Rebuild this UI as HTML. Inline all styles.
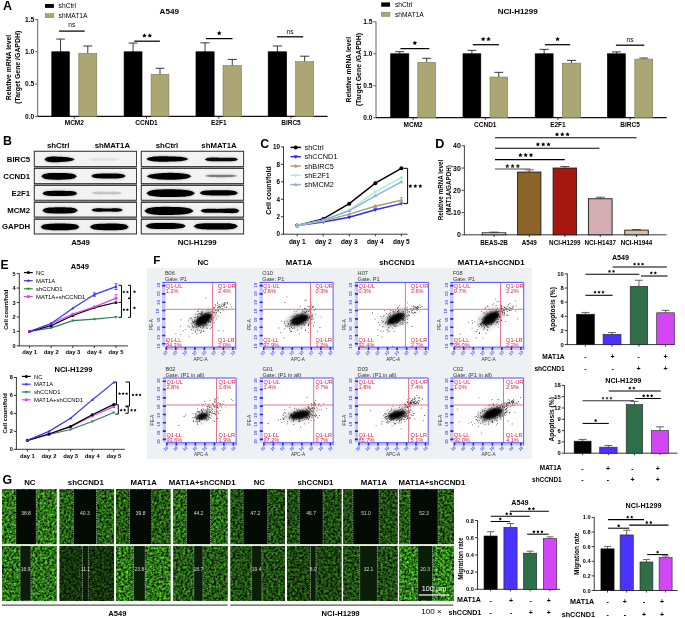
<!DOCTYPE html><html><head><meta charset="utf-8"><style>html,body{margin:0;padding:0;background:#fff;}svg{display:block;will-change:transform;font-family:"Liberation Sans", sans-serif;}</style></head><body><svg width="685" height="618" viewBox="0 0 685 618" font-family="'Liberation Sans', sans-serif"><defs><filter id="bl" x="-20%" y="-80%" width="140%" height="260%"><feGaussianBlur stdDeviation="0.6"/></filter><filter id="bl2" x="-30%" y="-150%" width="160%" height="400%"><feGaussianBlur stdDeviation="1.5"/></filter><filter id="sb1" x="-50%" y="-50%" width="200%" height="200%"><feGaussianBlur stdDeviation="1.0"/></filter><filter id="sb2" x="-50%" y="-50%" width="200%" height="200%"><feGaussianBlur stdDeviation="2.0"/></filter><filter id="g00" x="0" y="0" width="100%" height="100%" color-interpolation-filters="sRGB"><feTurbulence type="fractalNoise" baseFrequency="0.42" numOctaves="3" seed="1"/><feColorMatrix values="0.56 0 0 0 -0.1  1.47 0 0 0 -0.28  0.32 0 0 0 -0.06  0 0 0 0 1"/></filter><filter id="g01" x="0" y="0" width="100%" height="100%" color-interpolation-filters="sRGB"><feTurbulence type="fractalNoise" baseFrequency="0.42" numOctaves="3" seed="2"/><feColorMatrix values="0.46 0 0 0 -0.09  1.2 0 0 0 -0.22  0.26 0 0 0 -0.05  0 0 0 0 1"/></filter><filter id="g02" x="0" y="0" width="100%" height="100%" color-interpolation-filters="sRGB"><feTurbulence type="fractalNoise" baseFrequency="0.42" numOctaves="3" seed="3"/><feColorMatrix values="0.44 0 0 0 -0.08  1.15 0 0 0 -0.22  0.25 0 0 0 -0.05  0 0 0 0 1"/></filter><filter id="g03" x="0" y="0" width="100%" height="100%" color-interpolation-filters="sRGB"><feTurbulence type="fractalNoise" baseFrequency="0.42" numOctaves="3" seed="4"/><feColorMatrix values="0.49 0 0 0 -0.09  1.28 0 0 0 -0.24  0.28 0 0 0 -0.05  0 0 0 0 1"/></filter><filter id="g04" x="0" y="0" width="100%" height="100%" color-interpolation-filters="sRGB"><feTurbulence type="fractalNoise" baseFrequency="0.42" numOctaves="3" seed="5"/><feColorMatrix values="0.38 0 0 0 -0.07  0.99 0 0 0 -0.19  0.22 0 0 0 -0.04  0 0 0 0 1"/></filter><filter id="g05" x="0" y="0" width="100%" height="100%" color-interpolation-filters="sRGB"><feTurbulence type="fractalNoise" baseFrequency="0.42" numOctaves="3" seed="6"/><feColorMatrix values="0.37 0 0 0 -0.07  0.96 0 0 0 -0.18  0.21 0 0 0 -0.04  0 0 0 0 1"/></filter><filter id="g06" x="0" y="0" width="100%" height="100%" color-interpolation-filters="sRGB"><feTurbulence type="fractalNoise" baseFrequency="0.42" numOctaves="3" seed="7"/><feColorMatrix values="0.37 0 0 0 -0.07  0.96 0 0 0 -0.18  0.21 0 0 0 -0.04  0 0 0 0 1"/></filter><filter id="g07" x="0" y="0" width="100%" height="100%" color-interpolation-filters="sRGB"><feTurbulence type="fractalNoise" baseFrequency="0.42" numOctaves="3" seed="8"/><feColorMatrix values="0.44 0 0 0 -0.08  1.15 0 0 0 -0.22  0.25 0 0 0 -0.05  0 0 0 0 1"/></filter><filter id="g10" x="0" y="0" width="100%" height="100%" color-interpolation-filters="sRGB"><feTurbulence type="fractalNoise" baseFrequency="0.42" numOctaves="3" seed="9"/><feColorMatrix values="0.54 0 0 0 -0.1  1.41 0 0 0 -0.26  0.31 0 0 0 -0.06  0 0 0 0 1"/></filter><filter id="g11" x="0" y="0" width="100%" height="100%" color-interpolation-filters="sRGB"><feTurbulence type="fractalNoise" baseFrequency="0.42" numOctaves="3" seed="10"/><feColorMatrix values="0.26 0 0 0 -0.05  0.67 0 0 0 -0.13  0.15 0 0 0 -0.03  0 0 0 0 1"/></filter><filter id="g12" x="0" y="0" width="100%" height="100%" color-interpolation-filters="sRGB"><feTurbulence type="fractalNoise" baseFrequency="0.42" numOctaves="3" seed="11"/><feColorMatrix values="0.56 0 0 0 -0.1  1.47 0 0 0 -0.28  0.32 0 0 0 -0.06  0 0 0 0 1"/></filter><filter id="g13" x="0" y="0" width="100%" height="100%" color-interpolation-filters="sRGB"><feTurbulence type="fractalNoise" baseFrequency="0.42" numOctaves="3" seed="12"/><feColorMatrix values="0.44 0 0 0 -0.08  1.15 0 0 0 -0.22  0.25 0 0 0 -0.05  0 0 0 0 1"/></filter><filter id="g14" x="0" y="0" width="100%" height="100%" color-interpolation-filters="sRGB"><feTurbulence type="fractalNoise" baseFrequency="0.42" numOctaves="3" seed="13"/><feColorMatrix values="0.38 0 0 0 -0.07  0.99 0 0 0 -0.19  0.22 0 0 0 -0.04  0 0 0 0 1"/></filter><filter id="g15" x="0" y="0" width="100%" height="100%" color-interpolation-filters="sRGB"><feTurbulence type="fractalNoise" baseFrequency="0.42" numOctaves="3" seed="14"/><feColorMatrix values="0.34 0 0 0 -0.06  0.88 0 0 0 -0.17  0.19 0 0 0 -0.04  0 0 0 0 1"/></filter><filter id="g16" x="0" y="0" width="100%" height="100%" color-interpolation-filters="sRGB"><feTurbulence type="fractalNoise" baseFrequency="0.42" numOctaves="3" seed="15"/><feColorMatrix values="0.38 0 0 0 -0.07  0.99 0 0 0 -0.19  0.22 0 0 0 -0.04  0 0 0 0 1"/></filter><filter id="g17" x="0" y="0" width="100%" height="100%" color-interpolation-filters="sRGB"><feTurbulence type="fractalNoise" baseFrequency="0.42" numOctaves="3" seed="16"/><feColorMatrix values="0.58 0 0 0 -0.11  1.52 0 0 0 -0.28  0.33 0 0 0 -0.06  0 0 0 0 1"/></filter></defs><rect width="685" height="618" fill="#fff"/><text x="2.9" y="9.5" font-size="12.5" font-weight="bold">A</text><rect x="45" y="4" width="8.9" height="3.9" fill="#000"/><rect x="45.2" y="13.7" width="8.6" height="4" fill="#aba674" stroke="#7d7a55" stroke-width="0.5"/><text x="58.6" y="7.91" font-size="6.7" font-weight="normal">shCtrl</text><text x="58.6" y="17.91" font-size="6.7" font-weight="normal">shMAT1A</text><text x="169.25" y="13.62" font-size="8.1" font-weight="bold" text-anchor="middle">A549</text><line x1="37.7" y1="19.1" x2="37.7" y2="116.8" stroke="#666" stroke-width="1"/><line x1="35" y1="19.5" x2="37.7" y2="19.5" stroke="#666" stroke-width="1"/><text x="34.2" y="21.88" font-size="6.6" font-weight="bold" text-anchor="end">1.5</text><line x1="35" y1="51.8" x2="37.7" y2="51.8" stroke="#666" stroke-width="1"/><text x="34.2" y="54.18" font-size="6.6" font-weight="bold" text-anchor="end">1.0</text><line x1="35" y1="84.1" x2="37.7" y2="84.1" stroke="#666" stroke-width="1"/><text x="34.2" y="86.48" font-size="6.6" font-weight="bold" text-anchor="end">0.5</text><line x1="35" y1="116.4" x2="37.7" y2="116.4" stroke="#666" stroke-width="1"/><text x="34.2" y="118.78" font-size="6.6" font-weight="bold" text-anchor="end">0.0</text><line x1="37.7" y1="116.4" x2="327.6" y2="116.4" stroke="#111" stroke-width="1.2"/><line x1="60.55" y1="39.07" x2="60.55" y2="51.8" stroke="#222" stroke-width="0.9"/><line x1="56.17" y1="39.07" x2="64.92" y2="39.07" stroke="#222" stroke-width="0.9"/><rect x="51.8" y="51.8" width="17.5" height="64.6" fill="#000" stroke="#000" stroke-width="0.7"/><line x1="87.8" y1="45.99" x2="87.8" y2="53.29" stroke="#222" stroke-width="0.9"/><line x1="83.3" y1="45.99" x2="92.3" y2="45.99" stroke="#222" stroke-width="0.9"/><rect x="78.8" y="53.29" width="18" height="63.11" fill="#aba674" stroke="#7d7a55" stroke-width="0.6"/><line x1="74.3" y1="116.4" x2="74.3" y2="118.6" stroke="#222" stroke-width="0.9"/><text x="74.3" y="125.14" font-size="6.5" font-weight="bold" text-anchor="middle">MCM2</text><line x1="133.05" y1="43.08" x2="133.05" y2="51.8" stroke="#222" stroke-width="0.9"/><line x1="128.58" y1="43.08" x2="137.53" y2="43.08" stroke="#222" stroke-width="0.9"/><rect x="124.1" y="51.8" width="17.9" height="64.6" fill="#000" stroke="#000" stroke-width="0.7"/><line x1="160" y1="68.21" x2="160" y2="74.28" stroke="#222" stroke-width="0.9"/><line x1="155.55" y1="68.21" x2="164.45" y2="68.21" stroke="#222" stroke-width="0.9"/><rect x="151.1" y="74.28" width="17.8" height="42.12" fill="#aba674" stroke="#7d7a55" stroke-width="0.6"/><line x1="146.5" y1="116.4" x2="146.5" y2="118.6" stroke="#222" stroke-width="0.9"/><text x="146.5" y="125.14" font-size="6.5" font-weight="bold" text-anchor="middle">CCND1</text><line x1="205.05" y1="42.82" x2="205.05" y2="51.8" stroke="#222" stroke-width="0.9"/><line x1="200.53" y1="42.82" x2="209.58" y2="42.82" stroke="#222" stroke-width="0.9"/><rect x="196" y="51.8" width="18.1" height="64.6" fill="#000" stroke="#000" stroke-width="0.7"/><line x1="232.25" y1="59.42" x2="232.25" y2="65.69" stroke="#222" stroke-width="0.9"/><line x1="227.62" y1="59.42" x2="236.88" y2="59.42" stroke="#222" stroke-width="0.9"/><rect x="223" y="65.69" width="18.5" height="50.71" fill="#aba674" stroke="#7d7a55" stroke-width="0.6"/><line x1="218.75" y1="116.4" x2="218.75" y2="118.6" stroke="#222" stroke-width="0.9"/><text x="218.75" y="125.14" font-size="6.5" font-weight="bold" text-anchor="middle">E2F1</text><line x1="277.4" y1="45.99" x2="277.4" y2="51.8" stroke="#222" stroke-width="0.9"/><line x1="272.8" y1="45.99" x2="282" y2="45.99" stroke="#222" stroke-width="0.9"/><rect x="268.2" y="51.8" width="18.4" height="64.6" fill="#000" stroke="#000" stroke-width="0.7"/><line x1="304.65" y1="56.19" x2="304.65" y2="61.68" stroke="#222" stroke-width="0.9"/><line x1="300.12" y1="56.19" x2="309.17" y2="56.19" stroke="#222" stroke-width="0.9"/><rect x="295.6" y="61.68" width="18.1" height="54.72" fill="#aba674" stroke="#7d7a55" stroke-width="0.6"/><line x1="290.95" y1="116.4" x2="290.95" y2="118.6" stroke="#222" stroke-width="0.9"/><text x="290.95" y="125.14" font-size="6.5" font-weight="bold" text-anchor="middle">BIRC5</text><line x1="59" y1="31.1" x2="84.7" y2="31.1" stroke="#000" stroke-width="1.25"/><text x="71.85" y="27.18" font-size="6.6" font-weight="normal" text-anchor="middle">ns</text><line x1="134.3" y1="41.2" x2="159.9" y2="41.2" stroke="#000" stroke-width="1.25"/><path d="M144.4 33.24L145.11 34.67L146.68 34.9L145.54 36.01L145.81 37.58L144.4 36.84L142.99 37.58L143.26 36.01L142.12 34.9L143.69 34.67ZM149.8 33.24L150.51 34.67L152.08 34.9L150.94 36.01L151.21 37.58L149.8 36.84L148.39 37.58L148.66 36.01L147.52 34.9L149.09 34.67Z" fill="#000"/><line x1="206" y1="38.6" x2="232.5" y2="38.6" stroke="#000" stroke-width="1.25"/><path d="M219.25 30.84L219.96 32.27L221.53 32.5L220.39 33.61L220.66 35.18L219.25 34.44L217.84 35.18L218.11 33.61L216.97 32.5L218.54 32.27Z" fill="#000"/><line x1="277" y1="36.8" x2="303.2" y2="36.8" stroke="#000" stroke-width="1.25"/><text x="290.1" y="33.58" font-size="6.6" font-weight="normal" text-anchor="middle">ns</text><text x="8.4" y="69.95" font-size="6.8" font-weight="bold" text-anchor="middle" transform="rotate(-90 8.4 67.5)">Relative mRNA level</text><text x="17.3" y="69.78" font-size="6.9" font-weight="bold" text-anchor="middle" transform="rotate(-90 17.3 67.3)">(Target Gene /GAPDH)</text><rect x="381.2" y="2.4" width="8.8" height="4.3" fill="#000"/><rect x="381.4" y="12.2" width="8.5" height="4.2" fill="#aba674" stroke="#7d7a55" stroke-width="0.5"/><text x="394.9" y="6.91" font-size="6.7" font-weight="normal">shCtrl</text><text x="394.9" y="16.61" font-size="6.7" font-weight="normal">shMAT1A</text><text x="517.7" y="13.88" font-size="8" font-weight="bold" text-anchor="middle">NCI-H1299</text><line x1="376" y1="21.45" x2="376" y2="118.1" stroke="#666" stroke-width="1"/><line x1="373.3" y1="21.85" x2="376" y2="21.85" stroke="#666" stroke-width="1"/><text x="372.5" y="24.23" font-size="6.6" font-weight="bold" text-anchor="end">1.5</text><line x1="373.3" y1="53.8" x2="376" y2="53.8" stroke="#666" stroke-width="1"/><text x="372.5" y="56.18" font-size="6.6" font-weight="bold" text-anchor="end">1.0</text><line x1="373.3" y1="85.75" x2="376" y2="85.75" stroke="#666" stroke-width="1"/><text x="372.5" y="88.13" font-size="6.6" font-weight="bold" text-anchor="end">0.5</text><line x1="373.3" y1="117.7" x2="376" y2="117.7" stroke="#666" stroke-width="1"/><text x="372.5" y="120.08" font-size="6.6" font-weight="bold" text-anchor="end">0.0</text><line x1="376" y1="117.7" x2="666.8" y2="117.7" stroke="#111" stroke-width="1.2"/><line x1="399.75" y1="51.69" x2="399.75" y2="53.8" stroke="#222" stroke-width="0.9"/><line x1="395.23" y1="51.69" x2="404.27" y2="51.69" stroke="#222" stroke-width="0.9"/><rect x="390.7" y="53.8" width="18.1" height="63.9" fill="#000" stroke="#000" stroke-width="0.7"/><line x1="426.7" y1="58.27" x2="426.7" y2="62.3" stroke="#222" stroke-width="0.9"/><line x1="422.25" y1="58.27" x2="431.15" y2="58.27" stroke="#222" stroke-width="0.9"/><rect x="417.8" y="62.3" width="17.8" height="55.4" fill="#aba674" stroke="#7d7a55" stroke-width="0.6"/><line x1="413.15" y1="117.7" x2="413.15" y2="119.9" stroke="#222" stroke-width="0.9"/><text x="413.15" y="126.74" font-size="6.5" font-weight="bold" text-anchor="middle">MCM2</text><line x1="471.9" y1="50.35" x2="471.9" y2="53.8" stroke="#222" stroke-width="0.9"/><line x1="467.45" y1="50.35" x2="476.35" y2="50.35" stroke="#222" stroke-width="0.9"/><rect x="463" y="53.8" width="17.8" height="63.9" fill="#000" stroke="#000" stroke-width="0.7"/><line x1="498.8" y1="72.33" x2="498.8" y2="77" stroke="#222" stroke-width="0.9"/><line x1="494.4" y1="72.33" x2="503.2" y2="72.33" stroke="#222" stroke-width="0.9"/><rect x="490" y="77" width="17.6" height="40.7" fill="#aba674" stroke="#7d7a55" stroke-width="0.6"/><line x1="485.3" y1="117.7" x2="485.3" y2="119.9" stroke="#222" stroke-width="0.9"/><text x="485.3" y="126.74" font-size="6.5" font-weight="bold" text-anchor="middle">CCND1</text><line x1="544.15" y1="49.39" x2="544.15" y2="53.8" stroke="#222" stroke-width="0.9"/><line x1="539.68" y1="49.39" x2="548.63" y2="49.39" stroke="#222" stroke-width="0.9"/><rect x="535.2" y="53.8" width="17.9" height="63.9" fill="#000" stroke="#000" stroke-width="0.7"/><line x1="571.5" y1="60.38" x2="571.5" y2="63.13" stroke="#222" stroke-width="0.9"/><line x1="566.9" y1="60.38" x2="576.1" y2="60.38" stroke="#222" stroke-width="0.9"/><rect x="562.3" y="63.13" width="18.4" height="54.57" fill="#aba674" stroke="#7d7a55" stroke-width="0.6"/><line x1="557.95" y1="117.7" x2="557.95" y2="119.9" stroke="#222" stroke-width="0.9"/><text x="557.95" y="126.74" font-size="6.5" font-weight="bold" text-anchor="middle">E2F1</text><line x1="616.4" y1="51.88" x2="616.4" y2="53.8" stroke="#222" stroke-width="0.9"/><line x1="611.95" y1="51.88" x2="620.85" y2="51.88" stroke="#222" stroke-width="0.9"/><rect x="607.5" y="53.8" width="17.8" height="63.9" fill="#000" stroke="#000" stroke-width="0.7"/><line x1="643.75" y1="58.02" x2="643.75" y2="59.1" stroke="#222" stroke-width="0.9"/><line x1="639.27" y1="58.02" x2="648.23" y2="58.02" stroke="#222" stroke-width="0.9"/><rect x="634.8" y="59.1" width="17.9" height="58.6" fill="#aba674" stroke="#7d7a55" stroke-width="0.6"/><line x1="630.1" y1="117.7" x2="630.1" y2="119.9" stroke="#222" stroke-width="0.9"/><text x="630.1" y="126.74" font-size="6.5" font-weight="bold" text-anchor="middle">BIRC5</text><line x1="400.4" y1="48.6" x2="429.3" y2="48.6" stroke="#000" stroke-width="1.25"/><path d="M414.85 40.64L415.56 42.07L417.13 42.3L415.99 43.41L416.26 44.98L414.85 44.24L413.44 44.98L413.71 43.41L412.57 42.3L414.14 42.07Z" fill="#000"/><line x1="472.7" y1="44.7" x2="499" y2="44.7" stroke="#000" stroke-width="1.25"/><path d="M483.15 36.74L483.86 38.17L485.43 38.4L484.29 39.51L484.56 41.08L483.15 40.34L481.74 41.08L482.01 39.51L480.87 38.4L482.44 38.17ZM488.55 36.74L489.26 38.17L490.83 38.4L489.69 39.51L489.96 41.08L488.55 40.34L487.14 41.08L487.41 39.51L486.27 38.4L487.84 38.17Z" fill="#000"/><line x1="545" y1="44.7" x2="570.2" y2="44.7" stroke="#000" stroke-width="1.25"/><path d="M557.6 36.74L558.31 38.17L559.88 38.4L558.74 39.51L559.01 41.08L557.6 40.34L556.19 41.08L556.46 39.51L555.32 38.4L556.89 38.17Z" fill="#000"/><line x1="615.9" y1="45.2" x2="644.3" y2="45.2" stroke="#000" stroke-width="1.25"/><text x="630.1" y="41.78" font-size="6.6" font-weight="normal" text-anchor="middle">ns</text><text x="348.2" y="72.15" font-size="6.8" font-weight="bold" text-anchor="middle" transform="rotate(-90 348.2 69.7)">Relative mRNA level</text><text x="358.5" y="71.98" font-size="6.9" font-weight="bold" text-anchor="middle" transform="rotate(-90 358.5 69.5)">(Target Gene /GAPDH)</text><text x="3.1" y="144.8" font-size="12.4" font-weight="bold">B</text><rect x="33.8" y="150.8" width="103.2" height="83.6" fill="#8a8a8a"/><rect x="34.3" y="151.3" width="102.2" height="15.2" fill="#f3f3f3" stroke="#333" stroke-width="0.9"/><rect x="34.3" y="168.5" width="102.2" height="15.1" fill="#f3f3f3" stroke="#333" stroke-width="0.9"/><rect x="34.3" y="185.5" width="102.2" height="14.7" fill="#f3f3f3" stroke="#333" stroke-width="0.9"/><rect x="34.3" y="202.5" width="102.2" height="14.5" fill="#f3f3f3" stroke="#333" stroke-width="0.9"/><rect x="34.3" y="219.4" width="102.2" height="14.5" fill="#f3f3f3" stroke="#333" stroke-width="0.9"/><rect x="140.8" y="150.8" width="103.3" height="83.6" fill="#8a8a8a"/><rect x="141.3" y="151.3" width="102.3" height="15.2" fill="#f3f3f3" stroke="#333" stroke-width="0.9"/><rect x="141.3" y="168.5" width="102.3" height="15.1" fill="#f3f3f3" stroke="#333" stroke-width="0.9"/><rect x="141.3" y="185.5" width="102.3" height="14.7" fill="#f3f3f3" stroke="#333" stroke-width="0.9"/><rect x="141.3" y="202.5" width="102.3" height="14.5" fill="#f3f3f3" stroke="#333" stroke-width="0.9"/><rect x="141.3" y="219.4" width="102.3" height="14.5" fill="#f3f3f3" stroke="#333" stroke-width="0.9"/><text x="30.2" y="161.71" font-size="7.8" font-weight="bold" text-anchor="end">BIRC5</text><text x="30.2" y="178.86" font-size="7.8" font-weight="bold" text-anchor="end">CCND1</text><text x="30.2" y="195.66" font-size="7.8" font-weight="bold" text-anchor="end">E2F1</text><text x="30.2" y="212.56" font-size="7.8" font-weight="bold" text-anchor="end">MCM2</text><text x="30.2" y="229.46" font-size="7.8" font-weight="bold" text-anchor="end">GAPDH</text><text x="58.2" y="147.81" font-size="7.8" font-weight="bold" text-anchor="middle">shCtrl</text><text x="112.4" y="147.81" font-size="7.8" font-weight="bold" text-anchor="middle">shMAT1A</text><text x="167" y="147.81" font-size="7.8" font-weight="bold" text-anchor="middle">shCtrl</text><text x="219" y="147.81" font-size="7.8" font-weight="bold" text-anchor="middle">shMAT1A</text><text x="80.5" y="245.01" font-size="7.8" font-weight="bold" text-anchor="middle">A549</text><text x="197.2" y="245.01" font-size="7.8" font-weight="bold" text-anchor="middle">NCI-H1299</text><path d="M44.5 159.4L46.38 157.53L48.26 156.98L50.14 156.7L52.02 156.58L53.91 156.55L55.79 156.58L57.67 156.66L59.55 156.75L61.43 156.85L63.31 156.97L65.19 157.12L67.07 157.31L68.96 157.56L70.84 157.88L72.72 158.32L74.6 159.4L74.6 159.4L72.72 160.48L70.84 160.92L68.96 161.24L67.07 161.49L65.19 161.68L63.31 161.83L61.43 161.95L59.55 162.05L57.67 162.14L55.79 162.22L53.91 162.25L52.02 162.22L50.14 162.1L48.26 161.82L46.38 161.27L44.5 159.4Z" fill="#000" fill-opacity="0.3" filter="url(#bl2)" transform="translate(0 0)"/><path d="M44.5 159.4L46.38 157.53L48.26 156.98L50.14 156.7L52.02 156.58L53.91 156.55L55.79 156.58L57.67 156.66L59.55 156.75L61.43 156.85L63.31 156.97L65.19 157.12L67.07 157.31L68.96 157.56L70.84 157.88L72.72 158.32L74.6 159.4L74.6 159.4L72.72 160.48L70.84 160.92L68.96 161.24L67.07 161.49L65.19 161.68L63.31 161.83L61.43 161.95L59.55 162.05L57.67 162.14L55.79 162.22L53.91 162.25L52.02 162.22L50.14 162.1L48.26 161.82L46.38 161.27L44.5 159.4Z" fill="#000" fill-opacity="1" filter="url(#bl)"/><path d="M89.6 159.5L91.39 158.72L93.17 158.47L94.96 158.33L96.75 158.24L98.54 158.19L100.33 158.16L102.11 158.15L103.9 158.15L105.69 158.15L107.47 158.16L109.26 158.19L111.05 158.24L112.84 158.33L114.62 158.47L116.41 158.72L118.2 159.5L118.2 159.5L116.41 160.28L114.62 160.53L112.84 160.67L111.05 160.76L109.26 160.81L107.47 160.84L105.69 160.85L103.9 160.85L102.11 160.85L100.33 160.84L98.54 160.81L96.75 160.76L94.96 160.67L93.17 160.53L91.39 160.28L89.6 159.5Z" fill="#000" fill-opacity="0.02" filter="url(#bl2)" transform="translate(0 0)"/><path d="M89.6 159.5L91.39 158.72L93.17 158.47L94.96 158.33L96.75 158.24L98.54 158.19L100.33 158.16L102.11 158.15L103.9 158.15L105.69 158.15L107.47 158.16L109.26 158.19L111.05 158.24L112.84 158.33L114.62 158.47L116.41 158.72L118.2 159.5L118.2 159.5L116.41 160.28L114.62 160.53L112.84 160.67L111.05 160.76L109.26 160.81L107.47 160.84L105.69 160.85L103.9 160.85L102.11 160.85L100.33 160.84L98.54 160.81L96.75 160.76L94.96 160.67L93.17 160.53L91.39 160.28L89.6 159.5Z" fill="#000" fill-opacity="0.07" filter="url(#bl)"/><path d="M41.2 176.3L43.43 174.3L45.66 173.67L47.89 173.31L50.12 173.1L52.36 172.99L54.59 172.94L56.82 172.94L59.05 172.95L61.28 172.97L63.51 173.01L65.74 173.09L67.98 173.23L70.21 173.47L72.44 173.83L74.67 174.45L76.9 176.3L76.9 176.3L74.67 178.15L72.44 178.77L70.21 179.13L67.98 179.37L65.74 179.51L63.51 179.59L61.28 179.63L59.05 179.65L56.82 179.66L54.59 179.66L52.36 179.61L50.12 179.5L47.89 179.29L45.66 178.93L43.43 178.3L41.2 176.3Z" fill="#000" fill-opacity="0.3" filter="url(#bl2)" transform="translate(0 0)"/><path d="M41.2 176.3L43.43 174.3L45.66 173.67L47.89 173.31L50.12 173.1L52.36 172.99L54.59 172.94L56.82 172.94L59.05 172.95L61.28 172.97L63.51 173.01L65.74 173.09L67.98 173.23L70.21 173.47L72.44 173.83L74.67 174.45L76.9 176.3L76.9 176.3L74.67 178.15L72.44 178.77L70.21 179.13L67.98 179.37L65.74 179.51L63.51 179.59L61.28 179.63L59.05 179.65L56.82 179.66L54.59 179.66L52.36 179.61L50.12 179.5L47.89 179.29L45.66 178.93L43.43 178.3L41.2 176.3Z" fill="#000" fill-opacity="1" filter="url(#bl)"/><path d="M91.1 176L93.26 174.49L95.42 174.05L97.59 173.8L99.75 173.67L101.91 173.6L104.08 173.57L106.24 173.56L108.4 173.55L110.56 173.54L112.72 173.53L114.89 173.55L117.05 173.6L119.21 173.73L121.38 173.97L123.54 174.42L125.7 176L125.7 176L123.54 177.58L121.38 178.03L119.21 178.27L117.05 178.4L114.89 178.45L112.72 178.47L110.56 178.46L108.4 178.45L106.24 178.44L104.08 178.43L101.91 178.4L99.75 178.33L97.59 178.2L95.42 177.95L93.26 177.51L91.1 176Z" fill="#000" fill-opacity="0.3" filter="url(#bl2)" transform="translate(0 0)"/><path d="M91.1 176L93.26 174.49L95.42 174.05L97.59 173.8L99.75 173.67L101.91 173.6L104.08 173.57L106.24 173.56L108.4 173.55L110.56 173.54L112.72 173.53L114.89 173.55L117.05 173.6L119.21 173.73L121.38 173.97L123.54 174.42L125.7 176L125.7 176L123.54 177.58L121.38 178.03L119.21 178.27L117.05 178.4L114.89 178.45L112.72 178.47L110.56 178.46L108.4 178.45L106.24 178.44L104.08 178.43L101.91 178.4L99.75 178.33L97.59 178.2L95.42 177.95L93.26 177.51L91.1 176Z" fill="#000" fill-opacity="1" filter="url(#bl)"/><path d="M42.3 193.4L44.49 191.76L46.67 191.29L48.86 191.04L51.05 190.91L53.24 190.85L55.42 190.83L57.61 190.84L59.8 190.85L61.99 190.86L64.17 190.87L66.36 190.9L68.55 190.98L70.74 191.12L72.92 191.37L75.11 191.84L77.3 193.4L77.3 193.4L75.11 194.96L72.92 195.43L70.74 195.68L68.55 195.82L66.36 195.9L64.17 195.93L61.99 195.94L59.8 195.95L57.61 195.96L55.42 195.97L53.24 195.95L51.05 195.89L48.86 195.76L46.67 195.51L44.49 195.04L42.3 193.4Z" fill="#000" fill-opacity="0.3" filter="url(#bl2)" transform="translate(0 0)"/><path d="M42.3 193.4L44.49 191.76L46.67 191.29L48.86 191.04L51.05 190.91L53.24 190.85L55.42 190.83L57.61 190.84L59.8 190.85L61.99 190.86L64.17 190.87L66.36 190.9L68.55 190.98L70.74 191.12L72.92 191.37L75.11 191.84L77.3 193.4L77.3 193.4L75.11 194.96L72.92 195.43L70.74 195.68L68.55 195.82L66.36 195.9L64.17 195.93L61.99 195.94L59.8 195.95L57.61 195.96L55.42 195.97L53.24 195.95L51.05 195.89L48.86 195.76L46.67 195.51L44.49 195.04L42.3 193.4Z" fill="#000" fill-opacity="1" filter="url(#bl)"/><path d="M91.8 193L93.69 192L95.58 191.76L97.46 191.65L99.35 191.62L101.24 191.62L103.12 191.63L105.01 191.64L106.9 191.65L108.79 191.64L110.67 191.63L112.56 191.62L114.45 191.62L116.34 191.65L118.22 191.76L120.11 192L122 193L122 193L120.11 194L118.22 194.24L116.34 194.35L114.45 194.38L112.56 194.38L110.67 194.37L108.79 194.36L106.9 194.35L105.01 194.36L103.12 194.37L101.24 194.38L99.35 194.38L97.46 194.35L95.58 194.24L93.69 194L91.8 193Z" fill="#000" fill-opacity="0.05" filter="url(#bl2)" transform="translate(0 0)"/><path d="M91.8 193L93.69 192L95.58 191.76L97.46 191.65L99.35 191.62L101.24 191.62L103.12 191.63L105.01 191.64L106.9 191.65L108.79 191.64L110.67 191.63L112.56 191.62L114.45 191.62L116.34 191.65L118.22 191.76L120.11 192L122 193L122 193L120.11 194L118.22 194.24L116.34 194.35L114.45 194.38L112.56 194.38L110.67 194.37L108.79 194.36L106.9 194.35L105.01 194.36L103.12 194.37L101.24 194.38L99.35 194.38L97.46 194.35L95.58 194.24L93.69 194L91.8 193Z" fill="#000" fill-opacity="0.16" filter="url(#bl)"/><path d="M42.3 210.4L44.52 208.47L46.74 207.91L48.96 207.61L51.17 207.45L53.39 207.38L55.61 207.35L57.83 207.35L60.05 207.35L62.27 207.35L64.49 207.35L66.71 207.38L68.92 207.45L71.14 207.61L73.36 207.91L75.58 208.47L77.8 210.4L77.8 210.4L75.58 212.33L73.36 212.89L71.14 213.19L68.92 213.35L66.71 213.42L64.49 213.45L62.27 213.45L60.05 213.45L57.83 213.45L55.61 213.45L53.39 213.42L51.17 213.35L48.96 213.19L46.74 212.89L44.52 212.33L42.3 210.4Z" fill="#000" fill-opacity="0.3" filter="url(#bl2)" transform="translate(0 0)"/><path d="M42.3 210.4L44.52 208.47L46.74 207.91L48.96 207.61L51.17 207.45L53.39 207.38L55.61 207.35L57.83 207.35L60.05 207.35L62.27 207.35L64.49 207.35L66.71 207.38L68.92 207.45L71.14 207.61L73.36 207.91L75.58 208.47L77.8 210.4L77.8 210.4L75.58 212.33L73.36 212.89L71.14 213.19L68.92 213.35L66.71 213.42L64.49 213.45L62.27 213.45L60.05 213.45L57.83 213.45L55.61 213.45L53.39 213.42L51.17 213.35L48.96 213.19L46.74 212.89L44.52 212.33L42.3 210.4Z" fill="#000" fill-opacity="1" filter="url(#bl)"/><path d="M91.4 210L93.37 208.66L95.34 208.39L97.31 208.31L99.28 208.31L101.24 208.35L103.21 208.4L105.18 208.44L107.15 208.45L109.12 208.44L111.09 208.4L113.06 208.35L115.03 208.31L116.99 208.31L118.96 208.39L120.93 208.66L122.9 210L122.9 210L120.93 211.34L118.96 211.61L116.99 211.69L115.03 211.69L113.06 211.65L111.09 211.6L109.12 211.56L107.15 211.55L105.18 211.56L103.21 211.6L101.24 211.65L99.28 211.69L97.31 211.69L95.34 211.61L93.37 211.34L91.4 210Z" fill="#000" fill-opacity="0.3" filter="url(#bl2)" transform="translate(0 0)"/><path d="M91.4 210L93.37 208.66L95.34 208.39L97.31 208.31L99.28 208.31L101.24 208.35L103.21 208.4L105.18 208.44L107.15 208.45L109.12 208.44L111.09 208.4L113.06 208.35L115.03 208.31L116.99 208.31L118.96 208.39L120.93 208.66L122.9 210L122.9 210L120.93 211.34L118.96 211.61L116.99 211.69L115.03 211.69L113.06 211.65L111.09 211.6L109.12 211.56L107.15 211.55L105.18 211.56L103.21 211.6L101.24 211.65L99.28 211.69L97.31 211.69L95.34 211.61L93.37 211.34L91.4 210Z" fill="#000" fill-opacity="1" filter="url(#bl)"/><path d="M40.6 226.9L43.03 224.87L45.46 224.26L47.89 223.93L50.33 223.74L52.76 223.65L55.19 223.61L57.62 223.6L60.05 223.6L62.48 223.6L64.91 223.61L67.34 223.65L69.78 223.74L72.21 223.93L74.64 224.26L77.07 224.87L79.5 226.9L79.5 226.9L77.07 228.93L74.64 229.54L72.21 229.87L69.78 230.06L67.34 230.15L64.91 230.19L62.48 230.2L60.05 230.2L57.62 230.2L55.19 230.19L52.76 230.15L50.33 230.06L47.89 229.87L45.46 229.54L43.03 228.93L40.6 226.9Z" fill="#000" fill-opacity="0.3" filter="url(#bl2)" transform="translate(0 0)"/><path d="M40.6 226.9L43.03 224.87L45.46 224.26L47.89 223.93L50.33 223.74L52.76 223.65L55.19 223.61L57.62 223.6L60.05 223.6L62.48 223.6L64.91 223.61L67.34 223.65L69.78 223.74L72.21 223.93L74.64 224.26L77.07 224.87L79.5 226.9L79.5 226.9L77.07 228.93L74.64 229.54L72.21 229.87L69.78 230.06L67.34 230.15L64.91 230.19L62.48 230.2L60.05 230.2L57.62 230.2L55.19 230.19L52.76 230.15L50.33 230.06L47.89 229.87L45.46 229.54L43.03 228.93L40.6 226.9Z" fill="#000" fill-opacity="1" filter="url(#bl)"/><path d="M89.7 226.9L92.14 224.95L94.59 224.34L97.03 224L99.48 223.8L101.92 223.69L104.36 223.64L106.81 223.61L109.25 223.6L111.69 223.59L114.14 223.58L116.58 223.61L119.03 223.7L121.47 223.89L123.91 224.22L126.36 224.84L128.8 226.9L128.8 226.9L126.36 228.96L123.91 229.58L121.47 229.91L119.03 230.1L116.58 230.19L114.14 230.22L111.69 230.21L109.25 230.2L106.81 230.19L104.36 230.16L101.92 230.11L99.48 230L97.03 229.8L94.59 229.46L92.14 228.85L89.7 226.9Z" fill="#000" fill-opacity="0.3" filter="url(#bl2)" transform="translate(0 0)"/><path d="M89.7 226.9L92.14 224.95L94.59 224.34L97.03 224L99.48 223.8L101.92 223.69L104.36 223.64L106.81 223.61L109.25 223.6L111.69 223.59L114.14 223.58L116.58 223.61L119.03 223.7L121.47 223.89L123.91 224.22L126.36 224.84L128.8 226.9L128.8 226.9L126.36 228.96L123.91 229.58L121.47 229.91L119.03 230.1L116.58 230.19L114.14 230.22L111.69 230.21L109.25 230.2L106.81 230.19L104.36 230.16L101.92 230.11L99.48 230L97.03 229.8L94.59 229.46L92.14 228.85L89.7 226.9Z" fill="#000" fill-opacity="1" filter="url(#bl)"/><path d="M146.3 159L148.93 157.41L151.56 156.91L154.19 156.61L156.83 156.44L159.46 156.36L162.09 156.32L164.72 156.33L167.35 156.35L169.98 156.38L172.61 156.43L175.24 156.51L177.88 156.65L180.51 156.85L183.14 157.15L185.77 157.63L188.4 159L188.4 159L185.77 160.37L183.14 160.85L180.51 161.15L177.88 161.35L175.24 161.49L172.61 161.57L169.98 161.62L167.35 161.65L164.72 161.67L162.09 161.68L159.46 161.64L156.83 161.56L154.19 161.39L151.56 161.09L148.93 160.59L146.3 159Z" fill="#000" fill-opacity="0.3" filter="url(#bl2)" transform="translate(0 0)"/><path d="M146.3 159L148.93 157.41L151.56 156.91L154.19 156.61L156.83 156.44L159.46 156.36L162.09 156.32L164.72 156.33L167.35 156.35L169.98 156.38L172.61 156.43L175.24 156.51L177.88 156.65L180.51 156.85L183.14 157.15L185.77 157.63L188.4 159L188.4 159L185.77 160.37L183.14 160.85L180.51 161.15L177.88 161.35L175.24 161.49L172.61 161.57L169.98 161.62L167.35 161.65L164.72 161.67L162.09 161.68L159.46 161.64L156.83 161.56L154.19 161.39L151.56 161.09L148.93 160.59L146.3 159Z" fill="#000" fill-opacity="1" filter="url(#bl)"/><path d="M204.9 159.4L206.97 158.04L209.04 157.72L211.11 157.6L213.18 157.56L215.24 157.57L217.31 157.6L219.38 157.63L221.45 157.65L223.52 157.65L225.59 157.64L227.66 157.63L229.72 157.63L231.79 157.67L233.86 157.8L235.93 158.12L238 159.4L238 159.4L235.93 160.68L233.86 161L231.79 161.13L229.72 161.17L227.66 161.17L225.59 161.16L223.52 161.15L221.45 161.15L219.38 161.17L217.31 161.2L215.24 161.23L213.18 161.24L211.11 161.2L209.04 161.08L206.97 160.76L204.9 159.4Z" fill="#000" fill-opacity="0.28" filter="url(#bl2)" transform="translate(0 0)"/><path d="M204.9 159.4L206.97 158.04L209.04 157.72L211.11 157.6L213.18 157.56L215.24 157.57L217.31 157.6L219.38 157.63L221.45 157.65L223.52 157.65L225.59 157.64L227.66 157.63L229.72 157.63L231.79 157.67L233.86 157.8L235.93 158.12L238 159.4L238 159.4L235.93 160.68L233.86 161L231.79 161.13L229.72 161.17L227.66 161.17L225.59 161.16L223.52 161.15L221.45 161.15L219.38 161.17L217.31 161.2L215.24 161.23L213.18 161.24L211.11 161.2L209.04 161.08L206.97 160.76L204.9 159.4Z" fill="#000" fill-opacity="0.95" filter="url(#bl)"/><path d="M146.7 176.3L149.49 174.83L152.29 174.19L155.08 173.73L157.88 173.39L160.67 173.15L163.46 172.99L166.26 172.89L169.05 172.85L171.84 172.84L174.64 172.88L177.43 172.99L180.22 173.19L183.02 173.5L185.81 173.95L188.61 174.61L191.4 176.3L191.4 176.3L188.61 177.99L185.81 178.65L183.02 179.1L180.22 179.41L177.43 179.61L174.64 179.72L171.84 179.76L169.05 179.75L166.26 179.71L163.46 179.61L160.67 179.45L157.88 179.21L155.08 178.87L152.29 178.41L149.49 177.77L146.7 176.3Z" fill="#000" fill-opacity="0.3" filter="url(#bl2)" transform="translate(0 0)"/><path d="M146.7 176.3L149.49 174.83L152.29 174.19L155.08 173.73L157.88 173.39L160.67 173.15L163.46 172.99L166.26 172.89L169.05 172.85L171.84 172.84L174.64 172.88L177.43 172.99L180.22 173.19L183.02 173.5L185.81 173.95L188.61 174.61L191.4 176.3L191.4 176.3L188.61 177.99L185.81 178.65L183.02 179.1L180.22 179.41L177.43 179.61L174.64 179.72L171.84 179.76L169.05 179.75L166.26 179.71L163.46 179.61L160.67 179.45L157.88 179.21L155.08 178.87L152.29 178.41L149.49 177.77L146.7 176.3Z" fill="#000" fill-opacity="1" filter="url(#bl)"/><path d="M204.9 175.9L206.92 175.18L208.94 174.95L210.96 174.81L212.97 174.73L214.99 174.68L217.01 174.66L219.03 174.65L221.05 174.65L223.07 174.65L225.09 174.66L227.11 174.68L229.12 174.73L231.14 174.81L233.16 174.95L235.18 175.18L237.2 175.9L237.2 175.9L235.18 176.62L233.16 176.85L231.14 176.99L229.12 177.07L227.11 177.12L225.09 177.14L223.07 177.15L221.05 177.15L219.03 177.15L217.01 177.14L214.99 177.12L212.97 177.07L210.96 176.99L208.94 176.85L206.92 176.62L204.9 175.9Z" fill="#000" fill-opacity="0.14" filter="url(#bl2)" transform="translate(0 0)"/><path d="M204.9 175.9L206.92 175.18L208.94 174.95L210.96 174.81L212.97 174.73L214.99 174.68L217.01 174.66L219.03 174.65L221.05 174.65L223.07 174.65L225.09 174.66L227.11 174.68L229.12 174.73L231.14 174.81L233.16 174.95L235.18 175.18L237.2 175.9L237.2 175.9L235.18 176.62L233.16 176.85L231.14 176.99L229.12 177.07L227.11 177.12L225.09 177.14L223.07 177.15L221.05 177.15L219.03 177.15L217.01 177.14L214.99 177.12L212.97 177.07L210.96 176.99L208.94 176.85L206.92 176.62L204.9 175.9Z" fill="#000" fill-opacity="0.45" filter="url(#bl)"/><path d="M146.3 193.2L149.35 191.01L152.4 190.28L155.45 189.84L158.5 189.58L161.55 189.43L164.6 189.36L167.65 189.34L170.7 189.35L173.75 189.37L176.8 189.43L179.85 189.53L182.9 189.71L185.95 190L189 190.44L192.05 191.15L195.1 193.2L195.1 193.2L192.05 195.25L189 195.96L185.95 196.4L182.9 196.69L179.85 196.87L176.8 196.97L173.75 197.03L170.7 197.05L167.65 197.06L164.6 197.04L161.55 196.97L158.5 196.82L155.45 196.56L152.4 196.12L149.35 195.39L146.3 193.2Z" fill="#000" fill-opacity="0.3" filter="url(#bl2)" transform="translate(0 0)"/><path d="M146.3 193.2L149.35 191.01L152.4 190.28L155.45 189.84L158.5 189.58L161.55 189.43L164.6 189.36L167.65 189.34L170.7 189.35L173.75 189.37L176.8 189.43L179.85 189.53L182.9 189.71L185.95 190L189 190.44L192.05 191.15L195.1 193.2L195.1 193.2L192.05 195.25L189 195.96L185.95 196.4L182.9 196.69L179.85 196.87L176.8 196.97L173.75 197.03L170.7 197.05L167.65 197.06L164.6 197.04L161.55 196.97L158.5 196.82L155.45 196.56L152.4 196.12L149.35 195.39L146.3 193.2Z" fill="#000" fill-opacity="1" filter="url(#bl)"/><path d="M199.6 192.9L202 191.25L204.4 190.78L206.8 190.55L209.2 190.43L211.6 190.37L214 190.36L216.4 190.35L218.8 190.35L221.2 190.34L223.6 190.32L226 190.32L228.4 190.36L230.8 190.47L233.2 190.7L235.6 191.17L238 192.9L238 192.9L235.6 194.63L233.2 195.1L230.8 195.33L228.4 195.44L226 195.48L223.6 195.48L221.2 195.46L218.8 195.45L216.4 195.45L214 195.44L211.6 195.43L209.2 195.37L206.8 195.25L204.4 195.02L202 194.55L199.6 192.9Z" fill="#000" fill-opacity="0.3" filter="url(#bl2)" transform="translate(0 0)"/><path d="M199.6 192.9L202 191.25L204.4 190.78L206.8 190.55L209.2 190.43L211.6 190.37L214 190.36L216.4 190.35L218.8 190.35L221.2 190.34L223.6 190.32L226 190.32L228.4 190.36L230.8 190.47L233.2 190.7L235.6 191.17L238 192.9L238 192.9L235.6 194.63L233.2 195.1L230.8 195.33L228.4 195.44L226 195.48L223.6 195.48L221.2 195.46L218.8 195.45L216.4 195.45L214 195.44L211.6 195.43L209.2 195.37L206.8 195.25L204.4 195.02L202 194.55L199.6 192.9Z" fill="#000" fill-opacity="1" filter="url(#bl)"/><path d="M144.3 210.9L147.38 208.52L150.46 207.74L153.54 207.29L156.62 207.03L159.71 206.88L162.79 206.82L165.87 206.82L168.95 206.85L172.03 206.89L175.11 206.97L178.19 207.09L181.28 207.29L184.36 207.6L187.44 208.07L190.52 208.81L193.6 210.9L193.6 210.9L190.52 212.99L187.44 213.73L184.36 214.2L181.28 214.51L178.19 214.71L175.11 214.83L172.03 214.91L168.95 214.95L165.87 214.98L162.79 214.98L159.71 214.92L156.62 214.77L153.54 214.51L150.46 214.06L147.38 213.28L144.3 210.9Z" fill="#000" fill-opacity="0.3" filter="url(#bl2)" transform="translate(0 0)"/><path d="M144.3 210.9L147.38 208.52L150.46 207.74L153.54 207.29L156.62 207.03L159.71 206.88L162.79 206.82L165.87 206.82L168.95 206.85L172.03 206.89L175.11 206.97L178.19 207.09L181.28 207.29L184.36 207.6L187.44 208.07L190.52 208.81L193.6 210.9L193.6 210.9L190.52 212.99L187.44 213.73L184.36 214.2L181.28 214.51L178.19 214.71L175.11 214.83L172.03 214.91L168.95 214.95L165.87 214.98L162.79 214.98L159.71 214.92L156.62 214.77L153.54 214.51L150.46 214.06L147.38 213.28L144.3 210.9Z" fill="#000" fill-opacity="1" filter="url(#bl)"/><path d="M200.4 210.8L202.84 209.28L205.29 208.95L207.73 208.85L210.18 208.83L212.62 208.85L215.06 208.87L217.51 208.88L219.95 208.85L222.39 208.79L224.84 208.69L227.28 208.59L229.72 208.5L232.17 208.46L234.61 208.55L237.06 208.92L239.5 210.8L239.5 210.8L237.06 212.68L234.61 213.05L232.17 213.14L229.72 213.1L227.28 213.01L224.84 212.91L222.39 212.81L219.95 212.75L217.51 212.72L215.06 212.73L212.62 212.75L210.18 212.77L207.73 212.75L205.29 212.65L202.84 212.32L200.4 210.8Z" fill="#000" fill-opacity="0.3" filter="url(#bl2)" transform="translate(0 0)"/><path d="M200.4 210.8L202.84 209.28L205.29 208.95L207.73 208.85L210.18 208.83L212.62 208.85L215.06 208.87L217.51 208.88L219.95 208.85L222.39 208.79L224.84 208.69L227.28 208.59L229.72 208.5L232.17 208.46L234.61 208.55L237.06 208.92L239.5 210.8L239.5 210.8L237.06 212.68L234.61 213.05L232.17 213.14L229.72 213.1L227.28 213.01L224.84 212.91L222.39 212.81L219.95 212.75L217.51 212.72L215.06 212.73L212.62 212.75L210.18 212.77L207.73 212.75L205.29 212.65L202.84 212.32L200.4 210.8Z" fill="#000" fill-opacity="1" filter="url(#bl)"/><path d="M145.5 226L148.02 224.18L150.54 223.6L153.06 223.27L155.57 223.08L158.09 222.98L160.61 222.94L163.13 222.94L165.65 222.95L168.17 222.97L170.69 223.01L173.21 223.08L175.73 223.21L178.24 223.43L180.76 223.76L183.28 224.32L185.8 226L185.8 226L183.28 227.68L180.76 228.24L178.24 228.57L175.73 228.79L173.21 228.92L170.69 228.99L168.17 229.03L165.65 229.05L163.13 229.06L160.61 229.06L158.09 229.02L155.57 228.92L153.06 228.73L150.54 228.4L148.02 227.82L145.5 226Z" fill="#000" fill-opacity="0.3" filter="url(#bl2)" transform="translate(0 0)"/><path d="M145.5 226L148.02 224.18L150.54 223.6L153.06 223.27L155.57 223.08L158.09 222.98L160.61 222.94L163.13 222.94L165.65 222.95L168.17 222.97L170.69 223.01L173.21 223.08L175.73 223.21L178.24 223.43L180.76 223.76L183.28 224.32L185.8 226L185.8 226L183.28 227.68L180.76 228.24L178.24 228.57L175.73 228.79L173.21 228.92L170.69 228.99L168.17 229.03L165.65 229.05L163.13 229.06L160.61 229.06L158.09 229.02L155.57 228.92L153.06 228.73L150.54 228.4L148.02 227.82L145.5 226Z" fill="#000" fill-opacity="1" filter="url(#bl)"/><path d="M193.6 226.3L196.38 224.3L199.15 223.73L201.92 223.43L204.7 223.27L207.47 223.19L210.25 223.16L213.03 223.15L215.8 223.15L218.57 223.14L221.35 223.13L224.12 223.14L226.9 223.2L229.68 223.35L232.45 223.65L235.22 224.23L238 226.3L238 226.3L235.22 228.37L232.45 228.95L229.68 229.25L226.9 229.4L224.12 229.46L221.35 229.47L218.57 229.46L215.8 229.45L213.03 229.45L210.25 229.44L207.47 229.41L204.7 229.33L201.92 229.17L199.15 228.87L196.38 228.3L193.6 226.3Z" fill="#000" fill-opacity="0.3" filter="url(#bl2)" transform="translate(0 0)"/><path d="M193.6 226.3L196.38 224.3L199.15 223.73L201.92 223.43L204.7 223.27L207.47 223.19L210.25 223.16L213.03 223.15L215.8 223.15L218.57 223.14L221.35 223.13L224.12 223.14L226.9 223.2L229.68 223.35L232.45 223.65L235.22 224.23L238 226.3L238 226.3L235.22 228.37L232.45 228.95L229.68 229.25L226.9 229.4L224.12 229.46L221.35 229.47L218.57 229.46L215.8 229.45L213.03 229.45L210.25 229.44L207.47 229.41L204.7 229.33L201.92 229.17L199.15 228.87L196.38 228.3L193.6 226.3Z" fill="#000" fill-opacity="1" filter="url(#bl)"/><text x="260.3" y="147.6" font-size="12.4" font-weight="bold">C</text><line x1="283.5" y1="146.5" x2="283.5" y2="234.6" stroke="#222" stroke-width="0.9"/><line x1="280.9" y1="234.2" x2="283.5" y2="234.2" stroke="#222" stroke-width="0.9"/><text x="279.9" y="236.47" font-size="6.3" font-weight="bold" text-anchor="end">0</text><line x1="280.9" y1="216.74" x2="283.5" y2="216.74" stroke="#222" stroke-width="0.9"/><text x="279.9" y="219.01" font-size="6.3" font-weight="bold" text-anchor="end">2</text><line x1="280.9" y1="199.28" x2="283.5" y2="199.28" stroke="#222" stroke-width="0.9"/><text x="279.9" y="201.55" font-size="6.3" font-weight="bold" text-anchor="end">4</text><line x1="280.9" y1="181.82" x2="283.5" y2="181.82" stroke="#222" stroke-width="0.9"/><text x="279.9" y="184.09" font-size="6.3" font-weight="bold" text-anchor="end">6</text><line x1="280.9" y1="164.36" x2="283.5" y2="164.36" stroke="#222" stroke-width="0.9"/><text x="279.9" y="166.63" font-size="6.3" font-weight="bold" text-anchor="end">8</text><line x1="280.9" y1="146.9" x2="283.5" y2="146.9" stroke="#222" stroke-width="0.9"/><text x="279.9" y="149.17" font-size="6.3" font-weight="bold" text-anchor="end">10</text><line x1="283.5" y1="234.2" x2="407.6" y2="234.2" stroke="#222" stroke-width="0.9"/><line x1="297.2" y1="234.2" x2="297.2" y2="236.4" stroke="#222" stroke-width="0.9"/><text x="297.2" y="244.04" font-size="6.5" font-weight="bold" text-anchor="middle">day 1</text><line x1="323.2" y1="234.2" x2="323.2" y2="236.4" stroke="#222" stroke-width="0.9"/><text x="323.2" y="244.04" font-size="6.5" font-weight="bold" text-anchor="middle">day 2</text><line x1="349.3" y1="234.2" x2="349.3" y2="236.4" stroke="#222" stroke-width="0.9"/><text x="349.3" y="244.04" font-size="6.5" font-weight="bold" text-anchor="middle">day 3</text><line x1="375.3" y1="234.2" x2="375.3" y2="236.4" stroke="#222" stroke-width="0.9"/><text x="375.3" y="244.04" font-size="6.5" font-weight="bold" text-anchor="middle">day 4</text><line x1="401.4" y1="234.2" x2="401.4" y2="236.4" stroke="#222" stroke-width="0.9"/><text x="401.4" y="244.04" font-size="6.5" font-weight="bold" text-anchor="middle">day 5</text><polyline points="297.2,225.47 323.2,218.92 349.3,203.64 375.3,183.13 401.4,168.29" fill="none" stroke="#000" stroke-width="1.5"/><circle cx="297.2" cy="225.47" r="2" fill="#000"/><circle cx="323.2" cy="218.92" r="2" fill="#000"/><circle cx="349.3" cy="203.64" r="2" fill="#000"/><circle cx="375.3" cy="183.13" r="2" fill="#000"/><circle cx="401.4" cy="168.29" r="2" fill="#000"/><polyline points="297.2,225.47 323.2,221.98 349.3,217.18 375.3,209.76 401.4,203.64" fill="none" stroke="#2a2aff" stroke-width="1.5"/><path d="M295.2 224.07l4 0l-2 3.6z" fill="#2a2aff"/><path d="M321.2 220.58l4 0l-2 3.6z" fill="#2a2aff"/><path d="M347.3 215.78l4 0l-2 3.6z" fill="#2a2aff"/><path d="M373.3 208.36l4 0l-2 3.6z" fill="#2a2aff"/><path d="M399.4 202.24l4 0l-2 3.6z" fill="#2a2aff"/><line x1="375.3" y1="205.22" x2="375.3" y2="207.31" stroke="#a9a070" stroke-width="0.8"/><line x1="373.7" y1="205.22" x2="376.9" y2="205.22" stroke="#a9a070" stroke-width="0.8"/><line x1="373.7" y1="207.31" x2="376.9" y2="207.31" stroke="#a9a070" stroke-width="0.8"/><line x1="401.4" y1="197.53" x2="401.4" y2="202.77" stroke="#a9a070" stroke-width="0.8"/><line x1="399.8" y1="197.53" x2="403" y2="197.53" stroke="#a9a070" stroke-width="0.8"/><line x1="399.8" y1="202.77" x2="403" y2="202.77" stroke="#a9a070" stroke-width="0.8"/><polyline points="297.2,225.47 323.2,221.1 349.3,214.12 375.3,206.26 401.4,200.15" fill="none" stroke="#a9a070" stroke-width="1.5"/><path d="M295.2 226.87l4 0l-2 -3.6z" fill="#a9a070"/><path d="M321.2 222.5l4 0l-2 -3.6z" fill="#a9a070"/><path d="M347.3 215.52l4 0l-2 -3.6z" fill="#a9a070"/><path d="M373.3 207.66l4 0l-2 -3.6z" fill="#a9a070"/><path d="M399.4 201.55l4 0l-2 -3.6z" fill="#a9a070"/><polyline points="297.2,225.47 323.2,220.23 349.3,210.19 375.3,191.86 401.4,177.45" fill="none" stroke="#a8f0d8" stroke-width="1.5"/><path d="M297.2 223.47l2 2l-2 2l-2 -2z" fill="#a8f0d8"/><path d="M323.2 218.23l2 2l-2 2l-2 -2z" fill="#a8f0d8"/><path d="M349.3 208.19l2 2l-2 2l-2 -2z" fill="#a8f0d8"/><path d="M375.3 189.86l2 2l-2 2l-2 -2z" fill="#a8f0d8"/><path d="M401.4 175.45l2 2l-2 2l-2 -2z" fill="#a8f0d8"/><polyline points="297.2,225.47 323.2,220.23 349.3,210.63 375.3,195.79 401.4,181.82" fill="none" stroke="#90aee2" stroke-width="1.5"/><path d="M295.2 226.87l4 0l-2 -3.6z" fill="#90aee2"/><path d="M321.2 221.63l4 0l-2 -3.6z" fill="#90aee2"/><path d="M347.3 212.03l4 0l-2 -3.6z" fill="#90aee2"/><path d="M373.3 197.19l4 0l-2 -3.6z" fill="#90aee2"/><path d="M399.4 183.22l4 0l-2 -3.6z" fill="#90aee2"/><line x1="290.5" y1="147.4" x2="300.9" y2="147.4" stroke="#000" stroke-width="1.5"/><circle cx="295.7" cy="147.4" r="2" fill="#000"/><text x="304.6" y="150.03" font-size="7.3" font-weight="normal">shCtrl</text><line x1="290.5" y1="156.7" x2="300.9" y2="156.7" stroke="#2a2aff" stroke-width="1.5"/><path d="M293.7 155.3l4 0l-2 3.6z" fill="#2a2aff"/><text x="304.6" y="159.33" font-size="7.3" font-weight="normal">shCCND1</text><line x1="290.5" y1="166" x2="300.9" y2="166" stroke="#a9a070" stroke-width="1.5"/><path d="M293.7 167.4l4 0l-2 -3.6z" fill="#a9a070"/><text x="304.6" y="168.63" font-size="7.3" font-weight="normal">shBIRC5</text><line x1="290.5" y1="175.3" x2="300.9" y2="175.3" stroke="#a8f0d8" stroke-width="1.5"/><path d="M295.7 173.3l2 2l-2 2l-2 -2z" fill="#a8f0d8"/><text x="304.6" y="177.93" font-size="7.3" font-weight="normal">shE2F1</text><line x1="290.5" y1="184.6" x2="300.9" y2="184.6" stroke="#90aee2" stroke-width="1.5"/><path d="M293.7 186l4 0l-2 -3.6z" fill="#90aee2"/><text x="304.6" y="187.23" font-size="7.3" font-weight="normal">shMCM2</text><text x="268.6" y="193.07" font-size="7" font-weight="bold" text-anchor="middle" transform="rotate(-90 268.6 190.55)">Cell count/fold</text><line x1="403.4" y1="168.29" x2="407.6" y2="168.29" stroke="#000" stroke-width="1"/><line x1="407.6" y1="168.29" x2="407.6" y2="203.64" stroke="#000" stroke-width="1"/><line x1="403.4" y1="203.64" x2="407.6" y2="203.64" stroke="#000" stroke-width="1"/><path d="M410.3 184.01L410.92 185.26L412.3 185.46L411.3 186.43L411.53 187.81L410.3 187.16L409.07 187.81L409.3 186.43L408.3 185.46L409.68 185.26ZM415.3 184.01L415.92 185.26L417.3 185.46L416.3 186.43L416.53 187.81L415.3 187.16L414.07 187.81L414.3 186.43L413.3 185.46L414.68 185.26ZM420.3 184.01L420.92 185.26L422.3 185.46L421.3 186.43L421.53 187.81L420.3 187.16L419.07 187.81L419.3 186.43L418.3 185.46L419.68 185.26Z" fill="#000"/><text x="435.2" y="147.8" font-size="12.6" font-weight="bold">D</text><line x1="464.4" y1="145.4" x2="464.4" y2="235.2" stroke="#444" stroke-width="1"/><line x1="461.7" y1="234.8" x2="464.4" y2="234.8" stroke="#444" stroke-width="1"/><text x="460.8" y="237.32" font-size="7" font-weight="bold" text-anchor="end">0</text><line x1="461.7" y1="212.55" x2="464.4" y2="212.55" stroke="#444" stroke-width="1"/><text x="460.8" y="215.07" font-size="7" font-weight="bold" text-anchor="end">10</text><line x1="461.7" y1="190.3" x2="464.4" y2="190.3" stroke="#444" stroke-width="1"/><text x="460.8" y="192.82" font-size="7" font-weight="bold" text-anchor="end">20</text><line x1="461.7" y1="168.05" x2="464.4" y2="168.05" stroke="#444" stroke-width="1"/><text x="460.8" y="170.57" font-size="7" font-weight="bold" text-anchor="end">30</text><line x1="461.7" y1="145.8" x2="464.4" y2="145.8" stroke="#444" stroke-width="1"/><text x="460.8" y="148.32" font-size="7" font-weight="bold" text-anchor="end">40</text><line x1="464.4" y1="234.8" x2="666.5" y2="234.8" stroke="#222" stroke-width="0.9"/><line x1="494" y1="232.13" x2="494" y2="232.8" stroke="#444" stroke-width="0.9"/><line x1="489.5" y1="232.13" x2="498.5" y2="232.13" stroke="#444" stroke-width="0.9"/><rect x="482.2" y="232.8" width="23.6" height="2" fill="#eeeeee" stroke="#1a1a1a" stroke-width="0.9"/><line x1="494" y1="234.8" x2="494" y2="237" stroke="#222" stroke-width="0.9"/><text x="494" y="244.77" font-size="6.3" font-weight="bold" text-anchor="middle">BEAS-2B</text><line x1="529.25" y1="169.83" x2="529.25" y2="172.06" stroke="#444" stroke-width="0.9"/><line x1="524.75" y1="169.83" x2="533.75" y2="169.83" stroke="#444" stroke-width="0.9"/><rect x="517.6" y="172.06" width="23.3" height="62.75" fill="#8c6428" stroke="#1a1a1a" stroke-width="0.9"/><line x1="529.25" y1="234.8" x2="529.25" y2="237" stroke="#222" stroke-width="0.9"/><text x="529.25" y="244.77" font-size="6.3" font-weight="bold" text-anchor="middle">A549</text><line x1="564.85" y1="166.49" x2="564.85" y2="168.05" stroke="#444" stroke-width="0.9"/><line x1="560.35" y1="166.49" x2="569.35" y2="166.49" stroke="#444" stroke-width="0.9"/><rect x="553.1" y="168.05" width="23.5" height="66.75" fill="#a5170f" stroke="#1a1a1a" stroke-width="0.9"/><line x1="564.85" y1="234.8" x2="564.85" y2="237" stroke="#222" stroke-width="0.9"/><text x="564.85" y="244.77" font-size="6.3" font-weight="bold" text-anchor="middle">NCI-H1299</text><line x1="600.25" y1="197.2" x2="600.25" y2="198.75" stroke="#444" stroke-width="0.9"/><line x1="595.75" y1="197.2" x2="604.75" y2="197.2" stroke="#444" stroke-width="0.9"/><rect x="588.4" y="198.75" width="23.7" height="36.05" fill="#d4aeb2" stroke="#1a1a1a" stroke-width="0.9"/><line x1="600.25" y1="234.8" x2="600.25" y2="237" stroke="#222" stroke-width="0.9"/><text x="600.25" y="244.77" font-size="6.3" font-weight="bold" text-anchor="middle">NCI-H1437</text><line x1="636.5" y1="229.57" x2="636.5" y2="230.13" stroke="#444" stroke-width="0.9"/><line x1="632" y1="229.57" x2="641" y2="229.57" stroke="#444" stroke-width="0.9"/><rect x="624.7" y="230.13" width="23.6" height="4.67" fill="#d8bfa0" stroke="#1a1a1a" stroke-width="0.9"/><line x1="636.5" y1="234.8" x2="636.5" y2="237" stroke="#222" stroke-width="0.9"/><text x="636.5" y="244.77" font-size="6.3" font-weight="bold" text-anchor="middle">NCI-H1944</text><line x1="495" y1="137.8" x2="636.5" y2="137.8" stroke="#000" stroke-width="1.1"/><path d="M557 132.13L557.68 133.5L559.19 133.72L558.09 134.79L558.35 136.29L557 135.58L555.65 136.29L555.91 134.79L554.81 133.72L556.32 133.5ZM562.3 132.13L562.98 133.5L564.49 133.72L563.39 134.79L563.65 136.29L562.3 135.58L560.95 136.29L561.21 134.79L560.11 133.72L561.62 133.5ZM567.6 132.13L568.28 133.5L569.79 133.72L568.69 134.79L568.95 136.29L567.6 135.58L566.25 136.29L566.51 134.79L565.41 133.72L566.92 133.5Z" fill="#000"/><line x1="495" y1="148.3" x2="599.5" y2="148.3" stroke="#000" stroke-width="1.1"/><path d="M537.9 142.13L538.58 143.5L540.09 143.72L538.99 144.79L539.25 146.29L537.9 145.58L536.55 146.29L536.81 144.79L535.71 143.72L537.22 143.5ZM543.2 142.13L543.88 143.5L545.39 143.72L544.29 144.79L544.55 146.29L543.2 145.58L541.85 146.29L542.11 144.79L541.01 143.72L542.52 143.5ZM548.5 142.13L549.18 143.5L550.69 143.72L549.59 144.79L549.85 146.29L548.5 145.58L547.15 146.29L547.41 144.79L546.31 143.72L547.82 143.5Z" fill="#000"/><line x1="495" y1="159.6" x2="564.8" y2="159.6" stroke="#000" stroke-width="1.1"/><path d="M520.4 152.83L521.08 154.2L522.59 154.42L521.49 155.49L521.75 156.99L520.4 156.28L519.05 156.99L519.31 155.49L518.21 154.42L519.72 154.2ZM525.7 152.83L526.38 154.2L527.89 154.42L526.79 155.49L527.05 156.99L525.7 156.28L524.35 156.99L524.61 155.49L523.51 154.42L525.02 154.2ZM531 152.83L531.68 154.2L533.19 154.42L532.09 155.49L532.35 156.99L531 156.28L529.65 156.99L529.91 155.49L528.81 154.42L530.32 154.2Z" fill="#000"/><line x1="495" y1="169" x2="530.4" y2="169" stroke="#888" stroke-width="1.3"/><path d="M507.3 163.83L507.98 165.2L509.49 165.42L508.39 166.49L508.65 167.99L507.3 167.28L505.95 167.99L506.21 166.49L505.11 165.42L506.62 165.2ZM512.6 163.83L513.28 165.2L514.79 165.42L513.69 166.49L513.95 167.99L512.6 167.28L511.25 167.99L511.51 166.49L510.41 165.42L511.92 165.2ZM517.9 163.83L518.58 165.2L520.09 165.42L518.99 166.49L519.25 167.99L517.9 167.28L516.55 167.99L516.81 166.49L515.71 165.42L517.22 165.2Z" fill="#222"/><text x="440.8" y="192.27" font-size="6.3" font-weight="bold" text-anchor="middle" transform="rotate(-90 440.8 190)">Relative mRNA level</text><text x="448.7" y="192.27" font-size="6.3" font-weight="bold" text-anchor="middle" transform="rotate(-90 448.7 190)">(MAT1A/GAPDH)</text><text x="0.4" y="269" font-size="12.2" font-weight="bold">E</text><line x1="19.3" y1="273.2" x2="19.3" y2="346.3" stroke="#222" stroke-width="0.9"/><line x1="16.7" y1="345.9" x2="19.3" y2="345.9" stroke="#222" stroke-width="0.9"/><text x="15.7" y="347.92" font-size="5.6" font-weight="bold" text-anchor="end">0</text><line x1="16.7" y1="331.44" x2="19.3" y2="331.44" stroke="#222" stroke-width="0.9"/><text x="15.7" y="333.46" font-size="5.6" font-weight="bold" text-anchor="end">1</text><line x1="16.7" y1="316.98" x2="19.3" y2="316.98" stroke="#222" stroke-width="0.9"/><text x="15.7" y="319" font-size="5.6" font-weight="bold" text-anchor="end">2</text><line x1="16.7" y1="302.52" x2="19.3" y2="302.52" stroke="#222" stroke-width="0.9"/><text x="15.7" y="304.54" font-size="5.6" font-weight="bold" text-anchor="end">3</text><line x1="16.7" y1="288.06" x2="19.3" y2="288.06" stroke="#222" stroke-width="0.9"/><text x="15.7" y="290.08" font-size="5.6" font-weight="bold" text-anchor="end">4</text><line x1="16.7" y1="273.6" x2="19.3" y2="273.6" stroke="#222" stroke-width="0.9"/><text x="15.7" y="275.62" font-size="5.6" font-weight="bold" text-anchor="end">5</text><line x1="19.3" y1="345.9" x2="128" y2="345.9" stroke="#222" stroke-width="0.9"/><line x1="29.6" y1="345.9" x2="29.6" y2="348.1" stroke="#222" stroke-width="0.9"/><text x="29.6" y="353.89" font-size="5.8" font-weight="bold" text-anchor="middle">day 1</text><line x1="51.2" y1="345.9" x2="51.2" y2="348.1" stroke="#222" stroke-width="0.9"/><text x="51.2" y="353.89" font-size="5.8" font-weight="bold" text-anchor="middle">day 2</text><line x1="72.8" y1="345.9" x2="72.8" y2="348.1" stroke="#222" stroke-width="0.9"/><text x="72.8" y="353.89" font-size="5.8" font-weight="bold" text-anchor="middle">day 3</text><line x1="94.4" y1="345.9" x2="94.4" y2="348.1" stroke="#222" stroke-width="0.9"/><text x="94.4" y="353.89" font-size="5.8" font-weight="bold" text-anchor="middle">day 4</text><line x1="116" y1="345.9" x2="116" y2="348.1" stroke="#222" stroke-width="0.9"/><text x="116" y="353.89" font-size="5.8" font-weight="bold" text-anchor="middle">day 5</text><polyline points="29.6,331.44 51.2,327.82 72.8,320.59 94.4,319.15 116,316.98" fill="none" stroke="#2e7d4f" stroke-width="1.2"/><path d="M28.1 330.39l3 0l-1.5 2.7z" fill="#2e7d4f"/><path d="M49.7 326.77l3 0l-1.5 2.7z" fill="#2e7d4f"/><path d="M71.3 319.54l3 0l-1.5 2.7z" fill="#2e7d4f"/><path d="M92.9 318.1l3 0l-1.5 2.7z" fill="#2e7d4f"/><path d="M114.5 315.93l3 0l-1.5 2.7z" fill="#2e7d4f"/><polyline points="29.6,331.44 51.2,325.66 72.8,315.53 94.4,307.58 116,302.52" fill="none" stroke="#000" stroke-width="1.2"/><circle cx="29.6" cy="331.44" r="1.5" fill="#000"/><circle cx="51.2" cy="325.66" r="1.5" fill="#000"/><circle cx="72.8" cy="315.53" r="1.5" fill="#000"/><circle cx="94.4" cy="307.58" r="1.5" fill="#000"/><circle cx="116" cy="302.52" r="1.5" fill="#000"/><line x1="116" y1="294.57" x2="116" y2="301.8" stroke="#dd44f5" stroke-width="0.8"/><line x1="114.4" y1="294.57" x2="117.6" y2="294.57" stroke="#dd44f5" stroke-width="0.8"/><line x1="114.4" y1="301.8" x2="117.6" y2="301.8" stroke="#dd44f5" stroke-width="0.8"/><polyline points="29.6,331.44 51.2,323.49 72.8,314.09 94.4,306.86 116,298.18" fill="none" stroke="#dd44f5" stroke-width="1.2"/><rect x="28.25" y="330.09" width="2.7" height="2.7" fill="#dd44f5"/><rect x="49.85" y="322.14" width="2.7" height="2.7" fill="#dd44f5"/><rect x="71.45" y="312.74" width="2.7" height="2.7" fill="#dd44f5"/><rect x="93.05" y="305.51" width="2.7" height="2.7" fill="#dd44f5"/><rect x="114.65" y="296.83" width="2.7" height="2.7" fill="#dd44f5"/><line x1="94.4" y1="292.83" x2="94.4" y2="296.3" stroke="#3333ff" stroke-width="0.8"/><line x1="92.8" y1="292.83" x2="96" y2="292.83" stroke="#3333ff" stroke-width="0.8"/><line x1="92.8" y1="296.3" x2="96" y2="296.3" stroke="#3333ff" stroke-width="0.8"/><line x1="116" y1="283.72" x2="116" y2="289.51" stroke="#3333ff" stroke-width="0.8"/><line x1="114.4" y1="283.72" x2="117.6" y2="283.72" stroke="#3333ff" stroke-width="0.8"/><line x1="114.4" y1="289.51" x2="117.6" y2="289.51" stroke="#3333ff" stroke-width="0.8"/><polyline points="29.6,331.44 51.2,323.49 72.8,308.3 94.4,294.57 116,286.61" fill="none" stroke="#3333ff" stroke-width="1.2"/><path d="M28.1 332.49l3 0l-1.5 -2.7z" fill="#3333ff"/><path d="M49.7 324.54l3 0l-1.5 -2.7z" fill="#3333ff"/><path d="M71.3 309.35l3 0l-1.5 -2.7z" fill="#3333ff"/><path d="M92.9 295.62l3 0l-1.5 -2.7z" fill="#3333ff"/><path d="M114.5 287.66l3 0l-1.5 -2.7z" fill="#3333ff"/><line x1="24" y1="272.6" x2="32.8" y2="272.6" stroke="#000" stroke-width="1.2"/><circle cx="28.4" cy="272.6" r="1.5" fill="#000"/><text x="36.1" y="274.72" font-size="5.9" font-weight="normal">NC</text><line x1="24" y1="280.7" x2="32.8" y2="280.7" stroke="#3333ff" stroke-width="1.2"/><path d="M26.9 281.75l3 0l-1.5 -2.7z" fill="#3333ff"/><text x="36.1" y="282.82" font-size="5.9" font-weight="normal">MAT1A</text><line x1="24" y1="288.8" x2="32.8" y2="288.8" stroke="#2e7d4f" stroke-width="1.2"/><path d="M26.9 287.75l3 0l-1.5 2.7z" fill="#2e7d4f"/><text x="36.1" y="290.92" font-size="5.9" font-weight="normal">shCCND1</text><line x1="24" y1="296.6" x2="32.8" y2="296.6" stroke="#dd44f5" stroke-width="1.2"/><rect x="27.05" y="295.25" width="2.7" height="2.7" fill="#dd44f5"/><text x="36.1" y="298.72" font-size="5.9" font-weight="normal">MAT1A+shCCND1</text><text x="6.4" y="311.84" font-size="5.8" font-weight="bold" text-anchor="middle" transform="rotate(-90 6.4 309.75)">Cell count/fold</text><text x="79.9" y="268.54" font-size="7.6" font-weight="bold" text-anchor="middle">A549</text><line x1="118.5" y1="285.3" x2="121.5" y2="285.3" stroke="#000" stroke-width="1"/><line x1="121.5" y1="285.3" x2="121.5" y2="302.4" stroke="#000" stroke-width="1"/><line x1="118.5" y1="302.4" x2="121.5" y2="302.4" stroke="#000" stroke-width="1"/><line x1="118.5" y1="317.3" x2="121.5" y2="317.3" stroke="#000" stroke-width="1"/><line x1="121.5" y1="302.4" x2="121.5" y2="317.3" stroke="#000" stroke-width="1"/><path d="M123.8 290.46L124.27 291.41L125.32 291.57L124.56 292.31L124.74 293.35L123.8 292.86L122.86 293.35L123.04 292.31L122.28 291.57L123.33 291.41ZM127.4 290.46L127.87 291.41L128.92 291.57L128.16 292.31L128.34 293.35L127.4 292.86L126.46 293.35L126.64 292.31L125.88 291.57L126.93 291.41Z" fill="#000"/><path d="M123.8 308.16L124.27 309.11L125.32 309.27L124.56 310.01L124.74 311.05L123.8 310.56L122.86 311.05L123.04 310.01L122.28 309.27L123.33 309.11ZM127.4 308.16L127.87 309.11L128.92 309.27L128.16 310.01L128.34 311.05L127.4 310.56L126.46 311.05L126.64 310.01L125.88 309.27L126.93 309.11Z" fill="#000"/><line x1="128.1" y1="285.3" x2="130.5" y2="285.3" stroke="#000" stroke-width="1"/><line x1="130.5" y1="285.3" x2="130.5" y2="298" stroke="#000" stroke-width="1"/><line x1="128.1" y1="298" x2="130.5" y2="298" stroke="#000" stroke-width="1"/><line x1="128.1" y1="298.6" x2="130.5" y2="298.6" stroke="#000" stroke-width="1"/><line x1="130.5" y1="298.6" x2="130.5" y2="317.3" stroke="#000" stroke-width="1"/><line x1="128.1" y1="317.3" x2="130.5" y2="317.3" stroke="#000" stroke-width="1"/><path d="M134.5 290.06L134.97 291.01L136.02 291.17L135.26 291.91L135.44 292.95L134.5 292.46L133.56 292.95L133.74 291.91L132.98 291.17L134.03 291.01Z" fill="#000"/><path d="M134.5 306.36L134.97 307.31L136.02 307.47L135.26 308.21L135.44 309.25L134.5 308.76L133.56 309.25L133.74 308.21L132.98 307.47L134.03 307.31Z" fill="#000"/><line x1="16.4" y1="377.06" x2="16.4" y2="449.7" stroke="#222" stroke-width="0.9"/><line x1="13.8" y1="449.3" x2="16.4" y2="449.3" stroke="#222" stroke-width="0.9"/><text x="12.8" y="451.32" font-size="5.6" font-weight="bold" text-anchor="end">0</text><line x1="13.8" y1="431.34" x2="16.4" y2="431.34" stroke="#222" stroke-width="0.9"/><text x="12.8" y="433.36" font-size="5.6" font-weight="bold" text-anchor="end">2</text><line x1="13.8" y1="413.38" x2="16.4" y2="413.38" stroke="#222" stroke-width="0.9"/><text x="12.8" y="415.4" font-size="5.6" font-weight="bold" text-anchor="end">4</text><line x1="13.8" y1="395.42" x2="16.4" y2="395.42" stroke="#222" stroke-width="0.9"/><text x="12.8" y="397.44" font-size="5.6" font-weight="bold" text-anchor="end">6</text><line x1="13.8" y1="377.46" x2="16.4" y2="377.46" stroke="#222" stroke-width="0.9"/><text x="12.8" y="379.48" font-size="5.6" font-weight="bold" text-anchor="end">8</text><line x1="16.4" y1="449.3" x2="124.8" y2="449.3" stroke="#222" stroke-width="0.9"/><line x1="27.4" y1="449.3" x2="27.4" y2="451.5" stroke="#222" stroke-width="0.9"/><text x="27.4" y="457.79" font-size="5.8" font-weight="bold" text-anchor="middle">day 1</text><line x1="49" y1="449.3" x2="49" y2="451.5" stroke="#222" stroke-width="0.9"/><text x="49" y="457.79" font-size="5.8" font-weight="bold" text-anchor="middle">day 2</text><line x1="70.6" y1="449.3" x2="70.6" y2="451.5" stroke="#222" stroke-width="0.9"/><text x="70.6" y="457.79" font-size="5.8" font-weight="bold" text-anchor="middle">day 3</text><line x1="92.2" y1="449.3" x2="92.2" y2="451.5" stroke="#222" stroke-width="0.9"/><text x="92.2" y="457.79" font-size="5.8" font-weight="bold" text-anchor="middle">day 4</text><line x1="113.8" y1="449.3" x2="113.8" y2="451.5" stroke="#222" stroke-width="0.9"/><text x="113.8" y="457.79" font-size="5.8" font-weight="bold" text-anchor="middle">day 5</text><polyline points="27.4,440.32 49,434.48 70.6,429.54 92.2,421.46 113.8,412.48" fill="none" stroke="#2e7d4f" stroke-width="1.2"/><path d="M25.9 439.27l3 0l-1.5 2.7z" fill="#2e7d4f"/><path d="M47.5 433.43l3 0l-1.5 2.7z" fill="#2e7d4f"/><path d="M69.1 428.49l3 0l-1.5 2.7z" fill="#2e7d4f"/><path d="M90.7 420.41l3 0l-1.5 2.7z" fill="#2e7d4f"/><path d="M112.3 411.43l3 0l-1.5 2.7z" fill="#2e7d4f"/><polyline points="27.4,440.32 49,434.03 70.6,426.85 92.2,416.07 113.8,406.64" fill="none" stroke="#dd44f5" stroke-width="1.2"/><rect x="26.05" y="438.97" width="2.7" height="2.7" fill="#dd44f5"/><rect x="47.65" y="432.68" width="2.7" height="2.7" fill="#dd44f5"/><rect x="69.25" y="425.5" width="2.7" height="2.7" fill="#dd44f5"/><rect x="90.85" y="414.72" width="2.7" height="2.7" fill="#dd44f5"/><rect x="112.45" y="405.29" width="2.7" height="2.7" fill="#dd44f5"/><polyline points="27.4,440.32 49,434.03 70.6,426.4 92.2,414.73 113.8,404.4" fill="none" stroke="#000" stroke-width="1.2"/><circle cx="27.4" cy="440.32" r="1.5" fill="#000"/><circle cx="49" cy="434.03" r="1.5" fill="#000"/><circle cx="70.6" cy="426.4" r="1.5" fill="#000"/><circle cx="92.2" cy="414.73" r="1.5" fill="#000"/><circle cx="113.8" cy="404.4" r="1.5" fill="#000"/><polyline points="27.4,440.32 49,431.34 70.6,418.32 92.2,399.91 113.8,382.4" fill="none" stroke="#3333ff" stroke-width="1.2"/><path d="M25.9 441.37l3 0l-1.5 -2.7z" fill="#3333ff"/><path d="M47.5 432.39l3 0l-1.5 -2.7z" fill="#3333ff"/><path d="M69.1 419.37l3 0l-1.5 -2.7z" fill="#3333ff"/><path d="M90.7 400.96l3 0l-1.5 -2.7z" fill="#3333ff"/><path d="M112.3 383.45l3 0l-1.5 -2.7z" fill="#3333ff"/><line x1="21.9" y1="376.4" x2="30.7" y2="376.4" stroke="#000" stroke-width="1.2"/><circle cx="26.3" cy="376.4" r="1.5" fill="#000"/><text x="33.9" y="378.52" font-size="5.9" font-weight="normal">NC</text><line x1="21.9" y1="384.2" x2="30.7" y2="384.2" stroke="#3333ff" stroke-width="1.2"/><path d="M24.8 385.25l3 0l-1.5 -2.7z" fill="#3333ff"/><text x="33.9" y="386.32" font-size="5.9" font-weight="normal">MAT1A</text><line x1="21.9" y1="392" x2="30.7" y2="392" stroke="#2e7d4f" stroke-width="1.2"/><path d="M24.8 390.95l3 0l-1.5 2.7z" fill="#2e7d4f"/><text x="33.9" y="394.12" font-size="5.9" font-weight="normal">shCCND1</text><line x1="21.9" y1="399.8" x2="30.7" y2="399.8" stroke="#dd44f5" stroke-width="1.2"/><rect x="24.95" y="398.45" width="2.7" height="2.7" fill="#dd44f5"/><text x="33.9" y="401.92" font-size="5.9" font-weight="normal">MAT1A+shCCND1</text><text x="4.6" y="415.47" font-size="5.8" font-weight="bold" text-anchor="middle" transform="rotate(-90 4.6 413.38)">Cell count/fold</text><text x="73.4" y="371.54" font-size="7.6" font-weight="bold" text-anchor="middle">NCI-H1299</text><line x1="114.4" y1="382" x2="116.5" y2="382" stroke="#000" stroke-width="1"/><line x1="116.5" y1="382" x2="116.5" y2="404" stroke="#000" stroke-width="1"/><line x1="114.4" y1="404" x2="116.5" y2="404" stroke="#000" stroke-width="1"/><path d="M119.6 392.06L120.07 393.01L121.12 393.17L120.36 393.91L120.54 394.95L119.6 394.46L118.66 394.95L118.84 393.91L118.08 393.17L119.13 393.01ZM123.1 392.06L123.57 393.01L124.62 393.17L123.86 393.91L124.04 394.95L123.1 394.46L122.16 394.95L122.34 393.91L121.58 393.17L122.63 393.01ZM126.6 392.06L127.07 393.01L128.12 393.17L127.36 393.91L127.54 394.95L126.6 394.46L125.66 394.95L125.84 393.91L125.08 393.17L126.13 393.01Z" fill="#000"/><line x1="125.6" y1="382" x2="129.5" y2="382" stroke="#000" stroke-width="1"/><line x1="129.5" y1="382" x2="129.5" y2="406" stroke="#000" stroke-width="1"/><line x1="125.6" y1="406" x2="129.5" y2="406" stroke="#000" stroke-width="1"/><path d="M133 393.26L133.47 394.21L134.52 394.37L133.76 395.11L133.94 396.15L133 395.66L132.06 396.15L132.24 395.11L131.48 394.37L132.53 394.21ZM136.5 393.26L136.97 394.21L138.02 394.37L137.26 395.11L137.44 396.15L136.5 395.66L135.56 396.15L135.74 395.11L134.98 394.37L136.03 394.21ZM140 393.26L140.47 394.21L141.52 394.37L140.76 395.11L140.94 396.15L140 395.66L139.06 396.15L139.24 395.11L138.48 394.37L139.53 394.21Z" fill="#000"/><line x1="115.2" y1="404.8" x2="118.3" y2="404.8" stroke="#000" stroke-width="1"/><line x1="118.3" y1="404.8" x2="118.3" y2="414.1" stroke="#000" stroke-width="1"/><line x1="115.2" y1="414.1" x2="118.3" y2="414.1" stroke="#000" stroke-width="1"/><path d="M121.15 408.56L121.62 409.51L122.67 409.67L121.91 410.41L122.09 411.45L121.15 410.96L120.21 411.45L120.39 410.41L119.63 409.67L120.68 409.51ZM124.65 408.56L125.12 409.51L126.17 409.67L125.41 410.41L125.59 411.45L124.65 410.96L123.71 411.45L123.89 410.41L123.13 409.67L124.18 409.51Z" fill="#000"/><line x1="125.3" y1="406.8" x2="128.2" y2="406.8" stroke="#000" stroke-width="1"/><line x1="128.2" y1="406.8" x2="128.2" y2="413.3" stroke="#000" stroke-width="1"/><line x1="125.3" y1="413.3" x2="128.2" y2="413.3" stroke="#000" stroke-width="1"/><path d="M131.55 408.56L132.02 409.51L133.07 409.67L132.31 410.41L132.49 411.45L131.55 410.96L130.61 411.45L130.79 410.41L130.03 409.67L131.08 409.51ZM135.05 408.56L135.52 409.51L136.57 409.67L135.81 410.41L135.99 411.45L135.05 410.96L134.11 411.45L134.29 410.41L133.53 409.67L134.58 409.51Z" fill="#000"/><rect x="146.8" y="267.9" width="385" height="191.1" fill="#edf1f4"/><text x="153.3" y="264" font-size="11.8" font-weight="bold">F</text><text x="203.1" y="264.61" font-size="7.8" font-weight="bold" text-anchor="middle">NC</text><text x="299" y="264.61" font-size="7.8" font-weight="bold" text-anchor="middle">MAT1A</text><text x="397.2" y="264.61" font-size="7.8" font-weight="bold" text-anchor="middle">shCCND1</text><text x="491.15" y="264.61" font-size="7.8" font-weight="bold" text-anchor="middle">MAT1A+shCCND1</text><rect x="165.3" y="282.4" width="70.4" height="64.7" fill="#fff"/><ellipse cx="203.5" cy="319.5" rx="14.5" ry="8" transform="rotate(-33 203.5 319.5)" fill="#000" fill-opacity="0.22" filter="url(#sb2)"/><ellipse cx="203.5" cy="319.5" rx="9.5" ry="4.75" transform="rotate(-33 203.5 319.5)" fill="#000" filter="url(#sb1)"/><path d="M194.4 321.7h.8v.8h-.8zM198.9 323.9h.8v.8h-.8zM202.1 321.0h.8v.8h-.8zM211.1 318.9h.8v.8h-.8zM205.6 315.8h.8v.8h-.8zM196.5 319.9h.8v.8h-.8zM201.1 320.8h.8v.8h-.8zM194.4 319.7h.8v.8h-.8zM201.3 311.6h.8v.8h-.8zM203.3 321.8h.8v.8h-.8zM194.3 319.8h.8v.8h-.8zM199.9 325.1h.8v.8h-.8zM198.3 313.4h.8v.8h-.8zM203.0 325.0h.8v.8h-.8zM211.6 317.5h.8v.8h-.8zM197.6 314.0h.8v.8h-.8zM204.2 318.1h.8v.8h-.8zM207.6 324.7h.8v.8h-.8zM205.4 319.7h.8v.8h-.8zM207.0 315.9h.8v.8h-.8zM197.3 319.8h.8v.8h-.8zM209.8 318.0h.8v.8h-.8zM202.9 325.7h.8v.8h-.8zM201.6 313.9h.8v.8h-.8zM207.2 316.4h.8v.8h-.8zM195.8 327.1h.8v.8h-.8zM200.3 319.6h.8v.8h-.8zM202.4 309.1h.8v.8h-.8zM193.9 323.6h.8v.8h-.8zM203.6 316.0h.8v.8h-.8zM194.4 320.1h.8v.8h-.8zM204.3 322.4h.8v.8h-.8zM189.0 318.4h.8v.8h-.8zM200.6 319.4h.8v.8h-.8zM198.8 325.6h.8v.8h-.8zM207.6 314.0h.8v.8h-.8zM202.5 323.0h.8v.8h-.8zM197.4 316.4h.8v.8h-.8zM201.0 316.6h.8v.8h-.8zM204.5 316.3h.8v.8h-.8zM203.4 322.2h.8v.8h-.8zM201.2 317.8h.8v.8h-.8zM200.7 330.0h.8v.8h-.8zM207.4 309.3h.8v.8h-.8zM197.8 326.2h.8v.8h-.8zM199.6 322.1h.8v.8h-.8zM209.3 316.4h.8v.8h-.8zM201.5 318.4h.8v.8h-.8zM203.8 321.3h.8v.8h-.8zM217.6 315.7h.8v.8h-.8zM204.3 323.6h.8v.8h-.8zM200.9 313.7h.8v.8h-.8zM205.1 323.5h.8v.8h-.8zM201.7 325.4h.8v.8h-.8zM201.5 320.9h.8v.8h-.8zM200.3 332.1h.8v.8h-.8zM208.9 321.1h.8v.8h-.8zM197.1 316.3h.8v.8h-.8zM210.0 311.7h.8v.8h-.8zM214.2 311.7h.8v.8h-.8zM212.7 309.8h.8v.8h-.8zM193.3 329.7h.8v.8h-.8zM203.0 319.8h.8v.8h-.8zM208.5 311.8h.8v.8h-.8zM192.1 321.0h.8v.8h-.8zM188.0 320.4h.8v.8h-.8zM192.6 321.6h.8v.8h-.8zM197.6 317.2h.8v.8h-.8zM204.2 322.8h.8v.8h-.8zM202.7 322.0h.8v.8h-.8zM197.6 324.5h.8v.8h-.8zM204.5 315.2h.8v.8h-.8zM192.0 325.5h.8v.8h-.8zM205.7 324.7h.8v.8h-.8zM203.3 327.2h.8v.8h-.8zM185.4 328.9h.8v.8h-.8zM197.8 320.4h.8v.8h-.8zM198.2 321.8h.8v.8h-.8zM212.4 312.0h.8v.8h-.8zM209.5 314.2h.8v.8h-.8zM197.0 310.8h.8v.8h-.8zM203.7 321.4h.8v.8h-.8zM192.8 322.4h.8v.8h-.8zM200.9 330.8h.8v.8h-.8zM193.5 321.3h.8v.8h-.8zM180.1 325.8h.8v.8h-.8zM200.1 314.3h.8v.8h-.8zM182.7 330.5h.8v.8h-.8zM202.9 320.2h.8v.8h-.8zM202.6 315.9h.8v.8h-.8zM218.8 305.7h.8v.8h-.8zM201.6 313.3h.8v.8h-.8zM194.0 317.0h.8v.8h-.8zM202.1 317.3h.8v.8h-.8zM190.3 316.9h.8v.8h-.8zM207.1 320.2h.8v.8h-.8zM206.9 315.8h.8v.8h-.8zM208.3 319.9h.8v.8h-.8zM208.4 322.5h.8v.8h-.8zM201.2 321.1h.8v.8h-.8zM196.6 333.6h.8v.8h-.8zM197.7 324.0h.8v.8h-.8zM204.4 314.1h.8v.8h-.8zM203.4 322.2h.8v.8h-.8zM200.9 319.0h.8v.8h-.8zM198.5 318.5h.8v.8h-.8zM202.0 321.6h.8v.8h-.8zM207.9 321.5h.8v.8h-.8zM201.6 317.6h.8v.8h-.8zM208.8 317.2h.8v.8h-.8zM209.6 315.9h.8v.8h-.8zM207.0 318.7h.8v.8h-.8zM205.2 313.0h.8v.8h-.8zM202.3 320.7h.8v.8h-.8zM213.9 311.9h.8v.8h-.8zM205.3 317.0h.8v.8h-.8zM191.8 332.9h.8v.8h-.8zM210.0 321.1h.8v.8h-.8zM194.3 326.4h.8v.8h-.8zM200.2 313.3h.8v.8h-.8zM204.4 315.4h.8v.8h-.8zM202.1 311.6h.8v.8h-.8zM195.2 320.9h.8v.8h-.8zM192.7 326.3h.8v.8h-.8zM211.3 313.9h.8v.8h-.8zM210.2 322.0h.8v.8h-.8zM205.5 315.9h.8v.8h-.8zM190.8 329.1h.8v.8h-.8zM199.5 319.4h.8v.8h-.8zM208.8 318.4h.8v.8h-.8zM192.9 327.2h.8v.8h-.8zM202.5 324.0h.8v.8h-.8zM204.7 322.9h.8v.8h-.8zM197.4 321.0h.8v.8h-.8zM198.7 321.3h.8v.8h-.8zM203.9 324.8h.8v.8h-.8zM196.4 324.1h.8v.8h-.8zM191.7 319.5h.8v.8h-.8zM195.3 316.8h.8v.8h-.8zM202.2 316.2h.8v.8h-.8zM200.2 323.5h.8v.8h-.8zM211.9 311.0h.8v.8h-.8zM188.8 326.6h.8v.8h-.8zM205.3 323.6h.8v.8h-.8zM200.5 316.6h.8v.8h-.8zM211.5 319.4h.8v.8h-.8zM202.3 321.4h.8v.8h-.8zM211.3 327.1h.8v.8h-.8zM198.1 320.7h.8v.8h-.8zM204.0 322.5h.8v.8h-.8zM202.3 322.6h.8v.8h-.8zM213.6 322.6h.8v.8h-.8zM201.4 319.1h.8v.8h-.8zM196.7 314.4h.8v.8h-.8zM195.7 325.2h.8v.8h-.8zM210.1 328.0h.8v.8h-.8zM213.2 316.9h.8v.8h-.8zM211.5 310.9h.8v.8h-.8zM197.7 319.3h.8v.8h-.8zM207.1 327.8h.8v.8h-.8zM200.0 318.4h.8v.8h-.8zM205.4 322.3h.8v.8h-.8zM208.4 320.5h.8v.8h-.8zM193.3 321.7h.8v.8h-.8zM202.0 320.9h.8v.8h-.8zM209.5 309.1h.8v.8h-.8zM207.1 315.9h.8v.8h-.8zM205.9 314.5h.8v.8h-.8zM196.8 329.7h.8v.8h-.8zM200.8 311.4h.8v.8h-.8zM205.7 312.9h.8v.8h-.8zM202.6 319.9h.8v.8h-.8zM196.9 329.3h.8v.8h-.8zM203.6 327.5h.8v.8h-.8zM207.7 319.2h.8v.8h-.8zM209.7 325.3h.8v.8h-.8zM194.7 321.2h.8v.8h-.8zM201.6 326.5h.8v.8h-.8zM210.6 315.3h.8v.8h-.8zM201.4 312.5h.8v.8h-.8zM212.8 312.3h.8v.8h-.8zM203.5 317.9h.8v.8h-.8zM207.3 315.9h.8v.8h-.8zM204.4 319.3h.8v.8h-.8zM198.6 319.5h.8v.8h-.8zM207.0 319.2h.8v.8h-.8zM211.7 321.5h.8v.8h-.8zM190.9 318.3h.8v.8h-.8zM203.7 325.8h.8v.8h-.8zM199.0 313.2h.8v.8h-.8zM215.3 314.4h.8v.8h-.8zM191.5 323.0h.8v.8h-.8zM202.9 317.1h.8v.8h-.8zM203.8 321.9h.8v.8h-.8zM206.7 324.4h.8v.8h-.8zM205.6 325.6h.8v.8h-.8zM196.9 317.9h.8v.8h-.8zM187.4 325.5h.8v.8h-.8zM206.3 322.5h.8v.8h-.8zM180.4 334.3h.8v.8h-.8zM198.6 326.2h.8v.8h-.8zM200.7 322.8h.8v.8h-.8zM215.8 312.1h.8v.8h-.8zM204.6 323.7h.8v.8h-.8zM204.9 317.5h.8v.8h-.8zM191.9 325.2h.8v.8h-.8zM192.7 327.5h.8v.8h-.8zM207.4 317.2h.8v.8h-.8zM213.1 307.5h.8v.8h-.8zM206.2 317.9h.8v.8h-.8zM196.6 326.4h.8v.8h-.8zM211.5 319.9h.8v.8h-.8zM203.7 322.5h.8v.8h-.8zM202.4 327.7h.8v.8h-.8zM215.7 312.3h.8v.8h-.8zM202.5 314.8h.8v.8h-.8zM202.8 318.1h.8v.8h-.8zM201.8 313.5h.8v.8h-.8zM215.8 312.5h.8v.8h-.8zM211.9 316.6h.8v.8h-.8zM206.0 327.6h.8v.8h-.8zM207.6 309.4h.8v.8h-.8zM202.9 318.8h.8v.8h-.8zM203.2 330.6h.8v.8h-.8zM198.9 330.2h.8v.8h-.8zM195.2 331.8h.8v.8h-.8zM194.9 313.8h.8v.8h-.8zM206.5 320.0h.8v.8h-.8zM200.0 327.3h.8v.8h-.8zM195.0 330.8h.8v.8h-.8zM222.8 330.5h.8v.8h-.8zM203.5 331.3h.8v.8h-.8zM200.5 332.4h.8v.8h-.8zM212.2 324.6h.8v.8h-.8zM188.7 335.8h.8v.8h-.8zM218.2 329.9h.8v.8h-.8zM198.1 321.0h.8v.8h-.8zM216.3 318.4h.8v.8h-.8zM166.5 340.1h.8v.8h-.8zM214.0 308.3h.8v.8h-.8zM175.5 333.4h.8v.8h-.8zM197.7 310.9h.8v.8h-.8zM198.3 308.6h.8v.8h-.8zM201.4 322.0h.8v.8h-.8zM230.9 306.4h.8v.8h-.8zM222.9 309.8h.8v.8h-.8zM180.5 319.4h.8v.8h-.8zM205.2 297.5h.8v.8h-.8zM215.0 310.3h.8v.8h-.8zM216.7 305.2h.8v.8h-.8zM227.2 301.7h.8v.8h-.8zM223.5 304.9h.8v.8h-.8zM221.6 305.9h.8v.8h-.8zM226.3 307.1h.8v.8h-.8zM218.2 310.4h.8v.8h-.8zM219.9 306.0h.8v.8h-.8zM223.4 303.9h.8v.8h-.8zM218.2 310.3h.8v.8h-.8zM217.0 303.0h.8v.8h-.8zM207.5 312.0h.8v.8h-.8zM221.6 309.4h.8v.8h-.8zM215.2 305.7h.8v.8h-.8zM222.1 308.4h.8v.8h-.8zM226.8 303.7h.8v.8h-.8zM218.4 307.3h.8v.8h-.8zM227.2 303.3h.8v.8h-.8zM219.5 307.6h.8v.8h-.8zM221.9 305.9h.8v.8h-.8zM230.1 303.8h.8v.8h-.8zM221.3 305.2h.8v.8h-.8zM220.3 307.4h.8v.8h-.8zM223.6 303.6h.8v.8h-.8zM218.7 306.4h.8v.8h-.8zM218.0 309.6h.8v.8h-.8zM217.4 307.8h.8v.8h-.8zM224.4 302.6h.8v.8h-.8zM217.4 307.2h.8v.8h-.8zM223.3 305.5h.8v.8h-.8zM222.2 308.2h.8v.8h-.8zM218.2 305.7h.8v.8h-.8zM223.9 305.1h.8v.8h-.8zM225.8 306.4h.8v.8h-.8zM215.0 304.0h.8v.8h-.8zM223.4 305.0h.8v.8h-.8zM221.6 303.9h.8v.8h-.8zM224.2 304.3h.8v.8h-.8zM224.0 306.8h.8v.8h-.8zM221.5 305.7h.8v.8h-.8zM220.2 312.1h.8v.8h-.8zM215.9 309.6h.8v.8h-.8zM214.2 307.0h.8v.8h-.8zM226.4 302.3h.8v.8h-.8zM225.2 303.5h.8v.8h-.8zM223.7 301.9h.8v.8h-.8zM217.4 310.6h.8v.8h-.8zM221.7 303.5h.8v.8h-.8zM217.0 301.7h.8v.8h-.8zM218.7 304.1h.8v.8h-.8z" fill="#000" fill-opacity="0.8"/><line x1="212.6" y1="282.4" x2="212.6" y2="347.1" stroke="#e85a70" stroke-width="0.85"/><line x1="165.3" y1="309.3" x2="235.7" y2="309.3" stroke="#e85a70" stroke-width="0.85"/><rect x="162.2" y="282.4" width="3.1" height="67.5" fill="#f4f6ff"/><rect x="162.2" y="347.1" width="73.5" height="2.8" fill="#f4f6ff"/><path d="M162.2 283.4h3.1M162.2 284.45h3.1M162.2 285.5h3.1M162.2 286.55h3.1M162.2 287.6h3.1M162.2 288.65h3.1M162.2 289.7h3.1M162.2 290.75h3.1M162.2 291.8h3.1M162.2 292.85h3.1M162.2 293.9h3.1M162.2 294.95h3.1M162.2 296h3.1M162.2 297.05h3.1M162.2 298.1h3.1M162.2 299.15h3.1M162.2 300.2h3.1M162.2 301.25h3.1M162.2 302.3h3.1M162.2 303.35h3.1M162.2 304.4h3.1M162.2 305.45h3.1M162.2 306.5h3.1M162.2 307.55h3.1M162.2 308.6h3.1M162.2 309.65h3.1M162.2 310.7h3.1M162.2 311.75h3.1M162.2 312.8h3.1M162.2 313.85h3.1M162.2 314.9h3.1M162.2 315.95h3.1M162.2 317h3.1M162.2 318.05h3.1M162.2 319.1h3.1M162.2 320.15h3.1M162.2 321.2h3.1M162.2 322.25h3.1M162.2 323.3h3.1M162.2 324.35h3.1M162.2 325.4h3.1M162.2 326.45h3.1M162.2 327.5h3.1M162.2 328.55h3.1M162.2 329.6h3.1M162.2 330.65h3.1M162.2 331.7h3.1M162.2 332.75h3.1M162.2 333.8h3.1M162.2 334.85h3.1M162.2 335.9h3.1M162.2 336.95h3.1M162.2 338h3.1M162.2 339.05h3.1M162.2 340.1h3.1M162.2 341.15h3.1M162.2 342.2h3.1M162.2 343.25h3.1M162.2 344.3h3.1M162.2 345.35h3.1M162.2 346.4h3.1M166.1 347.1v2.8M167.15 347.1v2.8M168.2 347.1v2.8M169.25 347.1v2.8M170.3 347.1v2.8M171.35 347.1v2.8M172.4 347.1v2.8M173.45 347.1v2.8M174.5 347.1v2.8M175.55 347.1v2.8M176.6 347.1v2.8M177.65 347.1v2.8M178.7 347.1v2.8M179.75 347.1v2.8M180.8 347.1v2.8M181.85 347.1v2.8M182.9 347.1v2.8M183.95 347.1v2.8M185 347.1v2.8M186.05 347.1v2.8M187.1 347.1v2.8M188.15 347.1v2.8M189.2 347.1v2.8M190.25 347.1v2.8M191.3 347.1v2.8M192.35 347.1v2.8M193.4 347.1v2.8M194.45 347.1v2.8M195.5 347.1v2.8M196.55 347.1v2.8M197.6 347.1v2.8M198.65 347.1v2.8M199.7 347.1v2.8M200.75 347.1v2.8M201.8 347.1v2.8M202.85 347.1v2.8M203.9 347.1v2.8M204.95 347.1v2.8M206 347.1v2.8M207.05 347.1v2.8M208.1 347.1v2.8M209.15 347.1v2.8M210.2 347.1v2.8M211.25 347.1v2.8M212.3 347.1v2.8M213.35 347.1v2.8M214.4 347.1v2.8M215.45 347.1v2.8M216.5 347.1v2.8M217.55 347.1v2.8M218.6 347.1v2.8M219.65 347.1v2.8M220.7 347.1v2.8M221.75 347.1v2.8M222.8 347.1v2.8M223.85 347.1v2.8M224.9 347.1v2.8M225.95 347.1v2.8M227 347.1v2.8M228.05 347.1v2.8M229.1 347.1v2.8M230.15 347.1v2.8M231.2 347.1v2.8M232.25 347.1v2.8M233.3 347.1v2.8M234.35 347.1v2.8" stroke="#8a8aff" stroke-width="0.5" fill="none"/><path d="M162.2 284.8h3.1v1.6h-3.1zM165.5 347.1v2.8h1.6v-2.8zM162.2 293.12h3.1v1.6h-3.1zM175.02 347.1v2.8h1.6v-2.8zM162.2 301.43h3.1v1.6h-3.1zM184.54 347.1v2.8h1.6v-2.8zM162.2 309.75h3.1v1.6h-3.1zM194.06 347.1v2.8h1.6v-2.8zM162.2 318.06h3.1v1.6h-3.1zM203.58 347.1v2.8h1.6v-2.8zM162.2 326.38h3.1v1.6h-3.1zM213.1 347.1v2.8h1.6v-2.8zM162.2 334.69h3.1v1.6h-3.1zM222.62 347.1v2.8h1.6v-2.8zM162.2 343.01h3.1v1.6h-3.1zM232.14 347.1v2.8h1.6v-2.8z" fill="#2020ff"/><line x1="162.2" y1="282.4" x2="235.7" y2="282.4" stroke="#4a4aff" stroke-width="1"/><line x1="235.7" y1="282.4" x2="235.7" y2="349.9" stroke="#5a5aff" stroke-width="1"/><line x1="165.3" y1="347.1" x2="235.7" y2="347.1" stroke="#3a3aff" stroke-width="0.8"/><text x="158" y="347.61" font-size="4.2" font-weight="bold" text-anchor="middle" fill="#4a4aff" transform="rotate(-90 158 346.1)">10</text><text x="165.3" y="354.51" font-size="4.2" font-weight="bold" text-anchor="middle" fill="#4a4aff" transform="rotate(-45 165.3 353)">10</text><text x="158" y="338.9" font-size="4.2" font-weight="bold" text-anchor="middle" fill="#4a4aff" transform="rotate(-90 158 337.39)">10</text><text x="174.95" y="354.51" font-size="4.2" font-weight="bold" text-anchor="middle" fill="#4a4aff" transform="rotate(-45 174.95 353)">10</text><text x="158" y="330.2" font-size="4.2" font-weight="bold" text-anchor="middle" fill="#4a4aff" transform="rotate(-90 158 328.68)">10</text><text x="184.61" y="354.51" font-size="4.2" font-weight="bold" text-anchor="middle" fill="#4a4aff" transform="rotate(-45 184.61 353)">10</text><text x="158" y="321.49" font-size="4.2" font-weight="bold" text-anchor="middle" fill="#4a4aff" transform="rotate(-90 158 319.97)">10</text><text x="194.26" y="354.51" font-size="4.2" font-weight="bold" text-anchor="middle" fill="#4a4aff" transform="rotate(-45 194.26 353)">10</text><text x="158" y="312.78" font-size="4.2" font-weight="bold" text-anchor="middle" fill="#4a4aff" transform="rotate(-90 158 311.27)">10</text><text x="203.91" y="354.51" font-size="4.2" font-weight="bold" text-anchor="middle" fill="#4a4aff" transform="rotate(-45 203.91 353)">10</text><text x="158" y="304.07" font-size="4.2" font-weight="bold" text-anchor="middle" fill="#4a4aff" transform="rotate(-90 158 302.56)">10</text><text x="213.56" y="354.51" font-size="4.2" font-weight="bold" text-anchor="middle" fill="#4a4aff" transform="rotate(-45 213.56 353)">10</text><text x="158" y="295.36" font-size="4.2" font-weight="bold" text-anchor="middle" fill="#4a4aff" transform="rotate(-90 158 293.85)">10</text><text x="223.22" y="354.51" font-size="4.2" font-weight="bold" text-anchor="middle" fill="#4a4aff" transform="rotate(-45 223.22 353)">10</text><text x="158" y="286.65" font-size="4.2" font-weight="bold" text-anchor="middle" fill="#4a4aff" transform="rotate(-90 158 285.14)">10</text><text x="232.87" y="354.51" font-size="4.2" font-weight="bold" text-anchor="middle" fill="#4a4aff" transform="rotate(-45 232.87 353)">10</text><text x="151.8" y="326.11" font-size="4.6" font-weight="normal" text-anchor="middle" fill="#333" transform="rotate(-90 151.8 324.45)">PE-A</text><text x="200.45" y="360.56" font-size="4.6" font-weight="normal" text-anchor="middle" fill="#333">APC-A</text><text x="164.9" y="274.92" font-size="5.6" font-weight="normal" fill="#333">B06</text><text x="164.9" y="281.02" font-size="5.6" font-weight="normal" fill="#333">Gate: P1</text><text x="165.8" y="288.12" font-size="5.6" font-weight="normal" fill="#e0203f">Q1-UL</text><text x="165.8" y="293.02" font-size="5.6" font-weight="normal" fill="#e0203f">1.2%</text><text x="218.1" y="288.12" font-size="5.6" font-weight="normal" fill="#e0203f">Q1-UR</text><text x="218.1" y="293.02" font-size="5.6" font-weight="normal" fill="#e0203f">2.4%</text><text x="165.8" y="341.82" font-size="5.6" font-weight="normal" fill="#e0203f">Q1-LL</text><text x="165.8" y="346.72" font-size="5.6" font-weight="normal" fill="#e0203f">94.3%</text><text x="218.1" y="341.82" font-size="5.6" font-weight="normal" fill="#e0203f">Q1-LR</text><text x="218.1" y="346.72" font-size="5.6" font-weight="normal" fill="#e0203f">2.0%</text><rect x="262.7" y="282.4" width="70.4" height="64.7" fill="#fff"/><ellipse cx="299.4" cy="319.8" rx="14.5" ry="7.68" transform="rotate(-22 299.4 319.8)" fill="#000" fill-opacity="0.22" filter="url(#sb2)"/><ellipse cx="299.4" cy="319.8" rx="9.5" ry="4.56" transform="rotate(-22 299.4 319.8)" fill="#000" filter="url(#sb1)"/><path d="M301.7 324.8h.8v.8h-.8zM307.7 314.2h.8v.8h-.8zM296.4 318.7h.8v.8h-.8zM303.5 317.9h.8v.8h-.8zM302.1 310.6h.8v.8h-.8zM310.9 314.7h.8v.8h-.8zM304.2 317.2h.8v.8h-.8zM297.3 322.7h.8v.8h-.8zM305.2 316.6h.8v.8h-.8zM299.3 322.9h.8v.8h-.8zM290.6 316.7h.8v.8h-.8zM301.3 316.1h.8v.8h-.8zM283.9 322.5h.8v.8h-.8zM294.1 316.7h.8v.8h-.8zM288.4 324.4h.8v.8h-.8zM305.7 316.2h.8v.8h-.8zM294.5 323.5h.8v.8h-.8zM304.3 316.5h.8v.8h-.8zM305.0 322.1h.8v.8h-.8zM296.6 317.3h.8v.8h-.8zM302.4 319.7h.8v.8h-.8zM305.6 311.6h.8v.8h-.8zM293.2 318.6h.8v.8h-.8zM286.7 325.5h.8v.8h-.8zM302.2 315.4h.8v.8h-.8zM310.9 318.8h.8v.8h-.8zM304.7 319.4h.8v.8h-.8zM304.5 311.9h.8v.8h-.8zM304.9 320.2h.8v.8h-.8zM286.8 326.4h.8v.8h-.8zM298.7 323.5h.8v.8h-.8zM296.1 321.0h.8v.8h-.8zM300.6 315.5h.8v.8h-.8zM303.7 317.6h.8v.8h-.8zM302.3 316.4h.8v.8h-.8zM308.4 318.8h.8v.8h-.8zM299.0 322.7h.8v.8h-.8zM311.5 322.8h.8v.8h-.8zM289.1 327.9h.8v.8h-.8zM302.7 318.1h.8v.8h-.8zM293.9 327.6h.8v.8h-.8zM290.9 325.7h.8v.8h-.8zM306.6 309.8h.8v.8h-.8zM295.2 315.8h.8v.8h-.8zM303.5 324.8h.8v.8h-.8zM311.7 307.0h.8v.8h-.8zM296.2 324.2h.8v.8h-.8zM311.8 316.7h.8v.8h-.8zM294.3 323.2h.8v.8h-.8zM299.0 319.1h.8v.8h-.8zM294.5 323.5h.8v.8h-.8zM301.5 318.5h.8v.8h-.8zM295.8 315.6h.8v.8h-.8zM297.6 325.8h.8v.8h-.8zM295.8 314.9h.8v.8h-.8zM310.1 317.8h.8v.8h-.8zM315.1 313.7h.8v.8h-.8zM293.8 315.7h.8v.8h-.8zM313.1 325.6h.8v.8h-.8zM292.3 319.8h.8v.8h-.8zM302.6 314.9h.8v.8h-.8zM296.9 319.3h.8v.8h-.8zM302.5 323.4h.8v.8h-.8zM301.0 323.2h.8v.8h-.8zM296.8 322.3h.8v.8h-.8zM281.3 320.7h.8v.8h-.8zM304.4 315.2h.8v.8h-.8zM304.5 320.1h.8v.8h-.8zM310.4 318.9h.8v.8h-.8zM306.8 316.3h.8v.8h-.8zM293.1 319.1h.8v.8h-.8zM294.1 317.0h.8v.8h-.8zM295.2 321.1h.8v.8h-.8zM300.7 317.8h.8v.8h-.8zM285.0 325.3h.8v.8h-.8zM302.7 323.2h.8v.8h-.8zM302.7 315.6h.8v.8h-.8zM297.1 329.6h.8v.8h-.8zM307.8 324.5h.8v.8h-.8zM313.9 310.3h.8v.8h-.8zM303.0 320.4h.8v.8h-.8zM304.4 320.2h.8v.8h-.8zM301.2 319.9h.8v.8h-.8zM288.0 323.7h.8v.8h-.8zM294.0 322.5h.8v.8h-.8zM296.9 323.5h.8v.8h-.8zM305.9 318.5h.8v.8h-.8zM301.9 319.2h.8v.8h-.8zM295.8 320.5h.8v.8h-.8zM296.3 322.8h.8v.8h-.8zM300.4 322.0h.8v.8h-.8zM290.9 327.1h.8v.8h-.8zM292.6 319.3h.8v.8h-.8zM297.1 318.3h.8v.8h-.8zM300.7 316.8h.8v.8h-.8zM290.2 319.8h.8v.8h-.8zM309.2 316.0h.8v.8h-.8zM290.8 323.3h.8v.8h-.8zM290.6 331.2h.8v.8h-.8zM288.8 326.2h.8v.8h-.8zM301.2 312.7h.8v.8h-.8zM303.2 322.7h.8v.8h-.8zM303.3 319.4h.8v.8h-.8zM306.7 317.6h.8v.8h-.8zM301.7 318.3h.8v.8h-.8zM302.6 314.3h.8v.8h-.8zM304.5 315.5h.8v.8h-.8zM291.9 324.5h.8v.8h-.8zM313.4 318.4h.8v.8h-.8zM296.6 324.0h.8v.8h-.8zM295.8 320.7h.8v.8h-.8zM296.5 310.8h.8v.8h-.8zM299.2 315.3h.8v.8h-.8zM292.0 316.3h.8v.8h-.8zM286.7 320.8h.8v.8h-.8zM308.1 323.6h.8v.8h-.8zM300.9 324.0h.8v.8h-.8zM294.5 313.4h.8v.8h-.8zM301.2 321.0h.8v.8h-.8zM296.7 322.2h.8v.8h-.8zM302.3 314.8h.8v.8h-.8zM288.1 323.4h.8v.8h-.8zM297.3 319.1h.8v.8h-.8zM309.4 323.4h.8v.8h-.8zM297.4 323.7h.8v.8h-.8zM307.5 319.7h.8v.8h-.8zM306.6 315.2h.8v.8h-.8zM308.0 325.2h.8v.8h-.8zM304.4 315.0h.8v.8h-.8zM305.8 322.8h.8v.8h-.8zM301.3 316.6h.8v.8h-.8zM308.9 310.4h.8v.8h-.8zM303.1 318.2h.8v.8h-.8zM292.4 328.0h.8v.8h-.8zM300.2 314.3h.8v.8h-.8zM303.2 316.4h.8v.8h-.8zM284.2 322.9h.8v.8h-.8zM302.3 321.4h.8v.8h-.8zM300.7 319.5h.8v.8h-.8zM302.6 317.6h.8v.8h-.8zM308.4 316.8h.8v.8h-.8zM302.4 321.0h.8v.8h-.8zM290.5 320.3h.8v.8h-.8zM311.3 316.5h.8v.8h-.8zM297.8 321.9h.8v.8h-.8zM296.3 322.3h.8v.8h-.8zM294.9 322.8h.8v.8h-.8zM289.7 329.6h.8v.8h-.8zM293.2 315.4h.8v.8h-.8zM297.2 319.1h.8v.8h-.8zM298.8 315.0h.8v.8h-.8zM307.9 332.3h.8v.8h-.8zM290.4 324.9h.8v.8h-.8zM297.4 321.5h.8v.8h-.8zM284.2 320.9h.8v.8h-.8zM302.8 318.3h.8v.8h-.8zM310.5 312.2h.8v.8h-.8zM305.1 330.3h.8v.8h-.8zM292.3 318.7h.8v.8h-.8zM299.1 319.7h.8v.8h-.8zM305.9 317.8h.8v.8h-.8zM294.1 322.9h.8v.8h-.8zM320.9 316.7h.8v.8h-.8zM278.5 327.6h.8v.8h-.8zM293.9 324.8h.8v.8h-.8zM301.1 327.6h.8v.8h-.8zM307.7 320.4h.8v.8h-.8zM300.7 319.1h.8v.8h-.8zM303.9 323.7h.8v.8h-.8zM302.8 316.9h.8v.8h-.8zM309.2 316.7h.8v.8h-.8zM297.6 317.0h.8v.8h-.8zM294.2 319.1h.8v.8h-.8zM280.2 332.0h.8v.8h-.8zM303.3 317.3h.8v.8h-.8zM307.8 318.3h.8v.8h-.8zM298.4 309.3h.8v.8h-.8zM298.5 322.5h.8v.8h-.8zM314.2 321.9h.8v.8h-.8zM308.2 311.1h.8v.8h-.8zM284.0 328.5h.8v.8h-.8zM301.1 323.4h.8v.8h-.8zM298.8 321.0h.8v.8h-.8zM289.0 326.0h.8v.8h-.8zM296.6 322.5h.8v.8h-.8zM302.6 318.0h.8v.8h-.8zM301.7 318.8h.8v.8h-.8zM305.8 319.4h.8v.8h-.8zM294.4 319.2h.8v.8h-.8zM312.2 314.2h.8v.8h-.8zM307.4 318.3h.8v.8h-.8zM294.1 318.7h.8v.8h-.8zM300.7 320.4h.8v.8h-.8zM302.0 313.2h.8v.8h-.8zM294.8 321.2h.8v.8h-.8zM307.7 306.1h.8v.8h-.8zM301.8 316.4h.8v.8h-.8zM301.8 316.6h.8v.8h-.8zM304.5 324.6h.8v.8h-.8zM302.7 320.4h.8v.8h-.8zM301.0 315.8h.8v.8h-.8zM303.1 317.4h.8v.8h-.8zM293.3 322.1h.8v.8h-.8zM298.9 323.3h.8v.8h-.8zM298.3 317.9h.8v.8h-.8zM311.7 319.2h.8v.8h-.8zM309.7 318.3h.8v.8h-.8zM297.9 318.5h.8v.8h-.8zM298.8 324.2h.8v.8h-.8zM298.0 313.9h.8v.8h-.8zM296.9 314.6h.8v.8h-.8zM298.8 314.7h.8v.8h-.8zM290.2 324.0h.8v.8h-.8zM296.3 313.7h.8v.8h-.8zM308.3 325.7h.8v.8h-.8zM291.2 331.1h.8v.8h-.8zM293.5 320.0h.8v.8h-.8zM295.9 314.9h.8v.8h-.8zM309.8 317.8h.8v.8h-.8zM293.4 321.0h.8v.8h-.8zM287.6 323.0h.8v.8h-.8zM303.7 310.5h.8v.8h-.8zM296.4 321.7h.8v.8h-.8zM309.2 321.8h.8v.8h-.8zM294.9 318.4h.8v.8h-.8zM302.2 317.1h.8v.8h-.8zM298.8 324.8h.8v.8h-.8zM312.3 315.7h.8v.8h-.8zM298.8 322.5h.8v.8h-.8zM285.4 325.4h.8v.8h-.8zM311.3 316.6h.8v.8h-.8zM286.4 296.4h.8v.8h-.8zM317.1 331.2h.8v.8h-.8zM290.6 331.1h.8v.8h-.8zM304.7 300.0h.8v.8h-.8zM319.5 327.1h.8v.8h-.8zM302.8 317.7h.8v.8h-.8zM305.7 299.7h.8v.8h-.8zM305.0 329.5h.8v.8h-.8zM283.7 337.4h.8v.8h-.8zM284.6 302.1h.8v.8h-.8zM293.9 311.0h.8v.8h-.8zM299.8 306.3h.8v.8h-.8zM313.0 305.9h.8v.8h-.8zM302.7 311.7h.8v.8h-.8zM299.0 333.5h.8v.8h-.8zM301.2 314.6h.8v.8h-.8zM304.6 312.2h.8v.8h-.8zM311.8 306.2h.8v.8h-.8zM309.3 305.7h.8v.8h-.8zM304.1 308.2h.8v.8h-.8zM310.7 308.0h.8v.8h-.8zM306.4 310.6h.8v.8h-.8zM312.4 307.0h.8v.8h-.8zM313.1 305.7h.8v.8h-.8zM308.9 309.1h.8v.8h-.8zM309.4 309.5h.8v.8h-.8zM304.8 312.7h.8v.8h-.8zM305.6 309.0h.8v.8h-.8zM303.7 311.4h.8v.8h-.8zM315.1 307.9h.8v.8h-.8zM311.3 303.7h.8v.8h-.8zM305.4 308.4h.8v.8h-.8zM305.9 311.6h.8v.8h-.8zM309.8 307.6h.8v.8h-.8zM310.3 305.4h.8v.8h-.8zM304.5 307.9h.8v.8h-.8z" fill="#000" fill-opacity="0.8"/><line x1="310.5" y1="282.4" x2="310.5" y2="347.1" stroke="#e85a70" stroke-width="0.85"/><line x1="262.7" y1="309.3" x2="333.1" y2="309.3" stroke="#e85a70" stroke-width="0.85"/><rect x="259.6" y="282.4" width="3.1" height="67.5" fill="#f4f6ff"/><rect x="259.6" y="347.1" width="73.5" height="2.8" fill="#f4f6ff"/><path d="M259.6 283.4h3.1M259.6 284.45h3.1M259.6 285.5h3.1M259.6 286.55h3.1M259.6 287.6h3.1M259.6 288.65h3.1M259.6 289.7h3.1M259.6 290.75h3.1M259.6 291.8h3.1M259.6 292.85h3.1M259.6 293.9h3.1M259.6 294.95h3.1M259.6 296h3.1M259.6 297.05h3.1M259.6 298.1h3.1M259.6 299.15h3.1M259.6 300.2h3.1M259.6 301.25h3.1M259.6 302.3h3.1M259.6 303.35h3.1M259.6 304.4h3.1M259.6 305.45h3.1M259.6 306.5h3.1M259.6 307.55h3.1M259.6 308.6h3.1M259.6 309.65h3.1M259.6 310.7h3.1M259.6 311.75h3.1M259.6 312.8h3.1M259.6 313.85h3.1M259.6 314.9h3.1M259.6 315.95h3.1M259.6 317h3.1M259.6 318.05h3.1M259.6 319.1h3.1M259.6 320.15h3.1M259.6 321.2h3.1M259.6 322.25h3.1M259.6 323.3h3.1M259.6 324.35h3.1M259.6 325.4h3.1M259.6 326.45h3.1M259.6 327.5h3.1M259.6 328.55h3.1M259.6 329.6h3.1M259.6 330.65h3.1M259.6 331.7h3.1M259.6 332.75h3.1M259.6 333.8h3.1M259.6 334.85h3.1M259.6 335.9h3.1M259.6 336.95h3.1M259.6 338h3.1M259.6 339.05h3.1M259.6 340.1h3.1M259.6 341.15h3.1M259.6 342.2h3.1M259.6 343.25h3.1M259.6 344.3h3.1M259.6 345.35h3.1M259.6 346.4h3.1M263.5 347.1v2.8M264.55 347.1v2.8M265.6 347.1v2.8M266.65 347.1v2.8M267.7 347.1v2.8M268.75 347.1v2.8M269.8 347.1v2.8M270.85 347.1v2.8M271.9 347.1v2.8M272.95 347.1v2.8M274 347.1v2.8M275.05 347.1v2.8M276.1 347.1v2.8M277.15 347.1v2.8M278.2 347.1v2.8M279.25 347.1v2.8M280.3 347.1v2.8M281.35 347.1v2.8M282.4 347.1v2.8M283.45 347.1v2.8M284.5 347.1v2.8M285.55 347.1v2.8M286.6 347.1v2.8M287.65 347.1v2.8M288.7 347.1v2.8M289.75 347.1v2.8M290.8 347.1v2.8M291.85 347.1v2.8M292.9 347.1v2.8M293.95 347.1v2.8M295 347.1v2.8M296.05 347.1v2.8M297.1 347.1v2.8M298.15 347.1v2.8M299.2 347.1v2.8M300.25 347.1v2.8M301.3 347.1v2.8M302.35 347.1v2.8M303.4 347.1v2.8M304.45 347.1v2.8M305.5 347.1v2.8M306.55 347.1v2.8M307.6 347.1v2.8M308.65 347.1v2.8M309.7 347.1v2.8M310.75 347.1v2.8M311.8 347.1v2.8M312.85 347.1v2.8M313.9 347.1v2.8M314.95 347.1v2.8M316 347.1v2.8M317.05 347.1v2.8M318.1 347.1v2.8M319.15 347.1v2.8M320.2 347.1v2.8M321.25 347.1v2.8M322.3 347.1v2.8M323.35 347.1v2.8M324.4 347.1v2.8M325.45 347.1v2.8M326.5 347.1v2.8M327.55 347.1v2.8M328.6 347.1v2.8M329.65 347.1v2.8M330.7 347.1v2.8M331.75 347.1v2.8" stroke="#8a8aff" stroke-width="0.5" fill="none"/><path d="M259.6 284.8h3.1v1.6h-3.1zM262.9 347.1v2.8h1.6v-2.8zM259.6 293.12h3.1v1.6h-3.1zM272.42 347.1v2.8h1.6v-2.8zM259.6 301.43h3.1v1.6h-3.1zM281.94 347.1v2.8h1.6v-2.8zM259.6 309.75h3.1v1.6h-3.1zM291.46 347.1v2.8h1.6v-2.8zM259.6 318.06h3.1v1.6h-3.1zM300.98 347.1v2.8h1.6v-2.8zM259.6 326.38h3.1v1.6h-3.1zM310.5 347.1v2.8h1.6v-2.8zM259.6 334.69h3.1v1.6h-3.1zM320.02 347.1v2.8h1.6v-2.8zM259.6 343.01h3.1v1.6h-3.1zM329.54 347.1v2.8h1.6v-2.8z" fill="#2020ff"/><line x1="259.6" y1="282.4" x2="333.1" y2="282.4" stroke="#4a4aff" stroke-width="1"/><line x1="333.1" y1="282.4" x2="333.1" y2="349.9" stroke="#5a5aff" stroke-width="1"/><line x1="262.7" y1="347.1" x2="333.1" y2="347.1" stroke="#3a3aff" stroke-width="0.8"/><text x="255.4" y="347.61" font-size="4.2" font-weight="bold" text-anchor="middle" fill="#4a4aff" transform="rotate(-90 255.4 346.1)">10</text><text x="262.7" y="354.51" font-size="4.2" font-weight="bold" text-anchor="middle" fill="#4a4aff" transform="rotate(-45 262.7 353)">10</text><text x="255.4" y="338.9" font-size="4.2" font-weight="bold" text-anchor="middle" fill="#4a4aff" transform="rotate(-90 255.4 337.39)">10</text><text x="272.35" y="354.51" font-size="4.2" font-weight="bold" text-anchor="middle" fill="#4a4aff" transform="rotate(-45 272.35 353)">10</text><text x="255.4" y="330.2" font-size="4.2" font-weight="bold" text-anchor="middle" fill="#4a4aff" transform="rotate(-90 255.4 328.68)">10</text><text x="282.01" y="354.51" font-size="4.2" font-weight="bold" text-anchor="middle" fill="#4a4aff" transform="rotate(-45 282.01 353)">10</text><text x="255.4" y="321.49" font-size="4.2" font-weight="bold" text-anchor="middle" fill="#4a4aff" transform="rotate(-90 255.4 319.97)">10</text><text x="291.66" y="354.51" font-size="4.2" font-weight="bold" text-anchor="middle" fill="#4a4aff" transform="rotate(-45 291.66 353)">10</text><text x="255.4" y="312.78" font-size="4.2" font-weight="bold" text-anchor="middle" fill="#4a4aff" transform="rotate(-90 255.4 311.27)">10</text><text x="301.31" y="354.51" font-size="4.2" font-weight="bold" text-anchor="middle" fill="#4a4aff" transform="rotate(-45 301.31 353)">10</text><text x="255.4" y="304.07" font-size="4.2" font-weight="bold" text-anchor="middle" fill="#4a4aff" transform="rotate(-90 255.4 302.56)">10</text><text x="310.96" y="354.51" font-size="4.2" font-weight="bold" text-anchor="middle" fill="#4a4aff" transform="rotate(-45 310.96 353)">10</text><text x="255.4" y="295.36" font-size="4.2" font-weight="bold" text-anchor="middle" fill="#4a4aff" transform="rotate(-90 255.4 293.85)">10</text><text x="320.62" y="354.51" font-size="4.2" font-weight="bold" text-anchor="middle" fill="#4a4aff" transform="rotate(-45 320.62 353)">10</text><text x="255.4" y="286.65" font-size="4.2" font-weight="bold" text-anchor="middle" fill="#4a4aff" transform="rotate(-90 255.4 285.14)">10</text><text x="330.27" y="354.51" font-size="4.2" font-weight="bold" text-anchor="middle" fill="#4a4aff" transform="rotate(-45 330.27 353)">10</text><text x="249.2" y="326.11" font-size="4.6" font-weight="normal" text-anchor="middle" fill="#333" transform="rotate(-90 249.2 324.45)">PE-A</text><text x="297.85" y="360.56" font-size="4.6" font-weight="normal" text-anchor="middle" fill="#333">APC-A</text><text x="262.3" y="274.92" font-size="5.6" font-weight="normal" fill="#333">O10</text><text x="262.3" y="281.02" font-size="5.6" font-weight="normal" fill="#333">Gate: P1</text><text x="263.2" y="288.12" font-size="5.6" font-weight="normal" fill="#e0203f">Q1-UL</text><text x="263.2" y="293.02" font-size="5.6" font-weight="normal" fill="#e0203f">0.6%</text><text x="315.5" y="288.12" font-size="5.6" font-weight="normal" fill="#e0203f">Q1-UR</text><text x="315.5" y="293.02" font-size="5.6" font-weight="normal" fill="#e0203f">0.3%</text><text x="263.2" y="341.82" font-size="5.6" font-weight="normal" fill="#e0203f">Q1-LL</text><text x="263.2" y="346.72" font-size="5.6" font-weight="normal" fill="#e0203f">97.9%</text><text x="315.5" y="341.82" font-size="5.6" font-weight="normal" fill="#e0203f">Q1-LR</text><text x="315.5" y="346.72" font-size="5.6" font-weight="normal" fill="#e0203f">1.2%</text><rect x="358" y="282.4" width="70.4" height="64.7" fill="#fff"/><ellipse cx="395.6" cy="318.4" rx="14.5" ry="7.2" transform="rotate(-28 395.6 318.4)" fill="#000" fill-opacity="0.22" filter="url(#sb2)"/><ellipse cx="395.6" cy="318.4" rx="9.5" ry="4.27" transform="rotate(-28 395.6 318.4)" fill="#000" filter="url(#sb1)"/><path d="M397.4 322.0h.8v.8h-.8zM402.1 318.1h.8v.8h-.8zM404.9 308.2h.8v.8h-.8zM388.8 316.3h.8v.8h-.8zM396.6 322.2h.8v.8h-.8zM396.3 320.2h.8v.8h-.8zM382.4 326.1h.8v.8h-.8zM392.4 327.8h.8v.8h-.8zM403.6 318.3h.8v.8h-.8zM396.3 320.7h.8v.8h-.8zM399.6 314.8h.8v.8h-.8zM391.9 319.9h.8v.8h-.8zM390.3 318.7h.8v.8h-.8zM392.3 317.0h.8v.8h-.8zM398.1 310.1h.8v.8h-.8zM400.3 313.2h.8v.8h-.8zM389.3 315.9h.8v.8h-.8zM394.1 318.1h.8v.8h-.8zM396.0 315.9h.8v.8h-.8zM399.5 324.2h.8v.8h-.8zM397.5 314.9h.8v.8h-.8zM402.1 314.4h.8v.8h-.8zM400.9 318.2h.8v.8h-.8zM389.4 313.3h.8v.8h-.8zM394.1 321.6h.8v.8h-.8zM393.7 321.3h.8v.8h-.8zM401.5 312.9h.8v.8h-.8zM407.2 319.3h.8v.8h-.8zM405.3 318.3h.8v.8h-.8zM407.4 321.9h.8v.8h-.8zM396.9 317.7h.8v.8h-.8zM398.2 313.1h.8v.8h-.8zM383.0 321.3h.8v.8h-.8zM399.1 318.6h.8v.8h-.8zM381.4 317.8h.8v.8h-.8zM393.0 319.0h.8v.8h-.8zM396.5 320.9h.8v.8h-.8zM404.7 314.6h.8v.8h-.8zM398.0 312.4h.8v.8h-.8zM387.7 323.6h.8v.8h-.8zM401.6 318.4h.8v.8h-.8zM401.2 318.8h.8v.8h-.8zM398.2 309.4h.8v.8h-.8zM391.2 322.7h.8v.8h-.8zM397.1 311.1h.8v.8h-.8zM403.1 312.5h.8v.8h-.8zM394.4 320.2h.8v.8h-.8zM398.3 310.7h.8v.8h-.8zM402.7 314.9h.8v.8h-.8zM389.7 320.4h.8v.8h-.8zM379.0 324.4h.8v.8h-.8zM395.6 315.3h.8v.8h-.8zM393.0 319.1h.8v.8h-.8zM397.8 321.7h.8v.8h-.8zM395.0 317.6h.8v.8h-.8zM403.1 323.4h.8v.8h-.8zM394.1 321.4h.8v.8h-.8zM386.9 328.9h.8v.8h-.8zM402.7 320.4h.8v.8h-.8zM393.3 315.1h.8v.8h-.8zM403.2 317.6h.8v.8h-.8zM386.8 316.7h.8v.8h-.8zM398.5 316.1h.8v.8h-.8zM412.9 306.5h.8v.8h-.8zM391.7 320.0h.8v.8h-.8zM382.2 321.7h.8v.8h-.8zM407.0 311.8h.8v.8h-.8zM389.0 316.4h.8v.8h-.8zM400.9 318.4h.8v.8h-.8zM396.7 316.1h.8v.8h-.8zM398.4 318.5h.8v.8h-.8zM391.9 323.1h.8v.8h-.8zM378.3 322.0h.8v.8h-.8zM393.3 319.2h.8v.8h-.8zM388.0 323.9h.8v.8h-.8zM403.9 316.0h.8v.8h-.8zM398.7 320.4h.8v.8h-.8zM396.4 313.0h.8v.8h-.8zM396.5 323.5h.8v.8h-.8zM387.7 322.9h.8v.8h-.8zM391.2 316.8h.8v.8h-.8zM388.6 322.5h.8v.8h-.8zM398.4 318.3h.8v.8h-.8zM384.9 322.9h.8v.8h-.8zM399.7 320.3h.8v.8h-.8zM401.8 318.7h.8v.8h-.8zM404.8 317.1h.8v.8h-.8zM389.9 321.7h.8v.8h-.8zM386.3 313.0h.8v.8h-.8zM387.5 331.8h.8v.8h-.8zM383.7 315.0h.8v.8h-.8zM394.2 325.7h.8v.8h-.8zM396.0 319.9h.8v.8h-.8zM393.5 319.1h.8v.8h-.8zM406.0 316.3h.8v.8h-.8zM396.6 321.7h.8v.8h-.8zM402.8 313.6h.8v.8h-.8zM398.0 318.2h.8v.8h-.8zM392.9 324.8h.8v.8h-.8zM393.3 316.9h.8v.8h-.8zM381.5 320.4h.8v.8h-.8zM404.3 308.8h.8v.8h-.8zM398.0 315.5h.8v.8h-.8zM400.3 318.5h.8v.8h-.8zM389.6 320.3h.8v.8h-.8zM396.5 318.4h.8v.8h-.8zM394.8 317.4h.8v.8h-.8zM402.4 320.5h.8v.8h-.8zM398.1 313.9h.8v.8h-.8zM398.5 317.1h.8v.8h-.8zM402.2 322.9h.8v.8h-.8zM394.1 319.2h.8v.8h-.8zM388.8 320.8h.8v.8h-.8zM394.5 325.9h.8v.8h-.8zM396.7 315.3h.8v.8h-.8zM406.8 306.7h.8v.8h-.8zM403.5 318.6h.8v.8h-.8zM399.2 315.4h.8v.8h-.8zM394.1 317.7h.8v.8h-.8zM397.0 307.6h.8v.8h-.8zM392.3 320.8h.8v.8h-.8zM388.2 314.4h.8v.8h-.8zM392.5 316.8h.8v.8h-.8zM403.8 320.1h.8v.8h-.8zM392.6 311.6h.8v.8h-.8zM392.6 316.0h.8v.8h-.8zM403.5 321.6h.8v.8h-.8zM401.5 324.1h.8v.8h-.8zM407.5 315.1h.8v.8h-.8zM389.9 322.3h.8v.8h-.8zM388.2 327.3h.8v.8h-.8zM400.0 322.6h.8v.8h-.8zM395.3 310.7h.8v.8h-.8zM403.1 319.1h.8v.8h-.8zM406.9 308.8h.8v.8h-.8zM390.5 322.0h.8v.8h-.8zM387.0 317.7h.8v.8h-.8zM393.8 331.2h.8v.8h-.8zM390.5 317.3h.8v.8h-.8zM393.5 320.0h.8v.8h-.8zM407.4 316.7h.8v.8h-.8zM402.2 315.5h.8v.8h-.8zM396.5 315.6h.8v.8h-.8zM389.5 330.9h.8v.8h-.8zM395.1 323.5h.8v.8h-.8zM394.1 319.2h.8v.8h-.8zM392.9 314.3h.8v.8h-.8zM396.6 319.9h.8v.8h-.8zM403.2 316.9h.8v.8h-.8zM404.1 315.5h.8v.8h-.8zM392.8 311.7h.8v.8h-.8zM395.4 325.6h.8v.8h-.8zM398.7 320.6h.8v.8h-.8zM393.6 316.9h.8v.8h-.8zM411.5 311.9h.8v.8h-.8zM407.9 314.5h.8v.8h-.8zM390.2 311.9h.8v.8h-.8zM394.2 312.7h.8v.8h-.8zM382.9 330.9h.8v.8h-.8zM402.6 317.8h.8v.8h-.8zM396.6 318.1h.8v.8h-.8zM399.6 317.3h.8v.8h-.8zM398.1 320.6h.8v.8h-.8zM380.5 330.6h.8v.8h-.8zM393.3 323.6h.8v.8h-.8zM403.0 311.1h.8v.8h-.8zM403.2 318.0h.8v.8h-.8zM390.1 319.2h.8v.8h-.8zM392.7 310.4h.8v.8h-.8zM393.0 320.7h.8v.8h-.8zM389.7 314.7h.8v.8h-.8zM395.7 325.0h.8v.8h-.8zM404.8 313.0h.8v.8h-.8zM389.9 321.4h.8v.8h-.8zM394.5 316.0h.8v.8h-.8zM394.4 321.8h.8v.8h-.8zM397.9 306.6h.8v.8h-.8zM402.8 315.2h.8v.8h-.8zM403.7 314.0h.8v.8h-.8zM401.7 322.3h.8v.8h-.8zM377.5 334.9h.8v.8h-.8zM393.7 311.5h.8v.8h-.8zM377.3 329.5h.8v.8h-.8zM390.2 325.7h.8v.8h-.8zM396.9 317.1h.8v.8h-.8zM403.0 315.3h.8v.8h-.8zM402.4 318.4h.8v.8h-.8zM399.3 319.9h.8v.8h-.8zM398.7 310.8h.8v.8h-.8zM393.5 319.0h.8v.8h-.8zM390.1 314.5h.8v.8h-.8zM392.2 321.7h.8v.8h-.8zM399.7 322.8h.8v.8h-.8zM390.5 319.2h.8v.8h-.8zM391.0 319.5h.8v.8h-.8zM388.0 314.3h.8v.8h-.8zM399.8 320.4h.8v.8h-.8zM401.6 310.5h.8v.8h-.8zM397.6 325.4h.8v.8h-.8zM395.5 320.0h.8v.8h-.8zM396.3 322.4h.8v.8h-.8zM406.6 322.6h.8v.8h-.8zM399.9 318.0h.8v.8h-.8zM386.3 321.6h.8v.8h-.8zM390.1 319.9h.8v.8h-.8zM388.5 327.4h.8v.8h-.8zM388.6 323.3h.8v.8h-.8zM387.3 324.3h.8v.8h-.8zM405.8 309.4h.8v.8h-.8zM398.1 316.8h.8v.8h-.8zM401.8 319.8h.8v.8h-.8zM385.2 321.9h.8v.8h-.8zM382.9 315.9h.8v.8h-.8zM381.7 336.6h.8v.8h-.8zM387.6 330.1h.8v.8h-.8zM399.3 305.2h.8v.8h-.8zM407.3 302.5h.8v.8h-.8zM411.8 326.1h.8v.8h-.8zM380.5 316.0h.8v.8h-.8zM392.1 346.0h.8v.8h-.8zM384.1 310.3h.8v.8h-.8zM407.0 310.3h.8v.8h-.8zM390.4 309.9h.8v.8h-.8zM372.2 312.6h.8v.8h-.8zM374.7 318.8h.8v.8h-.8zM417.8 309.0h.8v.8h-.8zM415.7 307.1h.8v.8h-.8zM408.9 311.6h.8v.8h-.8zM416.6 310.1h.8v.8h-.8zM413.7 308.8h.8v.8h-.8zM414.6 306.8h.8v.8h-.8zM411.1 311.5h.8v.8h-.8zM408.6 310.9h.8v.8h-.8zM417.4 308.1h.8v.8h-.8zM414.9 306.2h.8v.8h-.8zM413.3 308.7h.8v.8h-.8zM416.8 308.8h.8v.8h-.8zM415.5 312.5h.8v.8h-.8zM416.1 307.6h.8v.8h-.8zM411.5 310.0h.8v.8h-.8zM412.9 313.0h.8v.8h-.8zM416.2 307.5h.8v.8h-.8zM410.6 308.1h.8v.8h-.8zM413.9 311.9h.8v.8h-.8zM417.6 307.5h.8v.8h-.8zM413.3 305.3h.8v.8h-.8zM417.2 307.3h.8v.8h-.8zM419.8 306.4h.8v.8h-.8zM412.3 310.2h.8v.8h-.8zM412.5 312.6h.8v.8h-.8zM415.6 309.2h.8v.8h-.8zM415.3 307.8h.8v.8h-.8zM416.4 308.5h.8v.8h-.8zM421.6 306.2h.8v.8h-.8zM415.5 307.5h.8v.8h-.8zM412.5 309.1h.8v.8h-.8zM419.8 307.0h.8v.8h-.8zM418.3 306.9h.8v.8h-.8zM411.5 306.0h.8v.8h-.8zM419.4 311.5h.8v.8h-.8zM414.6 312.1h.8v.8h-.8zM417.5 306.3h.8v.8h-.8zM417.0 306.1h.8v.8h-.8zM414.1 311.8h.8v.8h-.8zM414.3 306.6h.8v.8h-.8zM419.6 304.6h.8v.8h-.8zM413.6 308.6h.8v.8h-.8zM413.2 307.7h.8v.8h-.8zM409.0 315.2h.8v.8h-.8zM409.9 308.9h.8v.8h-.8z" fill="#000" fill-opacity="0.8"/><line x1="405.4" y1="282.4" x2="405.4" y2="347.1" stroke="#e85a70" stroke-width="0.85"/><line x1="358" y1="309.3" x2="428.4" y2="309.3" stroke="#e85a70" stroke-width="0.85"/><rect x="354.9" y="282.4" width="3.1" height="67.5" fill="#f4f6ff"/><rect x="354.9" y="347.1" width="73.5" height="2.8" fill="#f4f6ff"/><path d="M354.9 283.4h3.1M354.9 284.45h3.1M354.9 285.5h3.1M354.9 286.55h3.1M354.9 287.6h3.1M354.9 288.65h3.1M354.9 289.7h3.1M354.9 290.75h3.1M354.9 291.8h3.1M354.9 292.85h3.1M354.9 293.9h3.1M354.9 294.95h3.1M354.9 296h3.1M354.9 297.05h3.1M354.9 298.1h3.1M354.9 299.15h3.1M354.9 300.2h3.1M354.9 301.25h3.1M354.9 302.3h3.1M354.9 303.35h3.1M354.9 304.4h3.1M354.9 305.45h3.1M354.9 306.5h3.1M354.9 307.55h3.1M354.9 308.6h3.1M354.9 309.65h3.1M354.9 310.7h3.1M354.9 311.75h3.1M354.9 312.8h3.1M354.9 313.85h3.1M354.9 314.9h3.1M354.9 315.95h3.1M354.9 317h3.1M354.9 318.05h3.1M354.9 319.1h3.1M354.9 320.15h3.1M354.9 321.2h3.1M354.9 322.25h3.1M354.9 323.3h3.1M354.9 324.35h3.1M354.9 325.4h3.1M354.9 326.45h3.1M354.9 327.5h3.1M354.9 328.55h3.1M354.9 329.6h3.1M354.9 330.65h3.1M354.9 331.7h3.1M354.9 332.75h3.1M354.9 333.8h3.1M354.9 334.85h3.1M354.9 335.9h3.1M354.9 336.95h3.1M354.9 338h3.1M354.9 339.05h3.1M354.9 340.1h3.1M354.9 341.15h3.1M354.9 342.2h3.1M354.9 343.25h3.1M354.9 344.3h3.1M354.9 345.35h3.1M354.9 346.4h3.1M358.8 347.1v2.8M359.85 347.1v2.8M360.9 347.1v2.8M361.95 347.1v2.8M363 347.1v2.8M364.05 347.1v2.8M365.1 347.1v2.8M366.15 347.1v2.8M367.2 347.1v2.8M368.25 347.1v2.8M369.3 347.1v2.8M370.35 347.1v2.8M371.4 347.1v2.8M372.45 347.1v2.8M373.5 347.1v2.8M374.55 347.1v2.8M375.6 347.1v2.8M376.65 347.1v2.8M377.7 347.1v2.8M378.75 347.1v2.8M379.8 347.1v2.8M380.85 347.1v2.8M381.9 347.1v2.8M382.95 347.1v2.8M384 347.1v2.8M385.05 347.1v2.8M386.1 347.1v2.8M387.15 347.1v2.8M388.2 347.1v2.8M389.25 347.1v2.8M390.3 347.1v2.8M391.35 347.1v2.8M392.4 347.1v2.8M393.45 347.1v2.8M394.5 347.1v2.8M395.55 347.1v2.8M396.6 347.1v2.8M397.65 347.1v2.8M398.7 347.1v2.8M399.75 347.1v2.8M400.8 347.1v2.8M401.85 347.1v2.8M402.9 347.1v2.8M403.95 347.1v2.8M405 347.1v2.8M406.05 347.1v2.8M407.1 347.1v2.8M408.15 347.1v2.8M409.2 347.1v2.8M410.25 347.1v2.8M411.3 347.1v2.8M412.35 347.1v2.8M413.4 347.1v2.8M414.45 347.1v2.8M415.5 347.1v2.8M416.55 347.1v2.8M417.6 347.1v2.8M418.65 347.1v2.8M419.7 347.1v2.8M420.75 347.1v2.8M421.8 347.1v2.8M422.85 347.1v2.8M423.9 347.1v2.8M424.95 347.1v2.8M426 347.1v2.8M427.05 347.1v2.8" stroke="#8a8aff" stroke-width="0.5" fill="none"/><path d="M354.9 284.8h3.1v1.6h-3.1zM358.2 347.1v2.8h1.6v-2.8zM354.9 293.12h3.1v1.6h-3.1zM367.72 347.1v2.8h1.6v-2.8zM354.9 301.43h3.1v1.6h-3.1zM377.24 347.1v2.8h1.6v-2.8zM354.9 309.75h3.1v1.6h-3.1zM386.76 347.1v2.8h1.6v-2.8zM354.9 318.06h3.1v1.6h-3.1zM396.28 347.1v2.8h1.6v-2.8zM354.9 326.38h3.1v1.6h-3.1zM405.8 347.1v2.8h1.6v-2.8zM354.9 334.69h3.1v1.6h-3.1zM415.32 347.1v2.8h1.6v-2.8zM354.9 343.01h3.1v1.6h-3.1zM424.84 347.1v2.8h1.6v-2.8z" fill="#2020ff"/><line x1="354.9" y1="282.4" x2="428.4" y2="282.4" stroke="#4a4aff" stroke-width="1"/><line x1="428.4" y1="282.4" x2="428.4" y2="349.9" stroke="#5a5aff" stroke-width="1"/><line x1="358" y1="347.1" x2="428.4" y2="347.1" stroke="#3a3aff" stroke-width="0.8"/><text x="350.7" y="347.61" font-size="4.2" font-weight="bold" text-anchor="middle" fill="#4a4aff" transform="rotate(-90 350.7 346.1)">10</text><text x="358" y="354.51" font-size="4.2" font-weight="bold" text-anchor="middle" fill="#4a4aff" transform="rotate(-45 358 353)">10</text><text x="350.7" y="338.9" font-size="4.2" font-weight="bold" text-anchor="middle" fill="#4a4aff" transform="rotate(-90 350.7 337.39)">10</text><text x="367.65" y="354.51" font-size="4.2" font-weight="bold" text-anchor="middle" fill="#4a4aff" transform="rotate(-45 367.65 353)">10</text><text x="350.7" y="330.2" font-size="4.2" font-weight="bold" text-anchor="middle" fill="#4a4aff" transform="rotate(-90 350.7 328.68)">10</text><text x="377.31" y="354.51" font-size="4.2" font-weight="bold" text-anchor="middle" fill="#4a4aff" transform="rotate(-45 377.31 353)">10</text><text x="350.7" y="321.49" font-size="4.2" font-weight="bold" text-anchor="middle" fill="#4a4aff" transform="rotate(-90 350.7 319.97)">10</text><text x="386.96" y="354.51" font-size="4.2" font-weight="bold" text-anchor="middle" fill="#4a4aff" transform="rotate(-45 386.96 353)">10</text><text x="350.7" y="312.78" font-size="4.2" font-weight="bold" text-anchor="middle" fill="#4a4aff" transform="rotate(-90 350.7 311.27)">10</text><text x="396.61" y="354.51" font-size="4.2" font-weight="bold" text-anchor="middle" fill="#4a4aff" transform="rotate(-45 396.61 353)">10</text><text x="350.7" y="304.07" font-size="4.2" font-weight="bold" text-anchor="middle" fill="#4a4aff" transform="rotate(-90 350.7 302.56)">10</text><text x="406.26" y="354.51" font-size="4.2" font-weight="bold" text-anchor="middle" fill="#4a4aff" transform="rotate(-45 406.26 353)">10</text><text x="350.7" y="295.36" font-size="4.2" font-weight="bold" text-anchor="middle" fill="#4a4aff" transform="rotate(-90 350.7 293.85)">10</text><text x="415.92" y="354.51" font-size="4.2" font-weight="bold" text-anchor="middle" fill="#4a4aff" transform="rotate(-45 415.92 353)">10</text><text x="350.7" y="286.65" font-size="4.2" font-weight="bold" text-anchor="middle" fill="#4a4aff" transform="rotate(-90 350.7 285.14)">10</text><text x="425.57" y="354.51" font-size="4.2" font-weight="bold" text-anchor="middle" fill="#4a4aff" transform="rotate(-45 425.57 353)">10</text><text x="344.5" y="326.11" font-size="4.6" font-weight="normal" text-anchor="middle" fill="#333" transform="rotate(-90 344.5 324.45)">PE-A</text><text x="393.15" y="360.56" font-size="4.6" font-weight="normal" text-anchor="middle" fill="#333">APC-A</text><text x="357.6" y="274.92" font-size="5.6" font-weight="normal" fill="#333">H07</text><text x="357.6" y="281.02" font-size="5.6" font-weight="normal" fill="#333">Gate: P1</text><text x="358.5" y="288.12" font-size="5.6" font-weight="normal" fill="#e0203f">Q1-UL</text><text x="358.5" y="293.02" font-size="5.6" font-weight="normal" fill="#e0203f">0.3%</text><text x="410.8" y="288.12" font-size="5.6" font-weight="normal" fill="#e0203f">Q1-UR</text><text x="410.8" y="293.02" font-size="5.6" font-weight="normal" fill="#e0203f">3.6%</text><text x="358.5" y="341.82" font-size="5.6" font-weight="normal" fill="#e0203f">Q1-LL</text><text x="358.5" y="346.72" font-size="5.6" font-weight="normal" fill="#e0203f">92.4%</text><text x="410.8" y="341.82" font-size="5.6" font-weight="normal" fill="#e0203f">Q1-LR</text><text x="410.8" y="346.72" font-size="5.6" font-weight="normal" fill="#e0203f">2.7%</text><rect x="453.3" y="282.4" width="70.4" height="64.7" fill="#fff"/><ellipse cx="490.6" cy="318.2" rx="14.5" ry="8.32" transform="rotate(-35 490.6 318.2)" fill="#000" fill-opacity="0.22" filter="url(#sb2)"/><ellipse cx="490.6" cy="318.2" rx="9.5" ry="4.94" transform="rotate(-35 490.6 318.2)" fill="#000" filter="url(#sb1)"/><path d="M494.8 298.7h.8v.8h-.8zM497.1 314.1h.8v.8h-.8zM500.2 313.5h.8v.8h-.8zM502.7 309.9h.8v.8h-.8zM488.7 322.7h.8v.8h-.8zM492.5 314.9h.8v.8h-.8zM490.8 321.9h.8v.8h-.8zM494.0 313.2h.8v.8h-.8zM483.6 313.3h.8v.8h-.8zM501.0 309.7h.8v.8h-.8zM500.4 313.6h.8v.8h-.8zM507.2 314.8h.8v.8h-.8zM496.4 322.1h.8v.8h-.8zM487.6 327.1h.8v.8h-.8zM481.8 326.2h.8v.8h-.8zM498.1 314.1h.8v.8h-.8zM486.2 317.0h.8v.8h-.8zM491.0 323.6h.8v.8h-.8zM495.8 313.2h.8v.8h-.8zM484.1 326.4h.8v.8h-.8zM479.8 322.9h.8v.8h-.8zM487.7 324.3h.8v.8h-.8zM493.3 318.8h.8v.8h-.8zM490.7 314.5h.8v.8h-.8zM497.7 320.9h.8v.8h-.8zM492.0 320.7h.8v.8h-.8zM492.4 322.5h.8v.8h-.8zM497.2 318.3h.8v.8h-.8zM497.0 322.5h.8v.8h-.8zM487.4 318.6h.8v.8h-.8zM488.3 323.1h.8v.8h-.8zM484.9 318.7h.8v.8h-.8zM498.3 319.1h.8v.8h-.8zM487.6 305.8h.8v.8h-.8zM481.6 318.7h.8v.8h-.8zM481.7 322.3h.8v.8h-.8zM501.7 308.7h.8v.8h-.8zM487.6 324.1h.8v.8h-.8zM491.4 318.3h.8v.8h-.8zM486.1 321.3h.8v.8h-.8zM488.6 309.3h.8v.8h-.8zM482.8 329.5h.8v.8h-.8zM494.8 312.5h.8v.8h-.8zM483.4 322.2h.8v.8h-.8zM481.9 322.4h.8v.8h-.8zM501.8 311.1h.8v.8h-.8zM497.7 312.0h.8v.8h-.8zM496.5 321.5h.8v.8h-.8zM481.0 323.1h.8v.8h-.8zM490.3 319.9h.8v.8h-.8zM502.5 313.6h.8v.8h-.8zM480.1 324.1h.8v.8h-.8zM482.4 319.0h.8v.8h-.8zM501.2 305.1h.8v.8h-.8zM490.3 314.5h.8v.8h-.8zM497.1 315.5h.8v.8h-.8zM491.2 317.3h.8v.8h-.8zM495.7 309.6h.8v.8h-.8zM483.0 317.5h.8v.8h-.8zM498.6 311.0h.8v.8h-.8zM482.7 321.4h.8v.8h-.8zM506.7 306.3h.8v.8h-.8zM497.3 316.0h.8v.8h-.8zM488.8 315.7h.8v.8h-.8zM487.5 318.5h.8v.8h-.8zM482.7 337.7h.8v.8h-.8zM497.0 314.4h.8v.8h-.8zM487.3 316.3h.8v.8h-.8zM496.3 313.2h.8v.8h-.8zM490.2 311.0h.8v.8h-.8zM498.2 323.7h.8v.8h-.8zM490.7 322.4h.8v.8h-.8zM493.6 322.0h.8v.8h-.8zM497.8 313.5h.8v.8h-.8zM487.7 321.8h.8v.8h-.8zM489.3 315.8h.8v.8h-.8zM494.7 317.7h.8v.8h-.8zM484.5 321.9h.8v.8h-.8zM511.8 307.8h.8v.8h-.8zM497.6 326.8h.8v.8h-.8zM481.3 311.3h.8v.8h-.8zM474.3 321.4h.8v.8h-.8zM494.8 320.5h.8v.8h-.8zM479.2 332.2h.8v.8h-.8zM483.2 324.8h.8v.8h-.8zM494.7 317.6h.8v.8h-.8zM491.1 318.8h.8v.8h-.8zM483.8 324.4h.8v.8h-.8zM499.4 317.1h.8v.8h-.8zM510.5 310.1h.8v.8h-.8zM499.6 320.9h.8v.8h-.8zM488.9 312.4h.8v.8h-.8zM479.2 333.1h.8v.8h-.8zM496.5 318.7h.8v.8h-.8zM489.3 321.0h.8v.8h-.8zM503.8 310.8h.8v.8h-.8zM482.2 321.8h.8v.8h-.8zM496.9 307.9h.8v.8h-.8zM467.9 321.7h.8v.8h-.8zM483.9 327.2h.8v.8h-.8zM489.3 315.1h.8v.8h-.8zM481.9 323.7h.8v.8h-.8zM488.1 316.9h.8v.8h-.8zM487.1 316.6h.8v.8h-.8zM496.4 301.4h.8v.8h-.8zM488.8 314.0h.8v.8h-.8zM494.6 314.1h.8v.8h-.8zM494.3 318.4h.8v.8h-.8zM494.5 320.8h.8v.8h-.8zM483.9 328.0h.8v.8h-.8zM490.1 320.6h.8v.8h-.8zM503.7 315.1h.8v.8h-.8zM497.9 300.9h.8v.8h-.8zM486.8 326.1h.8v.8h-.8zM482.7 322.7h.8v.8h-.8zM504.0 313.5h.8v.8h-.8zM485.4 324.3h.8v.8h-.8zM495.0 315.5h.8v.8h-.8zM490.3 319.2h.8v.8h-.8zM481.1 325.5h.8v.8h-.8zM485.3 324.1h.8v.8h-.8zM491.1 313.0h.8v.8h-.8zM495.5 316.7h.8v.8h-.8zM492.2 321.0h.8v.8h-.8zM487.8 318.6h.8v.8h-.8zM491.0 317.6h.8v.8h-.8zM492.1 304.4h.8v.8h-.8zM483.5 312.3h.8v.8h-.8zM487.7 321.5h.8v.8h-.8zM492.8 321.7h.8v.8h-.8zM485.4 306.8h.8v.8h-.8zM486.8 329.0h.8v.8h-.8zM500.7 311.4h.8v.8h-.8zM485.5 333.2h.8v.8h-.8zM477.1 329.0h.8v.8h-.8zM490.3 319.4h.8v.8h-.8zM481.3 322.2h.8v.8h-.8zM495.7 311.6h.8v.8h-.8zM480.8 324.6h.8v.8h-.8zM490.1 317.4h.8v.8h-.8zM486.0 323.9h.8v.8h-.8zM486.0 314.6h.8v.8h-.8zM491.2 317.2h.8v.8h-.8zM486.4 311.4h.8v.8h-.8zM485.9 323.5h.8v.8h-.8zM496.9 315.3h.8v.8h-.8zM492.8 320.2h.8v.8h-.8zM501.0 320.2h.8v.8h-.8zM491.8 314.1h.8v.8h-.8zM488.4 309.0h.8v.8h-.8zM489.5 316.4h.8v.8h-.8zM491.4 320.1h.8v.8h-.8zM487.1 312.7h.8v.8h-.8zM486.1 317.0h.8v.8h-.8zM491.3 319.6h.8v.8h-.8zM486.0 325.3h.8v.8h-.8zM498.4 311.3h.8v.8h-.8zM491.6 309.5h.8v.8h-.8zM489.4 324.2h.8v.8h-.8zM477.7 324.5h.8v.8h-.8zM487.6 326.5h.8v.8h-.8zM496.5 310.7h.8v.8h-.8zM484.7 308.2h.8v.8h-.8zM497.0 315.6h.8v.8h-.8zM493.2 303.5h.8v.8h-.8zM491.9 315.3h.8v.8h-.8zM471.7 327.7h.8v.8h-.8zM492.1 321.5h.8v.8h-.8zM490.5 315.4h.8v.8h-.8zM493.2 315.8h.8v.8h-.8zM483.7 317.5h.8v.8h-.8zM491.9 318.1h.8v.8h-.8zM501.5 308.1h.8v.8h-.8zM502.0 312.1h.8v.8h-.8zM496.0 309.5h.8v.8h-.8zM484.1 321.1h.8v.8h-.8zM496.9 314.7h.8v.8h-.8zM496.3 315.9h.8v.8h-.8zM497.8 314.2h.8v.8h-.8zM488.5 322.5h.8v.8h-.8zM495.6 324.1h.8v.8h-.8zM489.8 319.3h.8v.8h-.8zM491.5 323.8h.8v.8h-.8zM498.0 316.5h.8v.8h-.8zM478.6 318.4h.8v.8h-.8zM494.2 319.6h.8v.8h-.8zM495.7 304.9h.8v.8h-.8zM485.2 312.9h.8v.8h-.8zM483.7 321.8h.8v.8h-.8zM495.6 311.9h.8v.8h-.8zM485.1 320.3h.8v.8h-.8zM505.0 321.2h.8v.8h-.8zM479.8 324.3h.8v.8h-.8zM490.7 324.4h.8v.8h-.8zM497.4 321.8h.8v.8h-.8zM484.0 322.9h.8v.8h-.8zM484.8 316.3h.8v.8h-.8zM486.6 314.6h.8v.8h-.8zM505.9 309.7h.8v.8h-.8zM482.4 320.7h.8v.8h-.8zM500.7 308.5h.8v.8h-.8zM496.6 317.1h.8v.8h-.8zM499.4 315.5h.8v.8h-.8zM487.7 317.0h.8v.8h-.8zM478.8 326.2h.8v.8h-.8zM490.6 316.3h.8v.8h-.8zM486.6 314.5h.8v.8h-.8zM503.6 306.4h.8v.8h-.8zM482.3 320.8h.8v.8h-.8zM491.4 321.7h.8v.8h-.8zM476.0 331.2h.8v.8h-.8zM486.1 320.4h.8v.8h-.8zM499.2 316.3h.8v.8h-.8zM485.9 321.0h.8v.8h-.8zM506.3 314.5h.8v.8h-.8zM496.3 314.2h.8v.8h-.8zM497.9 315.2h.8v.8h-.8zM484.5 317.1h.8v.8h-.8zM495.0 317.2h.8v.8h-.8zM497.3 310.9h.8v.8h-.8zM498.9 310.4h.8v.8h-.8zM500.3 314.4h.8v.8h-.8zM484.5 317.4h.8v.8h-.8zM489.2 317.8h.8v.8h-.8zM495.0 311.4h.8v.8h-.8zM480.9 324.9h.8v.8h-.8zM507.4 315.3h.8v.8h-.8zM485.9 320.1h.8v.8h-.8zM491.0 314.3h.8v.8h-.8zM488.3 318.3h.8v.8h-.8zM472.0 322.6h.8v.8h-.8zM485.5 325.1h.8v.8h-.8zM474.9 330.7h.8v.8h-.8zM471.7 320.2h.8v.8h-.8zM517.0 318.5h.8v.8h-.8zM500.4 308.1h.8v.8h-.8zM493.5 320.2h.8v.8h-.8zM500.8 319.4h.8v.8h-.8zM487.4 330.0h.8v.8h-.8zM484.6 320.2h.8v.8h-.8zM512.7 305.5h.8v.8h-.8zM515.2 300.4h.8v.8h-.8zM487.0 305.9h.8v.8h-.8zM460.2 333.7h.8v.8h-.8zM489.2 314.4h.8v.8h-.8zM476.2 337.5h.8v.8h-.8zM506.3 308.3h.8v.8h-.8zM504.0 312.8h.8v.8h-.8zM512.4 306.5h.8v.8h-.8zM505.7 309.1h.8v.8h-.8zM515.2 310.8h.8v.8h-.8zM505.7 307.6h.8v.8h-.8zM500.5 316.6h.8v.8h-.8zM502.0 311.9h.8v.8h-.8zM509.1 310.0h.8v.8h-.8zM501.2 306.8h.8v.8h-.8zM506.9 308.9h.8v.8h-.8zM509.6 303.3h.8v.8h-.8zM503.9 308.7h.8v.8h-.8zM500.2 310.4h.8v.8h-.8zM509.3 307.0h.8v.8h-.8zM500.2 311.4h.8v.8h-.8zM510.0 308.0h.8v.8h-.8zM508.1 304.0h.8v.8h-.8zM508.4 308.7h.8v.8h-.8zM504.4 308.9h.8v.8h-.8zM503.7 312.0h.8v.8h-.8zM504.1 307.1h.8v.8h-.8zM506.9 308.3h.8v.8h-.8zM508.2 305.7h.8v.8h-.8zM503.5 310.2h.8v.8h-.8zM515.7 305.5h.8v.8h-.8zM500.4 311.0h.8v.8h-.8zM501.4 306.3h.8v.8h-.8zM502.7 308.5h.8v.8h-.8zM508.7 310.2h.8v.8h-.8zM511.4 308.0h.8v.8h-.8zM504.3 309.4h.8v.8h-.8zM506.9 311.1h.8v.8h-.8zM502.9 308.5h.8v.8h-.8zM512.7 307.0h.8v.8h-.8zM504.3 309.5h.8v.8h-.8zM506.8 308.5h.8v.8h-.8zM509.6 307.7h.8v.8h-.8zM504.9 307.8h.8v.8h-.8zM498.5 310.5h.8v.8h-.8z" fill="#000" fill-opacity="0.8"/><line x1="500.5" y1="282.4" x2="500.5" y2="347.1" stroke="#e85a70" stroke-width="0.85"/><line x1="453.3" y1="309.3" x2="523.7" y2="309.3" stroke="#e85a70" stroke-width="0.85"/><rect x="450.2" y="282.4" width="3.1" height="67.5" fill="#f4f6ff"/><rect x="450.2" y="347.1" width="73.5" height="2.8" fill="#f4f6ff"/><path d="M450.2 283.4h3.1M450.2 284.45h3.1M450.2 285.5h3.1M450.2 286.55h3.1M450.2 287.6h3.1M450.2 288.65h3.1M450.2 289.7h3.1M450.2 290.75h3.1M450.2 291.8h3.1M450.2 292.85h3.1M450.2 293.9h3.1M450.2 294.95h3.1M450.2 296h3.1M450.2 297.05h3.1M450.2 298.1h3.1M450.2 299.15h3.1M450.2 300.2h3.1M450.2 301.25h3.1M450.2 302.3h3.1M450.2 303.35h3.1M450.2 304.4h3.1M450.2 305.45h3.1M450.2 306.5h3.1M450.2 307.55h3.1M450.2 308.6h3.1M450.2 309.65h3.1M450.2 310.7h3.1M450.2 311.75h3.1M450.2 312.8h3.1M450.2 313.85h3.1M450.2 314.9h3.1M450.2 315.95h3.1M450.2 317h3.1M450.2 318.05h3.1M450.2 319.1h3.1M450.2 320.15h3.1M450.2 321.2h3.1M450.2 322.25h3.1M450.2 323.3h3.1M450.2 324.35h3.1M450.2 325.4h3.1M450.2 326.45h3.1M450.2 327.5h3.1M450.2 328.55h3.1M450.2 329.6h3.1M450.2 330.65h3.1M450.2 331.7h3.1M450.2 332.75h3.1M450.2 333.8h3.1M450.2 334.85h3.1M450.2 335.9h3.1M450.2 336.95h3.1M450.2 338h3.1M450.2 339.05h3.1M450.2 340.1h3.1M450.2 341.15h3.1M450.2 342.2h3.1M450.2 343.25h3.1M450.2 344.3h3.1M450.2 345.35h3.1M450.2 346.4h3.1M454.1 347.1v2.8M455.15 347.1v2.8M456.2 347.1v2.8M457.25 347.1v2.8M458.3 347.1v2.8M459.35 347.1v2.8M460.4 347.1v2.8M461.45 347.1v2.8M462.5 347.1v2.8M463.55 347.1v2.8M464.6 347.1v2.8M465.65 347.1v2.8M466.7 347.1v2.8M467.75 347.1v2.8M468.8 347.1v2.8M469.85 347.1v2.8M470.9 347.1v2.8M471.95 347.1v2.8M473 347.1v2.8M474.05 347.1v2.8M475.1 347.1v2.8M476.15 347.1v2.8M477.2 347.1v2.8M478.25 347.1v2.8M479.3 347.1v2.8M480.35 347.1v2.8M481.4 347.1v2.8M482.45 347.1v2.8M483.5 347.1v2.8M484.55 347.1v2.8M485.6 347.1v2.8M486.65 347.1v2.8M487.7 347.1v2.8M488.75 347.1v2.8M489.8 347.1v2.8M490.85 347.1v2.8M491.9 347.1v2.8M492.95 347.1v2.8M494 347.1v2.8M495.05 347.1v2.8M496.1 347.1v2.8M497.15 347.1v2.8M498.2 347.1v2.8M499.25 347.1v2.8M500.3 347.1v2.8M501.35 347.1v2.8M502.4 347.1v2.8M503.45 347.1v2.8M504.5 347.1v2.8M505.55 347.1v2.8M506.6 347.1v2.8M507.65 347.1v2.8M508.7 347.1v2.8M509.75 347.1v2.8M510.8 347.1v2.8M511.85 347.1v2.8M512.9 347.1v2.8M513.95 347.1v2.8M515 347.1v2.8M516.05 347.1v2.8M517.1 347.1v2.8M518.15 347.1v2.8M519.2 347.1v2.8M520.25 347.1v2.8M521.3 347.1v2.8M522.35 347.1v2.8" stroke="#8a8aff" stroke-width="0.5" fill="none"/><path d="M450.2 284.8h3.1v1.6h-3.1zM453.5 347.1v2.8h1.6v-2.8zM450.2 293.12h3.1v1.6h-3.1zM463.02 347.1v2.8h1.6v-2.8zM450.2 301.43h3.1v1.6h-3.1zM472.54 347.1v2.8h1.6v-2.8zM450.2 309.75h3.1v1.6h-3.1zM482.06 347.1v2.8h1.6v-2.8zM450.2 318.06h3.1v1.6h-3.1zM491.58 347.1v2.8h1.6v-2.8zM450.2 326.38h3.1v1.6h-3.1zM501.1 347.1v2.8h1.6v-2.8zM450.2 334.69h3.1v1.6h-3.1zM510.62 347.1v2.8h1.6v-2.8zM450.2 343.01h3.1v1.6h-3.1zM520.14 347.1v2.8h1.6v-2.8z" fill="#2020ff"/><line x1="450.2" y1="282.4" x2="523.7" y2="282.4" stroke="#4a4aff" stroke-width="1"/><line x1="523.7" y1="282.4" x2="523.7" y2="349.9" stroke="#5a5aff" stroke-width="1"/><line x1="453.3" y1="347.1" x2="523.7" y2="347.1" stroke="#3a3aff" stroke-width="0.8"/><text x="446" y="347.61" font-size="4.2" font-weight="bold" text-anchor="middle" fill="#4a4aff" transform="rotate(-90 446 346.1)">10</text><text x="453.3" y="354.51" font-size="4.2" font-weight="bold" text-anchor="middle" fill="#4a4aff" transform="rotate(-45 453.3 353)">10</text><text x="446" y="338.9" font-size="4.2" font-weight="bold" text-anchor="middle" fill="#4a4aff" transform="rotate(-90 446 337.39)">10</text><text x="462.95" y="354.51" font-size="4.2" font-weight="bold" text-anchor="middle" fill="#4a4aff" transform="rotate(-45 462.95 353)">10</text><text x="446" y="330.2" font-size="4.2" font-weight="bold" text-anchor="middle" fill="#4a4aff" transform="rotate(-90 446 328.68)">10</text><text x="472.61" y="354.51" font-size="4.2" font-weight="bold" text-anchor="middle" fill="#4a4aff" transform="rotate(-45 472.61 353)">10</text><text x="446" y="321.49" font-size="4.2" font-weight="bold" text-anchor="middle" fill="#4a4aff" transform="rotate(-90 446 319.97)">10</text><text x="482.26" y="354.51" font-size="4.2" font-weight="bold" text-anchor="middle" fill="#4a4aff" transform="rotate(-45 482.26 353)">10</text><text x="446" y="312.78" font-size="4.2" font-weight="bold" text-anchor="middle" fill="#4a4aff" transform="rotate(-90 446 311.27)">10</text><text x="491.91" y="354.51" font-size="4.2" font-weight="bold" text-anchor="middle" fill="#4a4aff" transform="rotate(-45 491.91 353)">10</text><text x="446" y="304.07" font-size="4.2" font-weight="bold" text-anchor="middle" fill="#4a4aff" transform="rotate(-90 446 302.56)">10</text><text x="501.56" y="354.51" font-size="4.2" font-weight="bold" text-anchor="middle" fill="#4a4aff" transform="rotate(-45 501.56 353)">10</text><text x="446" y="295.36" font-size="4.2" font-weight="bold" text-anchor="middle" fill="#4a4aff" transform="rotate(-90 446 293.85)">10</text><text x="511.22" y="354.51" font-size="4.2" font-weight="bold" text-anchor="middle" fill="#4a4aff" transform="rotate(-45 511.22 353)">10</text><text x="446" y="286.65" font-size="4.2" font-weight="bold" text-anchor="middle" fill="#4a4aff" transform="rotate(-90 446 285.14)">10</text><text x="520.87" y="354.51" font-size="4.2" font-weight="bold" text-anchor="middle" fill="#4a4aff" transform="rotate(-45 520.87 353)">10</text><text x="439.8" y="326.11" font-size="4.6" font-weight="normal" text-anchor="middle" fill="#333" transform="rotate(-90 439.8 324.45)">PE-A</text><text x="488.45" y="360.56" font-size="4.6" font-weight="normal" text-anchor="middle" fill="#333">APC-A</text><text x="452.9" y="274.92" font-size="5.6" font-weight="normal" fill="#333">F08</text><text x="452.9" y="281.02" font-size="5.6" font-weight="normal" fill="#333">Gate: P1</text><text x="453.8" y="288.12" font-size="5.6" font-weight="normal" fill="#e0203f">Q1-UL</text><text x="453.8" y="293.02" font-size="5.6" font-weight="normal" fill="#e0203f">0.7%</text><text x="506.1" y="288.12" font-size="5.6" font-weight="normal" fill="#e0203f">Q1-UR</text><text x="506.1" y="293.02" font-size="5.6" font-weight="normal" fill="#e0203f">2.2%</text><text x="453.8" y="341.82" font-size="5.6" font-weight="normal" fill="#e0203f">Q1-LL</text><text x="453.8" y="346.72" font-size="5.6" font-weight="normal" fill="#e0203f">95.0%</text><text x="506.1" y="341.82" font-size="5.6" font-weight="normal" fill="#e0203f">Q1-LR</text><text x="506.1" y="346.72" font-size="5.6" font-weight="normal" fill="#e0203f">2.2%</text><rect x="165.9" y="378" width="70.2" height="64.7" fill="#fff"/><ellipse cx="202.6" cy="416.1" rx="7.97" ry="4.48" transform="rotate(-20 202.6 416.1)" fill="#000" fill-opacity="0.22" filter="url(#sb2)"/><ellipse cx="202.6" cy="416.1" rx="5.22" ry="2.66" transform="rotate(-20 202.6 416.1)" fill="#000" filter="url(#sb1)"/><path d="M202.1 419.3h.8v.8h-.8zM208.6 414.7h.8v.8h-.8zM203.9 414.4h.8v.8h-.8zM198.1 415.5h.8v.8h-.8zM199.2 419.7h.8v.8h-.8zM202.5 416.5h.8v.8h-.8zM199.1 414.6h.8v.8h-.8zM196.9 416.0h.8v.8h-.8zM205.1 415.2h.8v.8h-.8zM200.5 416.3h.8v.8h-.8zM197.7 421.0h.8v.8h-.8zM197.6 418.0h.8v.8h-.8zM209.4 407.2h.8v.8h-.8zM196.2 416.6h.8v.8h-.8zM201.7 412.1h.8v.8h-.8zM201.6 416.4h.8v.8h-.8zM201.4 410.5h.8v.8h-.8zM206.6 418.7h.8v.8h-.8zM203.8 413.8h.8v.8h-.8zM197.9 411.1h.8v.8h-.8zM205.8 418.7h.8v.8h-.8zM202.9 408.5h.8v.8h-.8zM200.8 416.5h.8v.8h-.8zM201.4 419.1h.8v.8h-.8zM194.8 417.1h.8v.8h-.8zM205.9 417.4h.8v.8h-.8zM204.2 418.2h.8v.8h-.8zM203.9 412.9h.8v.8h-.8zM207.5 413.0h.8v.8h-.8zM196.2 419.5h.8v.8h-.8zM210.9 415.5h.8v.8h-.8zM206.9 415.0h.8v.8h-.8zM193.0 421.3h.8v.8h-.8zM201.1 410.0h.8v.8h-.8zM199.2 415.1h.8v.8h-.8zM207.1 414.8h.8v.8h-.8zM204.0 416.2h.8v.8h-.8zM195.5 413.7h.8v.8h-.8zM202.6 415.4h.8v.8h-.8zM202.4 415.7h.8v.8h-.8zM201.0 418.1h.8v.8h-.8zM202.9 414.4h.8v.8h-.8zM192.6 413.2h.8v.8h-.8zM196.5 417.9h.8v.8h-.8zM206.0 413.8h.8v.8h-.8zM206.3 417.7h.8v.8h-.8zM212.7 413.2h.8v.8h-.8zM209.0 414.4h.8v.8h-.8zM195.6 412.9h.8v.8h-.8zM204.6 417.6h.8v.8h-.8zM212.3 410.9h.8v.8h-.8zM204.5 415.1h.8v.8h-.8zM193.1 420.5h.8v.8h-.8zM200.2 413.7h.8v.8h-.8zM209.1 412.2h.8v.8h-.8zM204.3 414.8h.8v.8h-.8zM199.5 416.8h.8v.8h-.8zM205.3 413.4h.8v.8h-.8zM197.2 422.6h.8v.8h-.8zM203.6 413.3h.8v.8h-.8zM200.9 412.7h.8v.8h-.8zM203.0 418.1h.8v.8h-.8zM195.3 420.9h.8v.8h-.8zM205.7 414.3h.8v.8h-.8zM202.8 415.2h.8v.8h-.8zM199.2 412.6h.8v.8h-.8zM208.8 412.1h.8v.8h-.8zM203.0 415.4h.8v.8h-.8zM204.9 416.7h.8v.8h-.8zM198.7 418.4h.8v.8h-.8zM200.8 414.5h.8v.8h-.8zM208.9 416.8h.8v.8h-.8zM198.6 416.8h.8v.8h-.8zM197.5 415.1h.8v.8h-.8zM199.0 418.8h.8v.8h-.8zM195.6 415.0h.8v.8h-.8zM203.2 414.1h.8v.8h-.8zM206.9 412.1h.8v.8h-.8zM200.0 415.1h.8v.8h-.8zM193.3 420.4h.8v.8h-.8zM206.3 417.2h.8v.8h-.8zM202.4 417.9h.8v.8h-.8zM201.9 416.1h.8v.8h-.8zM199.2 417.0h.8v.8h-.8zM199.2 418.9h.8v.8h-.8zM199.0 414.8h.8v.8h-.8zM202.1 416.1h.8v.8h-.8zM194.7 416.2h.8v.8h-.8zM200.5 417.8h.8v.8h-.8zM205.4 417.1h.8v.8h-.8zM200.8 414.6h.8v.8h-.8zM196.7 418.5h.8v.8h-.8zM201.2 417.7h.8v.8h-.8zM208.3 419.0h.8v.8h-.8zM199.4 418.7h.8v.8h-.8zM196.6 420.9h.8v.8h-.8zM197.4 417.6h.8v.8h-.8zM199.3 421.2h.8v.8h-.8zM205.6 417.3h.8v.8h-.8zM202.3 417.2h.8v.8h-.8zM197.6 416.7h.8v.8h-.8zM206.7 409.9h.8v.8h-.8zM203.9 418.7h.8v.8h-.8zM207.6 416.0h.8v.8h-.8zM203.8 419.1h.8v.8h-.8zM201.4 416.4h.8v.8h-.8zM195.9 419.3h.8v.8h-.8zM201.3 416.6h.8v.8h-.8zM192.3 416.9h.8v.8h-.8zM201.0 413.6h.8v.8h-.8zM206.9 419.8h.8v.8h-.8zM202.8 417.1h.8v.8h-.8zM200.3 415.7h.8v.8h-.8zM196.9 419.4h.8v.8h-.8zM196.4 416.9h.8v.8h-.8zM198.8 414.2h.8v.8h-.8zM199.1 416.8h.8v.8h-.8zM206.4 414.4h.8v.8h-.8zM207.6 414.8h.8v.8h-.8zM202.9 416.9h.8v.8h-.8zM201.5 418.5h.8v.8h-.8zM202.6 416.0h.8v.8h-.8zM208.6 411.4h.8v.8h-.8zM197.9 417.3h.8v.8h-.8zM202.9 414.9h.8v.8h-.8zM205.9 415.4h.8v.8h-.8zM202.4 412.6h.8v.8h-.8zM209.0 413.7h.8v.8h-.8zM199.5 420.4h.8v.8h-.8zM201.5 414.5h.8v.8h-.8zM197.6 417.7h.8v.8h-.8zM198.8 414.8h.8v.8h-.8zM201.6 415.7h.8v.8h-.8zM200.7 418.9h.8v.8h-.8zM209.4 417.0h.8v.8h-.8zM200.3 415.5h.8v.8h-.8zM195.6 417.8h.8v.8h-.8zM198.4 417.9h.8v.8h-.8zM201.6 417.8h.8v.8h-.8zM202.4 417.1h.8v.8h-.8zM202.8 409.8h.8v.8h-.8zM198.3 418.1h.8v.8h-.8zM202.4 416.5h.8v.8h-.8zM200.8 418.4h.8v.8h-.8zM200.2 416.2h.8v.8h-.8zM200.2 418.5h.8v.8h-.8zM205.5 414.7h.8v.8h-.8zM202.1 410.9h.8v.8h-.8zM204.6 410.2h.8v.8h-.8zM197.8 411.6h.8v.8h-.8zM195.2 414.0h.8v.8h-.8zM216.8 402.9h.8v.8h-.8zM178.5 425.1h.8v.8h-.8zM201.2 423.5h.8v.8h-.8zM204.9 403.4h.8v.8h-.8zM197.8 415.1h.8v.8h-.8zM201.8 413.7h.8v.8h-.8zM201.1 417.8h.8v.8h-.8zM183.7 416.1h.8v.8h-.8zM216.4 418.7h.8v.8h-.8zM205.2 418.6h.8v.8h-.8zM214.3 421.2h.8v.8h-.8zM209.4 406.9h.8v.8h-.8zM220.7 404.0h.8v.8h-.8zM204.6 414.1h.8v.8h-.8zM209.4 409.3h.8v.8h-.8zM211.4 412.2h.8v.8h-.8zM212.4 409.0h.8v.8h-.8zM197.2 408.4h.8v.8h-.8zM200.6 410.4h.8v.8h-.8zM219.8 403.1h.8v.8h-.8zM210.4 418.0h.8v.8h-.8zM213.8 406.4h.8v.8h-.8zM217.2 407.2h.8v.8h-.8zM225.5 406.7h.8v.8h-.8zM206.8 416.4h.8v.8h-.8zM205.7 420.4h.8v.8h-.8zM214.3 399.8h.8v.8h-.8zM230.9 398.9h.8v.8h-.8zM197.1 424.0h.8v.8h-.8zM205.9 411.4h.8v.8h-.8zM211.4 410.2h.8v.8h-.8zM215.7 400.5h.8v.8h-.8zM214.4 411.5h.8v.8h-.8zM215.6 411.8h.8v.8h-.8zM219.9 410.0h.8v.8h-.8zM217.0 406.9h.8v.8h-.8zM214.2 406.8h.8v.8h-.8zM214.7 402.1h.8v.8h-.8zM201.1 417.3h.8v.8h-.8zM199.1 415.5h.8v.8h-.8zM213.9 398.0h.8v.8h-.8zM215.0 414.4h.8v.8h-.8zM208.2 416.8h.8v.8h-.8zM197.6 404.3h.8v.8h-.8zM200.9 408.9h.8v.8h-.8zM216.9 404.9h.8v.8h-.8zM202.6 408.5h.8v.8h-.8zM217.7 397.3h.8v.8h-.8zM196.7 411.5h.8v.8h-.8zM210.0 411.8h.8v.8h-.8zM218.2 402.4h.8v.8h-.8zM212.2 403.2h.8v.8h-.8zM232.5 399.9h.8v.8h-.8zM199.3 417.9h.8v.8h-.8zM213.2 413.0h.8v.8h-.8zM215.2 399.3h.8v.8h-.8zM215.8 405.1h.8v.8h-.8zM206.1 410.7h.8v.8h-.8zM209.5 410.3h.8v.8h-.8zM219.5 405.7h.8v.8h-.8zM215.7 413.6h.8v.8h-.8zM210.1 411.3h.8v.8h-.8zM214.1 413.2h.8v.8h-.8zM204.3 413.1h.8v.8h-.8zM221.0 406.6h.8v.8h-.8zM217.0 406.6h.8v.8h-.8zM216.5 406.8h.8v.8h-.8zM219.5 406.0h.8v.8h-.8zM208.6 410.8h.8v.8h-.8zM212.7 420.4h.8v.8h-.8zM217.9 407.6h.8v.8h-.8zM211.5 413.0h.8v.8h-.8zM207.7 409.2h.8v.8h-.8zM206.9 409.5h.8v.8h-.8zM207.8 406.2h.8v.8h-.8zM212.8 403.8h.8v.8h-.8zM217.7 411.6h.8v.8h-.8zM205.4 409.2h.8v.8h-.8zM219.3 403.4h.8v.8h-.8zM212.3 408.4h.8v.8h-.8zM208.8 406.7h.8v.8h-.8zM217.1 407.2h.8v.8h-.8zM207.9 409.2h.8v.8h-.8zM202.9 414.9h.8v.8h-.8zM217.9 413.2h.8v.8h-.8zM207.9 418.2h.8v.8h-.8zM214.4 413.6h.8v.8h-.8zM198.0 415.5h.8v.8h-.8zM214.1 401.2h.8v.8h-.8zM216.7 411.2h.8v.8h-.8zM205.5 415.5h.8v.8h-.8zM216.3 411.3h.8v.8h-.8zM206.7 406.0h.8v.8h-.8zM207.1 411.4h.8v.8h-.8zM193.6 417.7h.8v.8h-.8zM210.9 408.5h.8v.8h-.8zM185.3 414.6h.8v.8h-.8zM207.5 408.1h.8v.8h-.8zM212.4 404.4h.8v.8h-.8zM205.3 414.8h.8v.8h-.8zM215.6 405.8h.8v.8h-.8zM202.8 404.3h.8v.8h-.8zM213.6 405.6h.8v.8h-.8zM223.5 401.0h.8v.8h-.8zM209.9 406.5h.8v.8h-.8zM217.3 418.1h.8v.8h-.8zM206.8 406.7h.8v.8h-.8zM214.6 408.8h.8v.8h-.8zM198.1 418.3h.8v.8h-.8zM203.6 416.0h.8v.8h-.8zM211.2 406.7h.8v.8h-.8zM213.0 405.5h.8v.8h-.8zM198.7 411.3h.8v.8h-.8zM208.2 404.7h.8v.8h-.8zM209.2 404.8h.8v.8h-.8zM215.5 406.8h.8v.8h-.8zM204.1 401.2h.8v.8h-.8zM209.7 400.2h.8v.8h-.8zM202.6 405.7h.8v.8h-.8zM222.5 403.6h.8v.8h-.8z" fill="#000" fill-opacity="0.8"/><line x1="216.5" y1="378" x2="216.5" y2="442.7" stroke="#e85a70" stroke-width="0.85"/><line x1="165.9" y1="405" x2="236.1" y2="405" stroke="#e85a70" stroke-width="0.85"/><rect x="162.8" y="378" width="3.1" height="67.5" fill="#f4f6ff"/><rect x="162.8" y="442.7" width="73.3" height="2.8" fill="#f4f6ff"/><path d="M162.8 379h3.1M162.8 380.05h3.1M162.8 381.1h3.1M162.8 382.15h3.1M162.8 383.2h3.1M162.8 384.25h3.1M162.8 385.3h3.1M162.8 386.35h3.1M162.8 387.4h3.1M162.8 388.45h3.1M162.8 389.5h3.1M162.8 390.55h3.1M162.8 391.6h3.1M162.8 392.65h3.1M162.8 393.7h3.1M162.8 394.75h3.1M162.8 395.8h3.1M162.8 396.85h3.1M162.8 397.9h3.1M162.8 398.95h3.1M162.8 400h3.1M162.8 401.05h3.1M162.8 402.1h3.1M162.8 403.15h3.1M162.8 404.2h3.1M162.8 405.25h3.1M162.8 406.3h3.1M162.8 407.35h3.1M162.8 408.4h3.1M162.8 409.45h3.1M162.8 410.5h3.1M162.8 411.55h3.1M162.8 412.6h3.1M162.8 413.65h3.1M162.8 414.7h3.1M162.8 415.75h3.1M162.8 416.8h3.1M162.8 417.85h3.1M162.8 418.9h3.1M162.8 419.95h3.1M162.8 421h3.1M162.8 422.05h3.1M162.8 423.1h3.1M162.8 424.15h3.1M162.8 425.2h3.1M162.8 426.25h3.1M162.8 427.3h3.1M162.8 428.35h3.1M162.8 429.4h3.1M162.8 430.45h3.1M162.8 431.5h3.1M162.8 432.55h3.1M162.8 433.6h3.1M162.8 434.65h3.1M162.8 435.7h3.1M162.8 436.75h3.1M162.8 437.8h3.1M162.8 438.85h3.1M162.8 439.9h3.1M162.8 440.95h3.1M162.8 442h3.1M166.7 442.7v2.8M167.75 442.7v2.8M168.8 442.7v2.8M169.85 442.7v2.8M170.9 442.7v2.8M171.95 442.7v2.8M173 442.7v2.8M174.05 442.7v2.8M175.1 442.7v2.8M176.15 442.7v2.8M177.2 442.7v2.8M178.25 442.7v2.8M179.3 442.7v2.8M180.35 442.7v2.8M181.4 442.7v2.8M182.45 442.7v2.8M183.5 442.7v2.8M184.55 442.7v2.8M185.6 442.7v2.8M186.65 442.7v2.8M187.7 442.7v2.8M188.75 442.7v2.8M189.8 442.7v2.8M190.85 442.7v2.8M191.9 442.7v2.8M192.95 442.7v2.8M194 442.7v2.8M195.05 442.7v2.8M196.1 442.7v2.8M197.15 442.7v2.8M198.2 442.7v2.8M199.25 442.7v2.8M200.3 442.7v2.8M201.35 442.7v2.8M202.4 442.7v2.8M203.45 442.7v2.8M204.5 442.7v2.8M205.55 442.7v2.8M206.6 442.7v2.8M207.65 442.7v2.8M208.7 442.7v2.8M209.75 442.7v2.8M210.8 442.7v2.8M211.85 442.7v2.8M212.9 442.7v2.8M213.95 442.7v2.8M215 442.7v2.8M216.05 442.7v2.8M217.1 442.7v2.8M218.15 442.7v2.8M219.2 442.7v2.8M220.25 442.7v2.8M221.3 442.7v2.8M222.35 442.7v2.8M223.4 442.7v2.8M224.45 442.7v2.8M225.5 442.7v2.8M226.55 442.7v2.8M227.6 442.7v2.8M228.65 442.7v2.8M229.7 442.7v2.8M230.75 442.7v2.8M231.8 442.7v2.8M232.85 442.7v2.8M233.9 442.7v2.8M234.95 442.7v2.8" stroke="#8a8aff" stroke-width="0.5" fill="none"/><path d="M162.8 380.4h3.1v1.6h-3.1zM166.1 442.7v2.8h1.6v-2.8zM162.8 388.72h3.1v1.6h-3.1zM175.59 442.7v2.8h1.6v-2.8zM162.8 397.03h3.1v1.6h-3.1zM185.09 442.7v2.8h1.6v-2.8zM162.8 405.35h3.1v1.6h-3.1zM194.58 442.7v2.8h1.6v-2.8zM162.8 413.66h3.1v1.6h-3.1zM204.07 442.7v2.8h1.6v-2.8zM162.8 421.98h3.1v1.6h-3.1zM213.57 442.7v2.8h1.6v-2.8zM162.8 430.29h3.1v1.6h-3.1zM223.06 442.7v2.8h1.6v-2.8zM162.8 438.61h3.1v1.6h-3.1zM232.55 442.7v2.8h1.6v-2.8z" fill="#2020ff"/><line x1="162.8" y1="378" x2="236.1" y2="378" stroke="#4a4aff" stroke-width="1"/><line x1="236.1" y1="378" x2="236.1" y2="445.5" stroke="#5a5aff" stroke-width="1"/><line x1="165.9" y1="442.7" x2="236.1" y2="442.7" stroke="#3a3aff" stroke-width="0.8"/><text x="158.6" y="443.21" font-size="4.2" font-weight="bold" text-anchor="middle" fill="#4a4aff" transform="rotate(-90 158.6 441.7)">10</text><text x="165.9" y="450.11" font-size="4.2" font-weight="bold" text-anchor="middle" fill="#4a4aff" transform="rotate(-45 165.9 448.6)">10</text><text x="158.6" y="434.5" font-size="4.2" font-weight="bold" text-anchor="middle" fill="#4a4aff" transform="rotate(-90 158.6 432.99)">10</text><text x="175.53" y="450.11" font-size="4.2" font-weight="bold" text-anchor="middle" fill="#4a4aff" transform="rotate(-45 175.53 448.6)">10</text><text x="158.6" y="425.8" font-size="4.2" font-weight="bold" text-anchor="middle" fill="#4a4aff" transform="rotate(-90 158.6 424.28)">10</text><text x="185.15" y="450.11" font-size="4.2" font-weight="bold" text-anchor="middle" fill="#4a4aff" transform="rotate(-45 185.15 448.6)">10</text><text x="158.6" y="417.09" font-size="4.2" font-weight="bold" text-anchor="middle" fill="#4a4aff" transform="rotate(-90 158.6 415.57)">10</text><text x="194.78" y="450.11" font-size="4.2" font-weight="bold" text-anchor="middle" fill="#4a4aff" transform="rotate(-45 194.78 448.6)">10</text><text x="158.6" y="408.38" font-size="4.2" font-weight="bold" text-anchor="middle" fill="#4a4aff" transform="rotate(-90 158.6 406.87)">10</text><text x="204.4" y="450.11" font-size="4.2" font-weight="bold" text-anchor="middle" fill="#4a4aff" transform="rotate(-45 204.4 448.6)">10</text><text x="158.6" y="399.67" font-size="4.2" font-weight="bold" text-anchor="middle" fill="#4a4aff" transform="rotate(-90 158.6 398.16)">10</text><text x="214.03" y="450.11" font-size="4.2" font-weight="bold" text-anchor="middle" fill="#4a4aff" transform="rotate(-45 214.03 448.6)">10</text><text x="158.6" y="390.96" font-size="4.2" font-weight="bold" text-anchor="middle" fill="#4a4aff" transform="rotate(-90 158.6 389.45)">10</text><text x="223.65" y="450.11" font-size="4.2" font-weight="bold" text-anchor="middle" fill="#4a4aff" transform="rotate(-45 223.65 448.6)">10</text><text x="158.6" y="382.25" font-size="4.2" font-weight="bold" text-anchor="middle" fill="#4a4aff" transform="rotate(-90 158.6 380.74)">10</text><text x="233.28" y="450.11" font-size="4.2" font-weight="bold" text-anchor="middle" fill="#4a4aff" transform="rotate(-45 233.28 448.6)">10</text><text x="152.4" y="421.71" font-size="4.6" font-weight="normal" text-anchor="middle" fill="#333" transform="rotate(-90 152.4 420.06)">PE-A</text><text x="200.95" y="456.16" font-size="4.6" font-weight="normal" text-anchor="middle" fill="#333">APC-A</text><text x="165.5" y="370.52" font-size="5.6" font-weight="normal" fill="#333">B02</text><text x="165.5" y="376.62" font-size="5.6" font-weight="normal" fill="#333">Gate: (P1 in all)</text><text x="166.4" y="383.72" font-size="5.6" font-weight="normal" fill="#e0203f">Q1-UL</text><text x="166.4" y="388.62" font-size="5.6" font-weight="normal" fill="#e0203f">2.8%</text><text x="218.5" y="383.72" font-size="5.6" font-weight="normal" fill="#e0203f">Q1-UR</text><text x="218.5" y="388.62" font-size="5.6" font-weight="normal" fill="#e0203f">1.6%</text><text x="166.4" y="437.42" font-size="5.6" font-weight="normal" fill="#e0203f">Q1-LL</text><text x="166.4" y="442.32" font-size="5.6" font-weight="normal" fill="#e0203f">93.6%</text><text x="218.5" y="437.42" font-size="5.6" font-weight="normal" fill="#e0203f">Q1-LR</text><text x="218.5" y="442.32" font-size="5.6" font-weight="normal" fill="#e0203f">1.9%</text><rect x="262.9" y="378" width="70.2" height="64.7" fill="#fff"/><ellipse cx="300.4" cy="414.8" rx="15.22" ry="6.4" transform="rotate(-12 300.4 414.8)" fill="#000" fill-opacity="0.22" filter="url(#sb2)"/><ellipse cx="300.4" cy="414.8" rx="9.97" ry="3.8" transform="rotate(-12 300.4 414.8)" fill="#000" filter="url(#sb1)"/><path d="M304.4 419.2h.8v.8h-.8zM286.9 423.5h.8v.8h-.8zM299.4 412.2h.8v.8h-.8zM293.0 412.6h.8v.8h-.8zM299.2 418.0h.8v.8h-.8zM305.7 415.9h.8v.8h-.8zM285.4 412.5h.8v.8h-.8zM313.9 415.3h.8v.8h-.8zM319.2 415.0h.8v.8h-.8zM292.9 420.9h.8v.8h-.8zM305.7 414.4h.8v.8h-.8zM293.7 416.2h.8v.8h-.8zM299.8 418.0h.8v.8h-.8zM302.5 419.9h.8v.8h-.8zM294.4 417.7h.8v.8h-.8zM303.9 411.1h.8v.8h-.8zM291.4 420.2h.8v.8h-.8zM304.5 413.4h.8v.8h-.8zM303.2 411.9h.8v.8h-.8zM301.9 412.4h.8v.8h-.8zM302.6 417.7h.8v.8h-.8zM298.2 418.2h.8v.8h-.8zM291.7 415.6h.8v.8h-.8zM289.1 416.8h.8v.8h-.8zM300.9 414.0h.8v.8h-.8zM299.1 419.7h.8v.8h-.8zM311.2 408.3h.8v.8h-.8zM308.8 407.0h.8v.8h-.8zM294.2 415.5h.8v.8h-.8zM300.6 411.1h.8v.8h-.8zM294.5 416.3h.8v.8h-.8zM294.2 413.9h.8v.8h-.8zM306.5 416.7h.8v.8h-.8zM299.9 415.0h.8v.8h-.8zM299.9 413.3h.8v.8h-.8zM295.5 412.2h.8v.8h-.8zM305.7 413.4h.8v.8h-.8zM299.4 415.7h.8v.8h-.8zM305.8 418.6h.8v.8h-.8zM297.9 413.9h.8v.8h-.8zM301.5 411.6h.8v.8h-.8zM311.5 415.7h.8v.8h-.8zM306.0 413.2h.8v.8h-.8zM307.2 417.0h.8v.8h-.8zM304.3 413.0h.8v.8h-.8zM287.2 420.9h.8v.8h-.8zM296.9 412.6h.8v.8h-.8zM308.0 414.4h.8v.8h-.8zM288.7 416.9h.8v.8h-.8zM298.9 418.6h.8v.8h-.8zM284.6 416.8h.8v.8h-.8zM300.3 419.8h.8v.8h-.8zM289.4 406.9h.8v.8h-.8zM289.2 418.1h.8v.8h-.8zM308.3 419.2h.8v.8h-.8zM303.1 411.4h.8v.8h-.8zM307.7 413.2h.8v.8h-.8zM298.8 415.2h.8v.8h-.8zM310.2 409.6h.8v.8h-.8zM291.9 416.4h.8v.8h-.8zM299.3 412.2h.8v.8h-.8zM293.4 417.6h.8v.8h-.8zM311.9 414.8h.8v.8h-.8zM306.9 417.7h.8v.8h-.8zM283.0 413.3h.8v.8h-.8zM293.8 412.1h.8v.8h-.8zM292.3 416.8h.8v.8h-.8zM289.5 415.6h.8v.8h-.8zM282.9 415.1h.8v.8h-.8zM311.1 410.6h.8v.8h-.8zM303.6 416.6h.8v.8h-.8zM296.8 417.6h.8v.8h-.8zM302.7 416.7h.8v.8h-.8zM294.2 411.1h.8v.8h-.8zM291.6 414.7h.8v.8h-.8zM304.7 413.2h.8v.8h-.8zM297.0 414.9h.8v.8h-.8zM309.0 411.0h.8v.8h-.8zM311.9 408.1h.8v.8h-.8zM296.1 418.7h.8v.8h-.8zM304.0 411.1h.8v.8h-.8zM299.0 412.6h.8v.8h-.8zM307.8 415.1h.8v.8h-.8zM294.8 417.4h.8v.8h-.8zM297.3 415.2h.8v.8h-.8zM300.5 412.8h.8v.8h-.8zM304.2 415.6h.8v.8h-.8zM304.7 417.7h.8v.8h-.8zM297.1 410.3h.8v.8h-.8zM296.5 416.3h.8v.8h-.8zM301.0 416.7h.8v.8h-.8zM306.9 413.0h.8v.8h-.8zM298.8 411.7h.8v.8h-.8zM308.7 412.1h.8v.8h-.8zM290.7 413.0h.8v.8h-.8zM298.1 420.7h.8v.8h-.8zM305.6 407.8h.8v.8h-.8zM299.6 415.9h.8v.8h-.8zM305.8 414.8h.8v.8h-.8zM295.4 417.3h.8v.8h-.8zM294.3 408.3h.8v.8h-.8zM294.1 413.8h.8v.8h-.8zM309.0 416.6h.8v.8h-.8zM291.9 417.2h.8v.8h-.8zM300.1 409.9h.8v.8h-.8zM283.5 418.1h.8v.8h-.8zM301.1 412.6h.8v.8h-.8zM278.1 419.4h.8v.8h-.8zM295.0 412.9h.8v.8h-.8zM296.9 411.6h.8v.8h-.8zM305.0 413.9h.8v.8h-.8zM296.0 416.7h.8v.8h-.8zM299.1 409.8h.8v.8h-.8zM298.9 413.5h.8v.8h-.8zM285.6 415.7h.8v.8h-.8zM303.5 412.0h.8v.8h-.8zM313.2 418.0h.8v.8h-.8zM298.3 417.2h.8v.8h-.8zM316.5 410.2h.8v.8h-.8zM292.7 415.0h.8v.8h-.8zM288.2 412.7h.8v.8h-.8zM301.8 413.0h.8v.8h-.8zM302.8 416.0h.8v.8h-.8zM294.0 415.5h.8v.8h-.8zM297.7 413.0h.8v.8h-.8zM293.8 417.3h.8v.8h-.8zM299.5 416.2h.8v.8h-.8zM309.3 416.4h.8v.8h-.8zM290.7 413.9h.8v.8h-.8zM298.4 415.7h.8v.8h-.8zM307.4 410.0h.8v.8h-.8zM297.0 416.4h.8v.8h-.8zM311.5 417.2h.8v.8h-.8zM292.0 415.9h.8v.8h-.8zM294.4 419.0h.8v.8h-.8zM303.8 412.8h.8v.8h-.8zM295.6 416.8h.8v.8h-.8zM307.9 410.5h.8v.8h-.8zM297.8 415.7h.8v.8h-.8zM300.8 415.9h.8v.8h-.8zM291.8 414.6h.8v.8h-.8zM283.2 418.7h.8v.8h-.8zM307.7 406.1h.8v.8h-.8zM295.8 418.9h.8v.8h-.8zM297.9 408.7h.8v.8h-.8zM309.0 408.0h.8v.8h-.8zM311.3 410.5h.8v.8h-.8zM294.6 416.1h.8v.8h-.8zM300.6 416.8h.8v.8h-.8zM304.4 413.4h.8v.8h-.8zM311.8 414.9h.8v.8h-.8zM302.7 414.8h.8v.8h-.8zM299.6 414.7h.8v.8h-.8zM306.2 415.2h.8v.8h-.8zM301.4 418.1h.8v.8h-.8zM298.6 416.7h.8v.8h-.8zM306.7 409.6h.8v.8h-.8zM299.4 420.8h.8v.8h-.8zM293.4 420.3h.8v.8h-.8zM292.0 418.0h.8v.8h-.8zM291.2 414.6h.8v.8h-.8zM296.9 413.6h.8v.8h-.8zM309.3 415.8h.8v.8h-.8zM307.7 413.9h.8v.8h-.8zM314.6 415.4h.8v.8h-.8zM302.3 410.7h.8v.8h-.8zM306.5 415.8h.8v.8h-.8zM301.7 417.0h.8v.8h-.8zM306.5 412.5h.8v.8h-.8zM305.3 415.0h.8v.8h-.8zM302.7 413.1h.8v.8h-.8zM296.7 416.0h.8v.8h-.8zM313.8 420.0h.8v.8h-.8zM296.6 411.9h.8v.8h-.8zM297.0 412.6h.8v.8h-.8zM297.3 416.8h.8v.8h-.8zM293.3 418.4h.8v.8h-.8zM308.0 418.5h.8v.8h-.8zM316.1 414.9h.8v.8h-.8zM318.7 409.2h.8v.8h-.8zM302.8 414.9h.8v.8h-.8zM304.7 417.4h.8v.8h-.8zM299.0 421.1h.8v.8h-.8zM311.1 413.7h.8v.8h-.8zM303.6 410.8h.8v.8h-.8zM280.0 418.9h.8v.8h-.8zM303.2 415.0h.8v.8h-.8zM291.1 415.2h.8v.8h-.8zM315.4 414.2h.8v.8h-.8zM305.3 412.7h.8v.8h-.8zM307.4 417.8h.8v.8h-.8zM306.4 412.2h.8v.8h-.8zM302.2 411.4h.8v.8h-.8zM298.4 417.3h.8v.8h-.8zM296.0 415.0h.8v.8h-.8zM312.1 411.8h.8v.8h-.8zM306.6 412.5h.8v.8h-.8zM291.2 416.8h.8v.8h-.8zM296.2 408.8h.8v.8h-.8zM290.4 415.5h.8v.8h-.8zM312.2 410.4h.8v.8h-.8zM300.7 417.0h.8v.8h-.8zM302.7 413.2h.8v.8h-.8zM315.3 416.3h.8v.8h-.8zM281.3 422.2h.8v.8h-.8zM305.7 417.1h.8v.8h-.8zM301.8 417.4h.8v.8h-.8zM317.4 417.1h.8v.8h-.8zM315.9 415.2h.8v.8h-.8zM308.7 416.3h.8v.8h-.8zM293.0 424.3h.8v.8h-.8zM302.7 415.5h.8v.8h-.8zM301.8 416.2h.8v.8h-.8zM283.4 419.3h.8v.8h-.8zM289.5 413.8h.8v.8h-.8zM284.2 412.4h.8v.8h-.8zM305.0 412.2h.8v.8h-.8zM299.6 414.4h.8v.8h-.8zM290.5 414.5h.8v.8h-.8zM290.0 416.0h.8v.8h-.8zM282.1 417.4h.8v.8h-.8zM308.8 417.2h.8v.8h-.8zM310.2 414.5h.8v.8h-.8zM292.9 419.5h.8v.8h-.8zM304.9 414.8h.8v.8h-.8zM290.8 418.2h.8v.8h-.8zM312.5 414.8h.8v.8h-.8zM298.9 417.0h.8v.8h-.8zM300.6 415.4h.8v.8h-.8zM307.6 414.5h.8v.8h-.8zM302.4 417.8h.8v.8h-.8zM284.4 409.3h.8v.8h-.8zM307.8 407.9h.8v.8h-.8zM306.8 397.0h.8v.8h-.8zM321.0 409.5h.8v.8h-.8zM324.8 387.5h.8v.8h-.8zM273.8 433.0h.8v.8h-.8zM303.7 416.8h.8v.8h-.8zM302.9 415.7h.8v.8h-.8zM308.0 404.2h.8v.8h-.8zM300.0 426.6h.8v.8h-.8zM302.5 408.9h.8v.8h-.8zM304.1 423.4h.8v.8h-.8zM296.7 414.0h.8v.8h-.8zM310.6 420.3h.8v.8h-.8zM325.9 408.3h.8v.8h-.8zM308.5 422.5h.8v.8h-.8zM267.8 423.1h.8v.8h-.8zM314.9 405.1h.8v.8h-.8zM309.9 408.5h.8v.8h-.8zM318.2 403.8h.8v.8h-.8zM310.9 406.4h.8v.8h-.8zM320.5 405.7h.8v.8h-.8zM312.5 403.9h.8v.8h-.8zM307.6 407.5h.8v.8h-.8zM312.0 407.0h.8v.8h-.8zM308.3 407.6h.8v.8h-.8zM314.1 402.0h.8v.8h-.8zM323.1 403.3h.8v.8h-.8zM314.4 402.7h.8v.8h-.8zM309.6 409.6h.8v.8h-.8zM315.0 400.0h.8v.8h-.8zM318.5 405.4h.8v.8h-.8zM314.9 402.9h.8v.8h-.8zM313.8 404.5h.8v.8h-.8zM316.9 408.5h.8v.8h-.8zM316.6 406.8h.8v.8h-.8zM311.1 404.6h.8v.8h-.8zM314.0 407.9h.8v.8h-.8zM319.3 403.5h.8v.8h-.8zM314.0 404.8h.8v.8h-.8zM306.1 409.0h.8v.8h-.8zM314.4 404.7h.8v.8h-.8zM311.2 403.0h.8v.8h-.8zM314.5 408.5h.8v.8h-.8zM313.6 407.2h.8v.8h-.8zM314.5 403.9h.8v.8h-.8zM313.5 404.1h.8v.8h-.8z" fill="#000" fill-opacity="0.8"/><line x1="313.7" y1="378" x2="313.7" y2="442.7" stroke="#e85a70" stroke-width="0.85"/><line x1="262.9" y1="405" x2="333.1" y2="405" stroke="#e85a70" stroke-width="0.85"/><rect x="259.8" y="378" width="3.1" height="67.5" fill="#f4f6ff"/><rect x="259.8" y="442.7" width="73.3" height="2.8" fill="#f4f6ff"/><path d="M259.8 379h3.1M259.8 380.05h3.1M259.8 381.1h3.1M259.8 382.15h3.1M259.8 383.2h3.1M259.8 384.25h3.1M259.8 385.3h3.1M259.8 386.35h3.1M259.8 387.4h3.1M259.8 388.45h3.1M259.8 389.5h3.1M259.8 390.55h3.1M259.8 391.6h3.1M259.8 392.65h3.1M259.8 393.7h3.1M259.8 394.75h3.1M259.8 395.8h3.1M259.8 396.85h3.1M259.8 397.9h3.1M259.8 398.95h3.1M259.8 400h3.1M259.8 401.05h3.1M259.8 402.1h3.1M259.8 403.15h3.1M259.8 404.2h3.1M259.8 405.25h3.1M259.8 406.3h3.1M259.8 407.35h3.1M259.8 408.4h3.1M259.8 409.45h3.1M259.8 410.5h3.1M259.8 411.55h3.1M259.8 412.6h3.1M259.8 413.65h3.1M259.8 414.7h3.1M259.8 415.75h3.1M259.8 416.8h3.1M259.8 417.85h3.1M259.8 418.9h3.1M259.8 419.95h3.1M259.8 421h3.1M259.8 422.05h3.1M259.8 423.1h3.1M259.8 424.15h3.1M259.8 425.2h3.1M259.8 426.25h3.1M259.8 427.3h3.1M259.8 428.35h3.1M259.8 429.4h3.1M259.8 430.45h3.1M259.8 431.5h3.1M259.8 432.55h3.1M259.8 433.6h3.1M259.8 434.65h3.1M259.8 435.7h3.1M259.8 436.75h3.1M259.8 437.8h3.1M259.8 438.85h3.1M259.8 439.9h3.1M259.8 440.95h3.1M259.8 442h3.1M263.7 442.7v2.8M264.75 442.7v2.8M265.8 442.7v2.8M266.85 442.7v2.8M267.9 442.7v2.8M268.95 442.7v2.8M270 442.7v2.8M271.05 442.7v2.8M272.1 442.7v2.8M273.15 442.7v2.8M274.2 442.7v2.8M275.25 442.7v2.8M276.3 442.7v2.8M277.35 442.7v2.8M278.4 442.7v2.8M279.45 442.7v2.8M280.5 442.7v2.8M281.55 442.7v2.8M282.6 442.7v2.8M283.65 442.7v2.8M284.7 442.7v2.8M285.75 442.7v2.8M286.8 442.7v2.8M287.85 442.7v2.8M288.9 442.7v2.8M289.95 442.7v2.8M291 442.7v2.8M292.05 442.7v2.8M293.1 442.7v2.8M294.15 442.7v2.8M295.2 442.7v2.8M296.25 442.7v2.8M297.3 442.7v2.8M298.35 442.7v2.8M299.4 442.7v2.8M300.45 442.7v2.8M301.5 442.7v2.8M302.55 442.7v2.8M303.6 442.7v2.8M304.65 442.7v2.8M305.7 442.7v2.8M306.75 442.7v2.8M307.8 442.7v2.8M308.85 442.7v2.8M309.9 442.7v2.8M310.95 442.7v2.8M312 442.7v2.8M313.05 442.7v2.8M314.1 442.7v2.8M315.15 442.7v2.8M316.2 442.7v2.8M317.25 442.7v2.8M318.3 442.7v2.8M319.35 442.7v2.8M320.4 442.7v2.8M321.45 442.7v2.8M322.5 442.7v2.8M323.55 442.7v2.8M324.6 442.7v2.8M325.65 442.7v2.8M326.7 442.7v2.8M327.75 442.7v2.8M328.8 442.7v2.8M329.85 442.7v2.8M330.9 442.7v2.8M331.95 442.7v2.8" stroke="#8a8aff" stroke-width="0.5" fill="none"/><path d="M259.8 380.4h3.1v1.6h-3.1zM263.1 442.7v2.8h1.6v-2.8zM259.8 388.72h3.1v1.6h-3.1zM272.59 442.7v2.8h1.6v-2.8zM259.8 397.03h3.1v1.6h-3.1zM282.09 442.7v2.8h1.6v-2.8zM259.8 405.35h3.1v1.6h-3.1zM291.58 442.7v2.8h1.6v-2.8zM259.8 413.66h3.1v1.6h-3.1zM301.07 442.7v2.8h1.6v-2.8zM259.8 421.98h3.1v1.6h-3.1zM310.57 442.7v2.8h1.6v-2.8zM259.8 430.29h3.1v1.6h-3.1zM320.06 442.7v2.8h1.6v-2.8zM259.8 438.61h3.1v1.6h-3.1zM329.55 442.7v2.8h1.6v-2.8z" fill="#2020ff"/><line x1="259.8" y1="378" x2="333.1" y2="378" stroke="#4a4aff" stroke-width="1"/><line x1="333.1" y1="378" x2="333.1" y2="445.5" stroke="#5a5aff" stroke-width="1"/><line x1="262.9" y1="442.7" x2="333.1" y2="442.7" stroke="#3a3aff" stroke-width="0.8"/><text x="255.6" y="443.21" font-size="4.2" font-weight="bold" text-anchor="middle" fill="#4a4aff" transform="rotate(-90 255.6 441.7)">10</text><text x="262.9" y="450.11" font-size="4.2" font-weight="bold" text-anchor="middle" fill="#4a4aff" transform="rotate(-45 262.9 448.6)">10</text><text x="255.6" y="434.5" font-size="4.2" font-weight="bold" text-anchor="middle" fill="#4a4aff" transform="rotate(-90 255.6 432.99)">10</text><text x="272.53" y="450.11" font-size="4.2" font-weight="bold" text-anchor="middle" fill="#4a4aff" transform="rotate(-45 272.53 448.6)">10</text><text x="255.6" y="425.8" font-size="4.2" font-weight="bold" text-anchor="middle" fill="#4a4aff" transform="rotate(-90 255.6 424.28)">10</text><text x="282.15" y="450.11" font-size="4.2" font-weight="bold" text-anchor="middle" fill="#4a4aff" transform="rotate(-45 282.15 448.6)">10</text><text x="255.6" y="417.09" font-size="4.2" font-weight="bold" text-anchor="middle" fill="#4a4aff" transform="rotate(-90 255.6 415.57)">10</text><text x="291.78" y="450.11" font-size="4.2" font-weight="bold" text-anchor="middle" fill="#4a4aff" transform="rotate(-45 291.78 448.6)">10</text><text x="255.6" y="408.38" font-size="4.2" font-weight="bold" text-anchor="middle" fill="#4a4aff" transform="rotate(-90 255.6 406.87)">10</text><text x="301.4" y="450.11" font-size="4.2" font-weight="bold" text-anchor="middle" fill="#4a4aff" transform="rotate(-45 301.4 448.6)">10</text><text x="255.6" y="399.67" font-size="4.2" font-weight="bold" text-anchor="middle" fill="#4a4aff" transform="rotate(-90 255.6 398.16)">10</text><text x="311.03" y="450.11" font-size="4.2" font-weight="bold" text-anchor="middle" fill="#4a4aff" transform="rotate(-45 311.03 448.6)">10</text><text x="255.6" y="390.96" font-size="4.2" font-weight="bold" text-anchor="middle" fill="#4a4aff" transform="rotate(-90 255.6 389.45)">10</text><text x="320.65" y="450.11" font-size="4.2" font-weight="bold" text-anchor="middle" fill="#4a4aff" transform="rotate(-45 320.65 448.6)">10</text><text x="255.6" y="382.25" font-size="4.2" font-weight="bold" text-anchor="middle" fill="#4a4aff" transform="rotate(-90 255.6 380.74)">10</text><text x="330.28" y="450.11" font-size="4.2" font-weight="bold" text-anchor="middle" fill="#4a4aff" transform="rotate(-45 330.28 448.6)">10</text><text x="249.4" y="421.71" font-size="4.6" font-weight="normal" text-anchor="middle" fill="#333" transform="rotate(-90 249.4 420.06)">PE-A</text><text x="297.95" y="456.16" font-size="4.6" font-weight="normal" text-anchor="middle" fill="#333">APC-A</text><text x="262.5" y="370.52" font-size="5.6" font-weight="normal" fill="#333">G01</text><text x="262.5" y="376.62" font-size="5.6" font-weight="normal" fill="#333">Gate: (P1 in all)</text><text x="263.4" y="383.72" font-size="5.6" font-weight="normal" fill="#e0203f">Q1-UL</text><text x="263.4" y="388.62" font-size="5.6" font-weight="normal" fill="#e0203f">1.4%</text><text x="315.5" y="383.72" font-size="5.6" font-weight="normal" fill="#e0203f">Q1-UR</text><text x="315.5" y="388.62" font-size="5.6" font-weight="normal" fill="#e0203f">0.7%</text><text x="263.4" y="437.42" font-size="5.6" font-weight="normal" fill="#e0203f">Q1-LL</text><text x="263.4" y="442.32" font-size="5.6" font-weight="normal" fill="#e0203f">97.2%</text><text x="315.5" y="437.42" font-size="5.6" font-weight="normal" fill="#e0203f">Q1-LR</text><text x="315.5" y="442.32" font-size="5.6" font-weight="normal" fill="#e0203f">0.7%</text><rect x="358" y="378" width="70.2" height="64.7" fill="#fff"/><ellipse cx="397.2" cy="414.8" rx="13.78" ry="6.08" transform="rotate(-15 397.2 414.8)" fill="#000" fill-opacity="0.22" filter="url(#sb2)"/><ellipse cx="397.2" cy="414.8" rx="9.03" ry="3.61" transform="rotate(-15 397.2 414.8)" fill="#000" filter="url(#sb1)"/><path d="M385.9 413.8h.8v.8h-.8zM387.1 415.4h.8v.8h-.8zM406.5 407.0h.8v.8h-.8zM405.2 416.9h.8v.8h-.8zM394.0 413.3h.8v.8h-.8zM401.7 417.7h.8v.8h-.8zM413.8 413.3h.8v.8h-.8zM408.5 410.3h.8v.8h-.8zM389.3 411.2h.8v.8h-.8zM388.4 415.9h.8v.8h-.8zM397.5 410.3h.8v.8h-.8zM403.1 412.9h.8v.8h-.8zM391.8 413.7h.8v.8h-.8zM412.2 411.4h.8v.8h-.8zM389.8 413.6h.8v.8h-.8zM410.2 409.4h.8v.8h-.8zM407.1 416.9h.8v.8h-.8zM381.3 423.6h.8v.8h-.8zM394.8 411.8h.8v.8h-.8zM393.7 417.6h.8v.8h-.8zM400.3 415.4h.8v.8h-.8zM392.9 420.2h.8v.8h-.8zM409.8 417.6h.8v.8h-.8zM406.1 418.7h.8v.8h-.8zM413.2 412.9h.8v.8h-.8zM404.2 414.9h.8v.8h-.8zM402.0 416.4h.8v.8h-.8zM384.4 417.2h.8v.8h-.8zM399.0 407.3h.8v.8h-.8zM387.9 422.6h.8v.8h-.8zM389.0 415.4h.8v.8h-.8zM399.6 412.6h.8v.8h-.8zM390.4 414.9h.8v.8h-.8zM393.6 413.8h.8v.8h-.8zM399.9 419.5h.8v.8h-.8zM401.2 419.2h.8v.8h-.8zM403.3 416.0h.8v.8h-.8zM401.3 412.7h.8v.8h-.8zM400.5 414.9h.8v.8h-.8zM389.7 419.3h.8v.8h-.8zM401.7 414.8h.8v.8h-.8zM390.9 407.7h.8v.8h-.8zM407.9 411.7h.8v.8h-.8zM381.8 421.1h.8v.8h-.8zM392.6 418.3h.8v.8h-.8zM397.4 418.5h.8v.8h-.8zM399.1 415.2h.8v.8h-.8zM399.3 418.3h.8v.8h-.8zM388.7 421.0h.8v.8h-.8zM401.8 411.7h.8v.8h-.8zM396.8 413.4h.8v.8h-.8zM398.4 417.6h.8v.8h-.8zM392.8 418.5h.8v.8h-.8zM404.6 414.9h.8v.8h-.8zM408.6 411.5h.8v.8h-.8zM404.4 421.2h.8v.8h-.8zM397.3 414.3h.8v.8h-.8zM397.7 416.6h.8v.8h-.8zM392.5 415.3h.8v.8h-.8zM383.4 415.0h.8v.8h-.8zM388.7 413.2h.8v.8h-.8zM394.5 417.8h.8v.8h-.8zM393.3 411.4h.8v.8h-.8zM399.1 414.9h.8v.8h-.8zM387.0 418.0h.8v.8h-.8zM388.8 414.9h.8v.8h-.8zM392.5 418.8h.8v.8h-.8zM390.9 415.4h.8v.8h-.8zM399.4 417.7h.8v.8h-.8zM405.0 409.3h.8v.8h-.8zM406.1 413.4h.8v.8h-.8zM406.8 415.7h.8v.8h-.8zM393.3 416.0h.8v.8h-.8zM395.3 416.5h.8v.8h-.8zM409.4 411.7h.8v.8h-.8zM394.4 424.0h.8v.8h-.8zM389.9 416.8h.8v.8h-.8zM396.0 410.9h.8v.8h-.8zM403.9 416.6h.8v.8h-.8zM396.6 415.1h.8v.8h-.8zM394.5 409.6h.8v.8h-.8zM397.9 410.4h.8v.8h-.8zM390.5 417.9h.8v.8h-.8zM403.3 410.3h.8v.8h-.8zM407.0 418.1h.8v.8h-.8zM398.4 414.2h.8v.8h-.8zM398.4 413.2h.8v.8h-.8zM391.5 418.5h.8v.8h-.8zM402.1 411.8h.8v.8h-.8zM393.7 413.7h.8v.8h-.8zM391.3 413.2h.8v.8h-.8zM386.9 420.6h.8v.8h-.8zM394.7 415.7h.8v.8h-.8zM409.9 409.8h.8v.8h-.8zM400.3 409.5h.8v.8h-.8zM393.2 418.2h.8v.8h-.8zM394.1 410.9h.8v.8h-.8zM386.2 418.8h.8v.8h-.8zM390.9 418.7h.8v.8h-.8zM398.9 413.3h.8v.8h-.8zM397.3 417.2h.8v.8h-.8zM396.6 411.8h.8v.8h-.8zM399.3 413.0h.8v.8h-.8zM395.9 417.0h.8v.8h-.8zM400.3 417.3h.8v.8h-.8zM395.4 413.7h.8v.8h-.8zM395.0 416.6h.8v.8h-.8zM391.0 415.2h.8v.8h-.8zM390.4 414.0h.8v.8h-.8zM397.8 422.5h.8v.8h-.8zM394.6 416.3h.8v.8h-.8zM397.7 414.1h.8v.8h-.8zM399.0 420.7h.8v.8h-.8zM396.6 420.2h.8v.8h-.8zM401.1 410.9h.8v.8h-.8zM392.1 414.6h.8v.8h-.8zM390.3 420.4h.8v.8h-.8zM400.6 415.6h.8v.8h-.8zM390.2 418.2h.8v.8h-.8zM395.3 423.2h.8v.8h-.8zM396.8 415.8h.8v.8h-.8zM399.8 412.6h.8v.8h-.8zM394.1 414.4h.8v.8h-.8zM402.7 410.9h.8v.8h-.8zM396.3 416.1h.8v.8h-.8zM393.2 411.4h.8v.8h-.8zM388.3 415.8h.8v.8h-.8zM391.0 419.6h.8v.8h-.8zM397.3 414.7h.8v.8h-.8zM390.4 418.3h.8v.8h-.8zM393.8 412.6h.8v.8h-.8zM394.5 423.2h.8v.8h-.8zM392.1 413.3h.8v.8h-.8zM405.9 414.8h.8v.8h-.8zM396.2 419.5h.8v.8h-.8zM386.3 416.1h.8v.8h-.8zM386.5 422.1h.8v.8h-.8zM399.5 422.5h.8v.8h-.8zM400.7 415.3h.8v.8h-.8zM388.0 413.3h.8v.8h-.8zM394.2 418.4h.8v.8h-.8zM387.6 409.5h.8v.8h-.8zM403.6 415.9h.8v.8h-.8zM390.6 417.8h.8v.8h-.8zM405.6 416.1h.8v.8h-.8zM385.5 417.9h.8v.8h-.8zM391.8 419.1h.8v.8h-.8zM396.2 410.9h.8v.8h-.8zM397.7 416.3h.8v.8h-.8zM384.2 413.5h.8v.8h-.8zM391.3 415.0h.8v.8h-.8zM390.8 410.2h.8v.8h-.8zM385.0 417.5h.8v.8h-.8zM398.5 411.2h.8v.8h-.8zM399.0 420.1h.8v.8h-.8zM394.4 413.7h.8v.8h-.8zM391.7 417.5h.8v.8h-.8zM398.3 415.0h.8v.8h-.8zM394.1 416.7h.8v.8h-.8zM399.4 413.5h.8v.8h-.8zM403.6 407.8h.8v.8h-.8zM401.7 413.0h.8v.8h-.8zM404.3 418.9h.8v.8h-.8zM397.0 414.1h.8v.8h-.8zM397.8 419.0h.8v.8h-.8zM408.1 412.3h.8v.8h-.8zM403.1 419.0h.8v.8h-.8zM399.7 409.2h.8v.8h-.8zM390.8 414.9h.8v.8h-.8zM399.5 412.3h.8v.8h-.8zM406.8 410.7h.8v.8h-.8zM408.0 409.8h.8v.8h-.8zM407.1 412.8h.8v.8h-.8zM409.2 418.1h.8v.8h-.8zM410.9 414.6h.8v.8h-.8zM391.3 413.8h.8v.8h-.8zM375.7 425.5h.8v.8h-.8zM407.5 415.5h.8v.8h-.8zM391.6 425.5h.8v.8h-.8zM393.4 418.8h.8v.8h-.8zM385.4 416.1h.8v.8h-.8zM407.4 415.7h.8v.8h-.8zM389.8 416.7h.8v.8h-.8zM404.3 407.0h.8v.8h-.8zM402.0 408.6h.8v.8h-.8zM402.0 412.8h.8v.8h-.8zM404.3 411.3h.8v.8h-.8zM394.7 414.4h.8v.8h-.8zM390.2 415.8h.8v.8h-.8zM389.5 415.0h.8v.8h-.8zM402.0 412.5h.8v.8h-.8zM405.7 414.9h.8v.8h-.8zM402.3 409.7h.8v.8h-.8zM401.4 418.5h.8v.8h-.8zM404.9 416.8h.8v.8h-.8zM407.1 407.1h.8v.8h-.8zM401.9 415.4h.8v.8h-.8zM394.7 411.1h.8v.8h-.8zM398.2 414.0h.8v.8h-.8zM412.6 415.1h.8v.8h-.8zM393.4 412.3h.8v.8h-.8zM391.0 416.3h.8v.8h-.8zM393.6 422.4h.8v.8h-.8zM388.5 416.9h.8v.8h-.8zM398.7 415.8h.8v.8h-.8zM390.3 415.9h.8v.8h-.8zM398.9 415.5h.8v.8h-.8zM392.8 415.0h.8v.8h-.8zM400.6 420.3h.8v.8h-.8zM389.2 419.3h.8v.8h-.8zM419.2 397.2h.8v.8h-.8zM423.3 420.3h.8v.8h-.8zM401.1 422.5h.8v.8h-.8zM420.8 407.7h.8v.8h-.8zM399.5 405.5h.8v.8h-.8zM387.9 418.5h.8v.8h-.8zM400.6 428.4h.8v.8h-.8zM392.6 406.3h.8v.8h-.8zM414.4 418.8h.8v.8h-.8zM404.6 412.4h.8v.8h-.8zM385.2 413.2h.8v.8h-.8zM424.0 415.1h.8v.8h-.8zM401.3 418.1h.8v.8h-.8zM391.5 409.2h.8v.8h-.8zM391.3 416.7h.8v.8h-.8zM370.2 410.3h.8v.8h-.8zM405.2 404.1h.8v.8h-.8zM414.2 398.6h.8v.8h-.8zM406.7 401.0h.8v.8h-.8zM409.7 400.7h.8v.8h-.8zM407.5 401.7h.8v.8h-.8zM421.7 398.2h.8v.8h-.8zM409.4 402.3h.8v.8h-.8zM416.7 402.5h.8v.8h-.8zM412.1 398.0h.8v.8h-.8zM417.3 402.4h.8v.8h-.8zM416.0 401.7h.8v.8h-.8zM413.6 404.2h.8v.8h-.8zM411.9 404.5h.8v.8h-.8zM410.2 402.2h.8v.8h-.8zM410.2 401.8h.8v.8h-.8zM411.0 404.3h.8v.8h-.8zM418.4 398.2h.8v.8h-.8zM409.0 406.1h.8v.8h-.8zM411.3 403.2h.8v.8h-.8zM413.7 403.5h.8v.8h-.8zM409.6 405.7h.8v.8h-.8zM414.1 396.7h.8v.8h-.8zM411.5 401.7h.8v.8h-.8zM414.0 401.4h.8v.8h-.8zM409.0 402.7h.8v.8h-.8zM413.9 401.6h.8v.8h-.8zM413.4 406.4h.8v.8h-.8zM413.8 399.2h.8v.8h-.8zM413.1 402.5h.8v.8h-.8zM408.4 403.9h.8v.8h-.8zM407.3 399.4h.8v.8h-.8zM414.3 402.7h.8v.8h-.8zM414.9 400.8h.8v.8h-.8zM410.1 403.5h.8v.8h-.8zM414.9 403.1h.8v.8h-.8zM418.6 401.4h.8v.8h-.8zM410.0 403.0h.8v.8h-.8zM407.1 405.7h.8v.8h-.8zM415.7 403.3h.8v.8h-.8zM415.6 404.2h.8v.8h-.8zM409.8 403.9h.8v.8h-.8zM411.3 402.1h.8v.8h-.8zM404.6 403.6h.8v.8h-.8zM404.0 404.8h.8v.8h-.8zM409.6 403.5h.8v.8h-.8zM404.4 404.1h.8v.8h-.8zM409.6 398.3h.8v.8h-.8zM419.4 400.3h.8v.8h-.8zM410.5 406.8h.8v.8h-.8zM416.0 395.3h.8v.8h-.8zM410.5 401.4h.8v.8h-.8zM411.7 400.3h.8v.8h-.8zM411.2 402.7h.8v.8h-.8zM401.9 406.4h.8v.8h-.8zM418.1 400.0h.8v.8h-.8zM418.1 403.1h.8v.8h-.8zM413.7 402.3h.8v.8h-.8zM413.6 400.7h.8v.8h-.8zM422.1 399.2h.8v.8h-.8zM415.4 402.9h.8v.8h-.8zM417.5 397.2h.8v.8h-.8zM408.2 404.1h.8v.8h-.8zM413.7 399.0h.8v.8h-.8zM407.2 405.8h.8v.8h-.8zM415.1 400.4h.8v.8h-.8zM410.7 401.4h.8v.8h-.8zM406.8 402.4h.8v.8h-.8zM412.8 401.5h.8v.8h-.8zM415.2 398.0h.8v.8h-.8zM405.5 405.9h.8v.8h-.8zM408.0 403.1h.8v.8h-.8zM411.3 399.7h.8v.8h-.8zM405.9 405.1h.8v.8h-.8zM401.2 407.7h.8v.8h-.8zM405.2 406.5h.8v.8h-.8zM413.4 402.0h.8v.8h-.8zM414.1 401.5h.8v.8h-.8zM406.9 405.9h.8v.8h-.8zM412.9 402.7h.8v.8h-.8zM411.3 401.8h.8v.8h-.8zM416.5 402.3h.8v.8h-.8zM412.1 399.5h.8v.8h-.8zM407.4 401.8h.8v.8h-.8zM417.1 401.2h.8v.8h-.8zM412.3 401.7h.8v.8h-.8zM409.7 404.8h.8v.8h-.8zM407.3 402.3h.8v.8h-.8zM416.3 401.9h.8v.8h-.8zM411.1 399.9h.8v.8h-.8zM407.7 405.8h.8v.8h-.8z" fill="#000" fill-opacity="0.8"/><line x1="408.6" y1="378" x2="408.6" y2="442.7" stroke="#e85a70" stroke-width="0.85"/><line x1="358" y1="405" x2="428.2" y2="405" stroke="#e85a70" stroke-width="0.85"/><rect x="354.9" y="378" width="3.1" height="67.5" fill="#f4f6ff"/><rect x="354.9" y="442.7" width="73.3" height="2.8" fill="#f4f6ff"/><path d="M354.9 379h3.1M354.9 380.05h3.1M354.9 381.1h3.1M354.9 382.15h3.1M354.9 383.2h3.1M354.9 384.25h3.1M354.9 385.3h3.1M354.9 386.35h3.1M354.9 387.4h3.1M354.9 388.45h3.1M354.9 389.5h3.1M354.9 390.55h3.1M354.9 391.6h3.1M354.9 392.65h3.1M354.9 393.7h3.1M354.9 394.75h3.1M354.9 395.8h3.1M354.9 396.85h3.1M354.9 397.9h3.1M354.9 398.95h3.1M354.9 400h3.1M354.9 401.05h3.1M354.9 402.1h3.1M354.9 403.15h3.1M354.9 404.2h3.1M354.9 405.25h3.1M354.9 406.3h3.1M354.9 407.35h3.1M354.9 408.4h3.1M354.9 409.45h3.1M354.9 410.5h3.1M354.9 411.55h3.1M354.9 412.6h3.1M354.9 413.65h3.1M354.9 414.7h3.1M354.9 415.75h3.1M354.9 416.8h3.1M354.9 417.85h3.1M354.9 418.9h3.1M354.9 419.95h3.1M354.9 421h3.1M354.9 422.05h3.1M354.9 423.1h3.1M354.9 424.15h3.1M354.9 425.2h3.1M354.9 426.25h3.1M354.9 427.3h3.1M354.9 428.35h3.1M354.9 429.4h3.1M354.9 430.45h3.1M354.9 431.5h3.1M354.9 432.55h3.1M354.9 433.6h3.1M354.9 434.65h3.1M354.9 435.7h3.1M354.9 436.75h3.1M354.9 437.8h3.1M354.9 438.85h3.1M354.9 439.9h3.1M354.9 440.95h3.1M354.9 442h3.1M358.8 442.7v2.8M359.85 442.7v2.8M360.9 442.7v2.8M361.95 442.7v2.8M363 442.7v2.8M364.05 442.7v2.8M365.1 442.7v2.8M366.15 442.7v2.8M367.2 442.7v2.8M368.25 442.7v2.8M369.3 442.7v2.8M370.35 442.7v2.8M371.4 442.7v2.8M372.45 442.7v2.8M373.5 442.7v2.8M374.55 442.7v2.8M375.6 442.7v2.8M376.65 442.7v2.8M377.7 442.7v2.8M378.75 442.7v2.8M379.8 442.7v2.8M380.85 442.7v2.8M381.9 442.7v2.8M382.95 442.7v2.8M384 442.7v2.8M385.05 442.7v2.8M386.1 442.7v2.8M387.15 442.7v2.8M388.2 442.7v2.8M389.25 442.7v2.8M390.3 442.7v2.8M391.35 442.7v2.8M392.4 442.7v2.8M393.45 442.7v2.8M394.5 442.7v2.8M395.55 442.7v2.8M396.6 442.7v2.8M397.65 442.7v2.8M398.7 442.7v2.8M399.75 442.7v2.8M400.8 442.7v2.8M401.85 442.7v2.8M402.9 442.7v2.8M403.95 442.7v2.8M405 442.7v2.8M406.05 442.7v2.8M407.1 442.7v2.8M408.15 442.7v2.8M409.2 442.7v2.8M410.25 442.7v2.8M411.3 442.7v2.8M412.35 442.7v2.8M413.4 442.7v2.8M414.45 442.7v2.8M415.5 442.7v2.8M416.55 442.7v2.8M417.6 442.7v2.8M418.65 442.7v2.8M419.7 442.7v2.8M420.75 442.7v2.8M421.8 442.7v2.8M422.85 442.7v2.8M423.9 442.7v2.8M424.95 442.7v2.8M426 442.7v2.8M427.05 442.7v2.8" stroke="#8a8aff" stroke-width="0.5" fill="none"/><path d="M354.9 380.4h3.1v1.6h-3.1zM358.2 442.7v2.8h1.6v-2.8zM354.9 388.72h3.1v1.6h-3.1zM367.69 442.7v2.8h1.6v-2.8zM354.9 397.03h3.1v1.6h-3.1zM377.19 442.7v2.8h1.6v-2.8zM354.9 405.35h3.1v1.6h-3.1zM386.68 442.7v2.8h1.6v-2.8zM354.9 413.66h3.1v1.6h-3.1zM396.17 442.7v2.8h1.6v-2.8zM354.9 421.98h3.1v1.6h-3.1zM405.67 442.7v2.8h1.6v-2.8zM354.9 430.29h3.1v1.6h-3.1zM415.16 442.7v2.8h1.6v-2.8zM354.9 438.61h3.1v1.6h-3.1zM424.65 442.7v2.8h1.6v-2.8z" fill="#2020ff"/><line x1="354.9" y1="378" x2="428.2" y2="378" stroke="#4a4aff" stroke-width="1"/><line x1="428.2" y1="378" x2="428.2" y2="445.5" stroke="#5a5aff" stroke-width="1"/><line x1="358" y1="442.7" x2="428.2" y2="442.7" stroke="#3a3aff" stroke-width="0.8"/><text x="350.7" y="443.21" font-size="4.2" font-weight="bold" text-anchor="middle" fill="#4a4aff" transform="rotate(-90 350.7 441.7)">10</text><text x="358" y="450.11" font-size="4.2" font-weight="bold" text-anchor="middle" fill="#4a4aff" transform="rotate(-45 358 448.6)">10</text><text x="350.7" y="434.5" font-size="4.2" font-weight="bold" text-anchor="middle" fill="#4a4aff" transform="rotate(-90 350.7 432.99)">10</text><text x="367.62" y="450.11" font-size="4.2" font-weight="bold" text-anchor="middle" fill="#4a4aff" transform="rotate(-45 367.62 448.6)">10</text><text x="350.7" y="425.8" font-size="4.2" font-weight="bold" text-anchor="middle" fill="#4a4aff" transform="rotate(-90 350.7 424.28)">10</text><text x="377.25" y="450.11" font-size="4.2" font-weight="bold" text-anchor="middle" fill="#4a4aff" transform="rotate(-45 377.25 448.6)">10</text><text x="350.7" y="417.09" font-size="4.2" font-weight="bold" text-anchor="middle" fill="#4a4aff" transform="rotate(-90 350.7 415.57)">10</text><text x="386.88" y="450.11" font-size="4.2" font-weight="bold" text-anchor="middle" fill="#4a4aff" transform="rotate(-45 386.88 448.6)">10</text><text x="350.7" y="408.38" font-size="4.2" font-weight="bold" text-anchor="middle" fill="#4a4aff" transform="rotate(-90 350.7 406.87)">10</text><text x="396.5" y="450.11" font-size="4.2" font-weight="bold" text-anchor="middle" fill="#4a4aff" transform="rotate(-45 396.5 448.6)">10</text><text x="350.7" y="399.67" font-size="4.2" font-weight="bold" text-anchor="middle" fill="#4a4aff" transform="rotate(-90 350.7 398.16)">10</text><text x="406.12" y="450.11" font-size="4.2" font-weight="bold" text-anchor="middle" fill="#4a4aff" transform="rotate(-45 406.12 448.6)">10</text><text x="350.7" y="390.96" font-size="4.2" font-weight="bold" text-anchor="middle" fill="#4a4aff" transform="rotate(-90 350.7 389.45)">10</text><text x="415.75" y="450.11" font-size="4.2" font-weight="bold" text-anchor="middle" fill="#4a4aff" transform="rotate(-45 415.75 448.6)">10</text><text x="350.7" y="382.25" font-size="4.2" font-weight="bold" text-anchor="middle" fill="#4a4aff" transform="rotate(-90 350.7 380.74)">10</text><text x="425.38" y="450.11" font-size="4.2" font-weight="bold" text-anchor="middle" fill="#4a4aff" transform="rotate(-45 425.38 448.6)">10</text><text x="344.5" y="421.71" font-size="4.6" font-weight="normal" text-anchor="middle" fill="#333" transform="rotate(-90 344.5 420.06)">PE-A</text><text x="393.05" y="456.16" font-size="4.6" font-weight="normal" text-anchor="middle" fill="#333">APC-A</text><text x="357.6" y="370.52" font-size="5.6" font-weight="normal" fill="#333">D03</text><text x="357.6" y="376.62" font-size="5.6" font-weight="normal" fill="#333">Gate: (P1 in all)</text><text x="358.5" y="383.72" font-size="5.6" font-weight="normal" fill="#e0203f">Q1-UL</text><text x="358.5" y="388.62" font-size="5.6" font-weight="normal" fill="#e0203f">1.8%</text><text x="410.6" y="383.72" font-size="5.6" font-weight="normal" fill="#e0203f">Q1-UR</text><text x="410.6" y="388.62" font-size="5.6" font-weight="normal" fill="#e0203f">7.4%</text><text x="358.5" y="437.42" font-size="5.6" font-weight="normal" fill="#e0203f">Q1-LL</text><text x="358.5" y="442.32" font-size="5.6" font-weight="normal" fill="#e0203f">85.7%</text><text x="410.6" y="437.42" font-size="5.6" font-weight="normal" fill="#e0203f">Q1-LR</text><text x="410.6" y="442.32" font-size="5.6" font-weight="normal" fill="#e0203f">5.1%</text><rect x="453.4" y="378" width="70.2" height="64.7" fill="#fff"/><ellipse cx="492.4" cy="413.6" rx="15.95" ry="7.68" transform="rotate(-22 492.4 413.6)" fill="#000" fill-opacity="0.22" filter="url(#sb2)"/><ellipse cx="492.4" cy="413.6" rx="10.45" ry="4.56" transform="rotate(-22 492.4 413.6)" fill="#000" filter="url(#sb1)"/><path d="M497.2 412.6h.8v.8h-.8zM488.4 405.0h.8v.8h-.8zM492.7 404.1h.8v.8h-.8zM500.8 412.9h.8v.8h-.8zM500.4 414.0h.8v.8h-.8zM494.0 410.6h.8v.8h-.8zM492.2 420.3h.8v.8h-.8zM487.3 414.7h.8v.8h-.8zM485.7 414.0h.8v.8h-.8zM490.3 415.6h.8v.8h-.8zM489.5 413.2h.8v.8h-.8zM487.5 416.0h.8v.8h-.8zM481.5 418.2h.8v.8h-.8zM501.9 406.4h.8v.8h-.8zM496.3 424.4h.8v.8h-.8zM481.8 410.7h.8v.8h-.8zM491.7 421.8h.8v.8h-.8zM507.1 402.3h.8v.8h-.8zM497.1 411.7h.8v.8h-.8zM484.6 408.2h.8v.8h-.8zM499.4 407.0h.8v.8h-.8zM495.0 412.9h.8v.8h-.8zM509.5 411.9h.8v.8h-.8zM482.6 416.4h.8v.8h-.8zM498.8 405.1h.8v.8h-.8zM489.5 415.8h.8v.8h-.8zM477.3 414.3h.8v.8h-.8zM478.9 420.3h.8v.8h-.8zM489.2 419.0h.8v.8h-.8zM494.2 415.4h.8v.8h-.8zM492.9 416.7h.8v.8h-.8zM490.1 410.2h.8v.8h-.8zM503.5 413.4h.8v.8h-.8zM510.7 405.6h.8v.8h-.8zM485.5 410.0h.8v.8h-.8zM458.9 421.4h.8v.8h-.8zM495.0 408.6h.8v.8h-.8zM472.2 424.5h.8v.8h-.8zM487.0 414.2h.8v.8h-.8zM488.7 414.5h.8v.8h-.8zM493.6 405.5h.8v.8h-.8zM489.8 412.4h.8v.8h-.8zM500.1 405.9h.8v.8h-.8zM506.7 410.5h.8v.8h-.8zM504.6 405.6h.8v.8h-.8zM499.5 412.3h.8v.8h-.8zM479.8 417.6h.8v.8h-.8zM487.2 411.4h.8v.8h-.8zM483.9 410.7h.8v.8h-.8zM489.1 416.4h.8v.8h-.8zM483.7 410.3h.8v.8h-.8zM500.4 408.8h.8v.8h-.8zM492.3 412.6h.8v.8h-.8zM488.9 417.7h.8v.8h-.8zM488.1 415.5h.8v.8h-.8zM478.1 412.2h.8v.8h-.8zM492.1 422.1h.8v.8h-.8zM496.8 420.3h.8v.8h-.8zM496.8 413.8h.8v.8h-.8zM487.6 415.4h.8v.8h-.8zM508.8 412.2h.8v.8h-.8zM486.6 413.9h.8v.8h-.8zM502.5 407.2h.8v.8h-.8zM498.5 407.1h.8v.8h-.8zM499.9 417.3h.8v.8h-.8zM499.6 411.8h.8v.8h-.8zM493.4 412.8h.8v.8h-.8zM494.0 418.1h.8v.8h-.8zM502.4 411.3h.8v.8h-.8zM481.3 415.8h.8v.8h-.8zM494.9 412.8h.8v.8h-.8zM482.4 420.6h.8v.8h-.8zM511.7 400.4h.8v.8h-.8zM495.4 419.5h.8v.8h-.8zM488.4 413.4h.8v.8h-.8zM494.7 415.2h.8v.8h-.8zM490.5 418.7h.8v.8h-.8zM477.9 422.4h.8v.8h-.8zM495.2 411.8h.8v.8h-.8zM495.6 412.5h.8v.8h-.8zM502.5 407.5h.8v.8h-.8zM489.9 408.5h.8v.8h-.8zM482.9 416.4h.8v.8h-.8zM478.4 415.5h.8v.8h-.8zM480.8 416.1h.8v.8h-.8zM494.8 416.8h.8v.8h-.8zM476.3 419.2h.8v.8h-.8zM501.6 416.0h.8v.8h-.8zM501.7 403.5h.8v.8h-.8zM489.1 417.4h.8v.8h-.8zM500.5 411.6h.8v.8h-.8zM494.9 413.6h.8v.8h-.8zM486.4 416.7h.8v.8h-.8zM498.5 409.6h.8v.8h-.8zM497.6 399.0h.8v.8h-.8zM492.3 421.1h.8v.8h-.8zM501.7 416.2h.8v.8h-.8zM491.8 408.6h.8v.8h-.8zM490.6 421.0h.8v.8h-.8zM476.0 416.0h.8v.8h-.8zM477.6 417.2h.8v.8h-.8zM489.8 417.2h.8v.8h-.8zM488.3 422.8h.8v.8h-.8zM497.0 409.7h.8v.8h-.8zM482.0 411.2h.8v.8h-.8zM496.4 420.7h.8v.8h-.8zM489.5 410.2h.8v.8h-.8zM491.2 411.8h.8v.8h-.8zM482.2 409.4h.8v.8h-.8zM494.2 419.4h.8v.8h-.8zM504.0 413.3h.8v.8h-.8zM494.9 414.7h.8v.8h-.8zM500.6 410.1h.8v.8h-.8zM494.2 411.2h.8v.8h-.8zM500.3 406.4h.8v.8h-.8zM499.4 414.6h.8v.8h-.8zM500.4 413.5h.8v.8h-.8zM487.8 413.0h.8v.8h-.8zM488.6 413.5h.8v.8h-.8zM482.6 415.6h.8v.8h-.8zM485.9 412.1h.8v.8h-.8zM494.3 409.5h.8v.8h-.8zM496.8 418.4h.8v.8h-.8zM506.3 408.1h.8v.8h-.8zM501.3 411.2h.8v.8h-.8zM514.6 412.0h.8v.8h-.8zM501.5 409.3h.8v.8h-.8zM491.4 416.5h.8v.8h-.8zM491.9 412.8h.8v.8h-.8zM496.4 406.6h.8v.8h-.8zM474.6 416.4h.8v.8h-.8zM483.0 417.1h.8v.8h-.8zM485.1 415.7h.8v.8h-.8zM478.2 425.9h.8v.8h-.8zM494.4 409.0h.8v.8h-.8zM497.0 417.2h.8v.8h-.8zM499.3 410.5h.8v.8h-.8zM498.9 414.9h.8v.8h-.8zM480.4 412.1h.8v.8h-.8zM489.1 419.3h.8v.8h-.8zM504.8 409.2h.8v.8h-.8zM506.4 412.4h.8v.8h-.8zM490.8 411.0h.8v.8h-.8zM487.4 416.0h.8v.8h-.8zM505.3 412.1h.8v.8h-.8zM479.9 413.3h.8v.8h-.8zM499.5 411.7h.8v.8h-.8zM485.8 419.3h.8v.8h-.8zM505.0 412.1h.8v.8h-.8zM495.5 418.3h.8v.8h-.8zM488.5 412.6h.8v.8h-.8zM487.9 423.9h.8v.8h-.8zM509.9 406.4h.8v.8h-.8zM498.1 413.4h.8v.8h-.8zM502.1 415.0h.8v.8h-.8zM498.0 411.0h.8v.8h-.8zM486.8 411.4h.8v.8h-.8zM471.0 421.9h.8v.8h-.8zM485.8 416.5h.8v.8h-.8zM490.2 410.0h.8v.8h-.8zM489.1 416.8h.8v.8h-.8zM492.6 409.7h.8v.8h-.8zM487.3 418.3h.8v.8h-.8zM495.0 414.0h.8v.8h-.8zM492.4 417.0h.8v.8h-.8zM497.2 422.9h.8v.8h-.8zM487.6 412.5h.8v.8h-.8zM506.0 407.9h.8v.8h-.8zM486.9 417.8h.8v.8h-.8zM474.3 423.0h.8v.8h-.8zM493.1 414.6h.8v.8h-.8zM488.0 421.3h.8v.8h-.8zM495.1 412.5h.8v.8h-.8zM494.2 409.2h.8v.8h-.8zM489.2 408.3h.8v.8h-.8zM483.9 418.4h.8v.8h-.8zM494.6 416.0h.8v.8h-.8zM486.9 415.4h.8v.8h-.8zM487.3 416.8h.8v.8h-.8zM500.5 415.1h.8v.8h-.8zM495.9 408.7h.8v.8h-.8zM492.6 409.0h.8v.8h-.8zM477.0 420.6h.8v.8h-.8zM494.2 416.1h.8v.8h-.8zM497.2 406.2h.8v.8h-.8zM484.9 416.6h.8v.8h-.8zM493.5 414.9h.8v.8h-.8zM481.2 416.9h.8v.8h-.8zM500.4 418.6h.8v.8h-.8zM484.5 423.9h.8v.8h-.8zM487.7 409.1h.8v.8h-.8zM501.5 405.2h.8v.8h-.8zM483.8 420.2h.8v.8h-.8zM500.8 410.4h.8v.8h-.8zM484.0 410.3h.8v.8h-.8zM489.5 404.4h.8v.8h-.8zM481.9 422.4h.8v.8h-.8zM499.0 416.2h.8v.8h-.8zM493.7 407.9h.8v.8h-.8zM493.1 405.2h.8v.8h-.8zM499.8 416.4h.8v.8h-.8zM485.4 420.8h.8v.8h-.8zM492.1 412.8h.8v.8h-.8zM475.6 419.5h.8v.8h-.8zM496.4 404.2h.8v.8h-.8zM486.9 412.5h.8v.8h-.8zM480.3 422.9h.8v.8h-.8zM492.2 413.7h.8v.8h-.8zM498.8 407.5h.8v.8h-.8zM517.8 401.1h.8v.8h-.8zM483.4 419.8h.8v.8h-.8zM493.7 408.7h.8v.8h-.8zM486.0 419.7h.8v.8h-.8zM495.2 414.2h.8v.8h-.8zM498.4 408.4h.8v.8h-.8zM502.6 409.6h.8v.8h-.8zM496.8 407.8h.8v.8h-.8zM498.9 412.2h.8v.8h-.8zM512.4 404.9h.8v.8h-.8zM505.9 411.0h.8v.8h-.8zM505.6 409.3h.8v.8h-.8zM493.1 403.6h.8v.8h-.8zM483.7 421.8h.8v.8h-.8zM497.2 415.1h.8v.8h-.8zM491.6 417.4h.8v.8h-.8zM489.6 414.6h.8v.8h-.8zM504.1 413.7h.8v.8h-.8zM489.1 415.2h.8v.8h-.8zM494.3 412.3h.8v.8h-.8zM490.3 410.4h.8v.8h-.8zM498.5 399.5h.8v.8h-.8zM481.1 432.8h.8v.8h-.8zM496.8 405.9h.8v.8h-.8zM511.7 423.6h.8v.8h-.8zM493.2 408.9h.8v.8h-.8zM457.3 408.8h.8v.8h-.8zM516.7 387.3h.8v.8h-.8zM480.0 415.4h.8v.8h-.8zM491.8 399.3h.8v.8h-.8zM504.7 415.3h.8v.8h-.8zM491.4 407.0h.8v.8h-.8zM478.5 397.4h.8v.8h-.8zM501.2 404.1h.8v.8h-.8zM468.6 422.8h.8v.8h-.8zM502.3 413.6h.8v.8h-.8zM507.7 420.6h.8v.8h-.8zM483.9 419.1h.8v.8h-.8zM508.9 400.3h.8v.8h-.8zM513.2 401.0h.8v.8h-.8zM510.2 403.5h.8v.8h-.8zM506.1 406.3h.8v.8h-.8zM513.1 402.1h.8v.8h-.8zM497.8 410.7h.8v.8h-.8zM507.8 402.4h.8v.8h-.8zM505.6 402.4h.8v.8h-.8zM507.8 405.2h.8v.8h-.8zM504.4 405.6h.8v.8h-.8zM506.2 403.9h.8v.8h-.8zM507.5 404.6h.8v.8h-.8zM513.1 401.7h.8v.8h-.8zM513.7 404.7h.8v.8h-.8zM503.4 407.3h.8v.8h-.8zM507.5 403.5h.8v.8h-.8zM512.8 401.3h.8v.8h-.8zM507.2 406.8h.8v.8h-.8zM513.6 402.4h.8v.8h-.8zM520.0 396.9h.8v.8h-.8zM502.0 405.7h.8v.8h-.8zM504.5 406.0h.8v.8h-.8zM506.1 403.3h.8v.8h-.8zM508.4 401.8h.8v.8h-.8zM500.4 405.2h.8v.8h-.8zM512.1 402.7h.8v.8h-.8zM514.1 405.0h.8v.8h-.8zM512.6 401.8h.8v.8h-.8zM506.2 405.5h.8v.8h-.8zM516.8 403.4h.8v.8h-.8zM512.3 400.4h.8v.8h-.8zM512.0 403.7h.8v.8h-.8zM513.2 399.0h.8v.8h-.8zM506.2 404.8h.8v.8h-.8zM509.1 402.1h.8v.8h-.8zM510.9 402.0h.8v.8h-.8zM513.3 400.7h.8v.8h-.8zM508.3 399.2h.8v.8h-.8zM509.4 401.8h.8v.8h-.8zM511.8 401.9h.8v.8h-.8zM513.7 400.4h.8v.8h-.8zM503.2 406.2h.8v.8h-.8zM510.9 401.1h.8v.8h-.8zM504.2 407.0h.8v.8h-.8zM513.9 403.0h.8v.8h-.8zM509.4 403.3h.8v.8h-.8zM516.4 402.2h.8v.8h-.8zM504.4 402.9h.8v.8h-.8zM512.2 403.7h.8v.8h-.8zM505.9 403.0h.8v.8h-.8zM512.8 401.2h.8v.8h-.8zM511.7 400.0h.8v.8h-.8zM503.6 401.9h.8v.8h-.8zM508.6 402.7h.8v.8h-.8zM502.1 406.5h.8v.8h-.8zM506.6 403.9h.8v.8h-.8zM515.6 402.9h.8v.8h-.8zM510.8 402.0h.8v.8h-.8zM503.6 404.2h.8v.8h-.8zM508.4 406.4h.8v.8h-.8z" fill="#000" fill-opacity="0.8"/><line x1="503.5" y1="378" x2="503.5" y2="442.7" stroke="#e85a70" stroke-width="0.85"/><line x1="453.4" y1="405" x2="523.6" y2="405" stroke="#e85a70" stroke-width="0.85"/><rect x="450.3" y="378" width="3.1" height="67.5" fill="#f4f6ff"/><rect x="450.3" y="442.7" width="73.3" height="2.8" fill="#f4f6ff"/><path d="M450.3 379h3.1M450.3 380.05h3.1M450.3 381.1h3.1M450.3 382.15h3.1M450.3 383.2h3.1M450.3 384.25h3.1M450.3 385.3h3.1M450.3 386.35h3.1M450.3 387.4h3.1M450.3 388.45h3.1M450.3 389.5h3.1M450.3 390.55h3.1M450.3 391.6h3.1M450.3 392.65h3.1M450.3 393.7h3.1M450.3 394.75h3.1M450.3 395.8h3.1M450.3 396.85h3.1M450.3 397.9h3.1M450.3 398.95h3.1M450.3 400h3.1M450.3 401.05h3.1M450.3 402.1h3.1M450.3 403.15h3.1M450.3 404.2h3.1M450.3 405.25h3.1M450.3 406.3h3.1M450.3 407.35h3.1M450.3 408.4h3.1M450.3 409.45h3.1M450.3 410.5h3.1M450.3 411.55h3.1M450.3 412.6h3.1M450.3 413.65h3.1M450.3 414.7h3.1M450.3 415.75h3.1M450.3 416.8h3.1M450.3 417.85h3.1M450.3 418.9h3.1M450.3 419.95h3.1M450.3 421h3.1M450.3 422.05h3.1M450.3 423.1h3.1M450.3 424.15h3.1M450.3 425.2h3.1M450.3 426.25h3.1M450.3 427.3h3.1M450.3 428.35h3.1M450.3 429.4h3.1M450.3 430.45h3.1M450.3 431.5h3.1M450.3 432.55h3.1M450.3 433.6h3.1M450.3 434.65h3.1M450.3 435.7h3.1M450.3 436.75h3.1M450.3 437.8h3.1M450.3 438.85h3.1M450.3 439.9h3.1M450.3 440.95h3.1M450.3 442h3.1M454.2 442.7v2.8M455.25 442.7v2.8M456.3 442.7v2.8M457.35 442.7v2.8M458.4 442.7v2.8M459.45 442.7v2.8M460.5 442.7v2.8M461.55 442.7v2.8M462.6 442.7v2.8M463.65 442.7v2.8M464.7 442.7v2.8M465.75 442.7v2.8M466.8 442.7v2.8M467.85 442.7v2.8M468.9 442.7v2.8M469.95 442.7v2.8M471 442.7v2.8M472.05 442.7v2.8M473.1 442.7v2.8M474.15 442.7v2.8M475.2 442.7v2.8M476.25 442.7v2.8M477.3 442.7v2.8M478.35 442.7v2.8M479.4 442.7v2.8M480.45 442.7v2.8M481.5 442.7v2.8M482.55 442.7v2.8M483.6 442.7v2.8M484.65 442.7v2.8M485.7 442.7v2.8M486.75 442.7v2.8M487.8 442.7v2.8M488.85 442.7v2.8M489.9 442.7v2.8M490.95 442.7v2.8M492 442.7v2.8M493.05 442.7v2.8M494.1 442.7v2.8M495.15 442.7v2.8M496.2 442.7v2.8M497.25 442.7v2.8M498.3 442.7v2.8M499.35 442.7v2.8M500.4 442.7v2.8M501.45 442.7v2.8M502.5 442.7v2.8M503.55 442.7v2.8M504.6 442.7v2.8M505.65 442.7v2.8M506.7 442.7v2.8M507.75 442.7v2.8M508.8 442.7v2.8M509.85 442.7v2.8M510.9 442.7v2.8M511.95 442.7v2.8M513 442.7v2.8M514.05 442.7v2.8M515.1 442.7v2.8M516.15 442.7v2.8M517.2 442.7v2.8M518.25 442.7v2.8M519.3 442.7v2.8M520.35 442.7v2.8M521.4 442.7v2.8M522.45 442.7v2.8" stroke="#8a8aff" stroke-width="0.5" fill="none"/><path d="M450.3 380.4h3.1v1.6h-3.1zM453.6 442.7v2.8h1.6v-2.8zM450.3 388.72h3.1v1.6h-3.1zM463.09 442.7v2.8h1.6v-2.8zM450.3 397.03h3.1v1.6h-3.1zM472.59 442.7v2.8h1.6v-2.8zM450.3 405.35h3.1v1.6h-3.1zM482.08 442.7v2.8h1.6v-2.8zM450.3 413.66h3.1v1.6h-3.1zM491.57 442.7v2.8h1.6v-2.8zM450.3 421.98h3.1v1.6h-3.1zM501.07 442.7v2.8h1.6v-2.8zM450.3 430.29h3.1v1.6h-3.1zM510.56 442.7v2.8h1.6v-2.8zM450.3 438.61h3.1v1.6h-3.1zM520.05 442.7v2.8h1.6v-2.8z" fill="#2020ff"/><line x1="450.3" y1="378" x2="523.6" y2="378" stroke="#4a4aff" stroke-width="1"/><line x1="523.6" y1="378" x2="523.6" y2="445.5" stroke="#5a5aff" stroke-width="1"/><line x1="453.4" y1="442.7" x2="523.6" y2="442.7" stroke="#3a3aff" stroke-width="0.8"/><text x="446.1" y="443.21" font-size="4.2" font-weight="bold" text-anchor="middle" fill="#4a4aff" transform="rotate(-90 446.1 441.7)">10</text><text x="453.4" y="450.11" font-size="4.2" font-weight="bold" text-anchor="middle" fill="#4a4aff" transform="rotate(-45 453.4 448.6)">10</text><text x="446.1" y="434.5" font-size="4.2" font-weight="bold" text-anchor="middle" fill="#4a4aff" transform="rotate(-90 446.1 432.99)">10</text><text x="463.03" y="450.11" font-size="4.2" font-weight="bold" text-anchor="middle" fill="#4a4aff" transform="rotate(-45 463.03 448.6)">10</text><text x="446.1" y="425.8" font-size="4.2" font-weight="bold" text-anchor="middle" fill="#4a4aff" transform="rotate(-90 446.1 424.28)">10</text><text x="472.65" y="450.11" font-size="4.2" font-weight="bold" text-anchor="middle" fill="#4a4aff" transform="rotate(-45 472.65 448.6)">10</text><text x="446.1" y="417.09" font-size="4.2" font-weight="bold" text-anchor="middle" fill="#4a4aff" transform="rotate(-90 446.1 415.57)">10</text><text x="482.28" y="450.11" font-size="4.2" font-weight="bold" text-anchor="middle" fill="#4a4aff" transform="rotate(-45 482.28 448.6)">10</text><text x="446.1" y="408.38" font-size="4.2" font-weight="bold" text-anchor="middle" fill="#4a4aff" transform="rotate(-90 446.1 406.87)">10</text><text x="491.9" y="450.11" font-size="4.2" font-weight="bold" text-anchor="middle" fill="#4a4aff" transform="rotate(-45 491.9 448.6)">10</text><text x="446.1" y="399.67" font-size="4.2" font-weight="bold" text-anchor="middle" fill="#4a4aff" transform="rotate(-90 446.1 398.16)">10</text><text x="501.53" y="450.11" font-size="4.2" font-weight="bold" text-anchor="middle" fill="#4a4aff" transform="rotate(-45 501.53 448.6)">10</text><text x="446.1" y="390.96" font-size="4.2" font-weight="bold" text-anchor="middle" fill="#4a4aff" transform="rotate(-90 446.1 389.45)">10</text><text x="511.15" y="450.11" font-size="4.2" font-weight="bold" text-anchor="middle" fill="#4a4aff" transform="rotate(-45 511.15 448.6)">10</text><text x="446.1" y="382.25" font-size="4.2" font-weight="bold" text-anchor="middle" fill="#4a4aff" transform="rotate(-90 446.1 380.74)">10</text><text x="520.78" y="450.11" font-size="4.2" font-weight="bold" text-anchor="middle" fill="#4a4aff" transform="rotate(-45 520.78 448.6)">10</text><text x="439.9" y="421.71" font-size="4.6" font-weight="normal" text-anchor="middle" fill="#333" transform="rotate(-90 439.9 420.06)">PE-A</text><text x="488.45" y="456.16" font-size="4.6" font-weight="normal" text-anchor="middle" fill="#333">APC-A</text><text x="453" y="370.52" font-size="5.6" font-weight="normal" fill="#333">C02</text><text x="453" y="376.62" font-size="5.6" font-weight="normal" fill="#333">Gate: (P1 in all)</text><text x="453.9" y="383.72" font-size="5.6" font-weight="normal" fill="#e0203f">Q1-UL</text><text x="453.9" y="388.62" font-size="5.6" font-weight="normal" fill="#e0203f">1.0%</text><text x="506" y="383.72" font-size="5.6" font-weight="normal" fill="#e0203f">Q1-UR</text><text x="506" y="388.62" font-size="5.6" font-weight="normal" fill="#e0203f">2.9%</text><text x="453.9" y="437.42" font-size="5.6" font-weight="normal" fill="#e0203f">Q1-LL</text><text x="453.9" y="442.32" font-size="5.6" font-weight="normal" fill="#e0203f">92.0%</text><text x="506" y="437.42" font-size="5.6" font-weight="normal" fill="#e0203f">Q1-LR</text><text x="506" y="442.32" font-size="5.6" font-weight="normal" fill="#e0203f">4.1%</text><text x="620.5" y="260.49" font-size="7.2" font-weight="bold" text-anchor="middle">A549</text><line x1="567.3" y1="273.5" x2="567.3" y2="345" stroke="#222" stroke-width="0.9"/><line x1="564.7" y1="344.6" x2="567.3" y2="344.6" stroke="#222" stroke-width="0.9"/><text x="563.7" y="346.69" font-size="5.8" font-weight="bold" text-anchor="end">0</text><line x1="564.7" y1="330.46" x2="567.3" y2="330.46" stroke="#222" stroke-width="0.9"/><text x="563.7" y="332.55" font-size="5.8" font-weight="bold" text-anchor="end">2</text><line x1="564.7" y1="316.32" x2="567.3" y2="316.32" stroke="#222" stroke-width="0.9"/><text x="563.7" y="318.41" font-size="5.8" font-weight="bold" text-anchor="end">4</text><line x1="564.7" y1="302.18" x2="567.3" y2="302.18" stroke="#222" stroke-width="0.9"/><text x="563.7" y="304.27" font-size="5.8" font-weight="bold" text-anchor="end">6</text><line x1="564.7" y1="288.04" x2="567.3" y2="288.04" stroke="#222" stroke-width="0.9"/><text x="563.7" y="290.13" font-size="5.8" font-weight="bold" text-anchor="end">8</text><line x1="564.7" y1="273.9" x2="567.3" y2="273.9" stroke="#222" stroke-width="0.9"/><text x="563.7" y="275.99" font-size="5.8" font-weight="bold" text-anchor="end">10</text><line x1="567.3" y1="344.6" x2="674.8" y2="344.6" stroke="#222" stroke-width="0.9"/><line x1="585.45" y1="312.43" x2="585.45" y2="314.2" stroke="#555" stroke-width="0.9"/><line x1="581.45" y1="312.43" x2="589.45" y2="312.43" stroke="#555" stroke-width="0.9"/><rect x="576.4" y="314.2" width="18.1" height="30.4" fill="#000" stroke="#222" stroke-width="0.6"/><line x1="585.45" y1="344.6" x2="585.45" y2="346.6" stroke="#222" stroke-width="0.9"/><line x1="612.05" y1="332.58" x2="612.05" y2="334.35" stroke="#555" stroke-width="0.9"/><line x1="608.05" y1="332.58" x2="616.05" y2="332.58" stroke="#555" stroke-width="0.9"/><rect x="603.1" y="334.35" width="17.9" height="10.25" fill="#4a32ff" stroke="#222" stroke-width="0.6"/><line x1="612.05" y1="344.6" x2="612.05" y2="346.6" stroke="#222" stroke-width="0.9"/><line x1="638.95" y1="280.26" x2="638.95" y2="286.27" stroke="#555" stroke-width="0.9"/><line x1="634.95" y1="280.26" x2="642.95" y2="280.26" stroke="#555" stroke-width="0.9"/><rect x="630.2" y="286.27" width="17.5" height="58.33" fill="#2e6e48" stroke="#222" stroke-width="0.6"/><line x1="638.95" y1="344.6" x2="638.95" y2="346.6" stroke="#222" stroke-width="0.9"/><line x1="665.55" y1="310.31" x2="665.55" y2="312.79" stroke="#555" stroke-width="0.9"/><line x1="661.55" y1="310.31" x2="669.55" y2="310.31" stroke="#555" stroke-width="0.9"/><rect x="656.7" y="312.79" width="17.7" height="31.81" fill="#d246f5" stroke="#222" stroke-width="0.6"/><line x1="665.55" y1="344.6" x2="665.55" y2="346.6" stroke="#222" stroke-width="0.9"/><line x1="585.4" y1="295.3" x2="612.6" y2="295.3" stroke="#000" stroke-width="1.05"/><path d="M595 290.43L595.51 291.47L596.66 291.63L595.83 292.45L596.03 293.59L595 293.05L593.97 293.59L594.17 292.45L593.34 291.63L594.49 291.47ZM599 290.43L599.51 291.47L600.66 291.63L599.83 292.45L600.03 293.59L599 293.05L597.97 293.59L598.17 292.45L597.34 291.63L598.49 291.47ZM603 290.43L603.51 291.47L604.66 291.63L603.83 292.45L604.03 293.59L603 293.05L601.97 293.59L602.17 292.45L601.34 291.63L602.49 291.47Z" fill="#000"/><line x1="585.4" y1="274.2" x2="639.3" y2="274.2" stroke="#000" stroke-width="1.05"/><path d="M609.5 269.62L610.01 270.67L611.16 270.83L610.33 271.65L610.53 272.79L609.5 272.25L608.47 272.79L608.67 271.65L607.84 270.83L608.99 270.67ZM613.5 269.62L614.01 270.67L615.16 270.83L614.33 271.65L614.53 272.79L613.5 272.25L612.47 272.79L612.67 271.65L611.84 270.83L612.99 270.67Z" fill="#000"/><line x1="612.6" y1="267" x2="666.9" y2="267" stroke="#000" stroke-width="1.05"/><path d="M634.6 262.43L635.11 263.47L636.26 263.63L635.43 264.45L635.63 265.59L634.6 265.05L633.57 265.59L633.77 264.45L632.94 263.63L634.09 263.47ZM638.6 262.43L639.11 263.47L640.26 263.63L639.43 264.45L639.63 265.59L638.6 265.05L637.57 265.59L637.77 264.45L636.94 263.63L638.09 263.47ZM642.6 262.43L643.11 263.47L644.26 263.63L643.43 264.45L643.63 265.59L642.6 265.05L641.57 265.59L641.77 264.45L640.94 263.63L642.09 263.47Z" fill="#000"/><line x1="640.9" y1="276" x2="667.6" y2="276" stroke="#000" stroke-width="1.05"/><path d="M651.3 271.23L651.81 272.27L652.96 272.43L652.13 273.25L652.33 274.39L651.3 273.85L650.27 274.39L650.47 273.25L649.64 272.43L650.79 272.27ZM655.3 271.23L655.81 272.27L656.96 272.43L656.13 273.25L656.33 274.39L655.3 273.85L654.27 274.39L654.47 273.25L653.64 272.43L654.79 272.27Z" fill="#000"/><text x="552.6" y="311.68" font-size="6.6" font-weight="bold" text-anchor="middle" transform="rotate(-90 552.6 309.3)">Apoptosis (%)</text><text x="564.6" y="359.18" font-size="6.6" font-weight="bold" text-anchor="end">MAT1A</text><text x="564.8" y="371.08" font-size="6.6" font-weight="bold" text-anchor="end">shCCND1</text><text x="585.4" y="358.92" font-size="7" font-weight="bold" text-anchor="middle">-</text><text x="585.4" y="370.92" font-size="7" font-weight="bold" text-anchor="middle">-</text><text x="612.6" y="358.92" font-size="7" font-weight="bold" text-anchor="middle">+</text><text x="612.6" y="370.92" font-size="7" font-weight="bold" text-anchor="middle">-</text><text x="638.6" y="358.92" font-size="7" font-weight="bold" text-anchor="middle">-</text><text x="638.6" y="370.92" font-size="7" font-weight="bold" text-anchor="middle">+</text><text x="665.5" y="358.92" font-size="7" font-weight="bold" text-anchor="middle">+</text><text x="665.5" y="370.92" font-size="7" font-weight="bold" text-anchor="middle">+</text><text x="623.2" y="383.39" font-size="7.2" font-weight="bold" text-anchor="middle">NCI-H1299</text><line x1="564.4" y1="384.99" x2="564.4" y2="453.6" stroke="#222" stroke-width="0.9"/><line x1="561.8" y1="453.2" x2="564.4" y2="453.2" stroke="#222" stroke-width="0.9"/><text x="560.8" y="455.29" font-size="5.8" font-weight="bold" text-anchor="end">0</text><line x1="561.8" y1="441.9" x2="564.4" y2="441.9" stroke="#222" stroke-width="0.9"/><text x="560.8" y="443.99" font-size="5.8" font-weight="bold" text-anchor="end">3</text><line x1="561.8" y1="430.6" x2="564.4" y2="430.6" stroke="#222" stroke-width="0.9"/><text x="560.8" y="432.69" font-size="5.8" font-weight="bold" text-anchor="end">6</text><line x1="561.8" y1="419.3" x2="564.4" y2="419.3" stroke="#222" stroke-width="0.9"/><text x="560.8" y="421.38" font-size="5.8" font-weight="bold" text-anchor="end">9</text><line x1="561.8" y1="408" x2="564.4" y2="408" stroke="#222" stroke-width="0.9"/><text x="560.8" y="410.08" font-size="5.8" font-weight="bold" text-anchor="end">12</text><line x1="561.8" y1="396.69" x2="564.4" y2="396.69" stroke="#222" stroke-width="0.9"/><text x="560.8" y="398.78" font-size="5.8" font-weight="bold" text-anchor="end">15</text><line x1="561.8" y1="385.39" x2="564.4" y2="385.39" stroke="#222" stroke-width="0.9"/><text x="560.8" y="387.48" font-size="5.8" font-weight="bold" text-anchor="end">18</text><line x1="564.4" y1="453.2" x2="677.5" y2="453.2" stroke="#222" stroke-width="0.9"/><line x1="582.6" y1="439.45" x2="582.6" y2="441.15" stroke="#555" stroke-width="0.9"/><line x1="578.6" y1="439.45" x2="586.6" y2="439.45" stroke="#555" stroke-width="0.9"/><rect x="574.1" y="441.15" width="17" height="12.05" fill="#000" stroke="#222" stroke-width="0.6"/><line x1="582.6" y1="453.2" x2="582.6" y2="455.2" stroke="#222" stroke-width="0.9"/><line x1="608.4" y1="445.48" x2="608.4" y2="447.17" stroke="#555" stroke-width="0.9"/><line x1="604.4" y1="445.48" x2="612.4" y2="445.48" stroke="#555" stroke-width="0.9"/><rect x="599.7" y="447.17" width="17.4" height="6.03" fill="#4a32ff" stroke="#222" stroke-width="0.6"/><line x1="608.4" y1="453.2" x2="608.4" y2="455.2" stroke="#222" stroke-width="0.9"/><line x1="634.45" y1="401.4" x2="634.45" y2="404.61" stroke="#555" stroke-width="0.9"/><line x1="630.45" y1="401.4" x2="638.45" y2="401.4" stroke="#555" stroke-width="0.9"/><rect x="626.2" y="404.61" width="16.5" height="48.59" fill="#2e6e48" stroke="#222" stroke-width="0.6"/><line x1="634.45" y1="453.2" x2="634.45" y2="455.2" stroke="#222" stroke-width="0.9"/><line x1="660" y1="426.83" x2="660" y2="430.6" stroke="#555" stroke-width="0.9"/><line x1="656" y1="426.83" x2="664" y2="426.83" stroke="#555" stroke-width="0.9"/><rect x="651.5" y="430.6" width="17" height="22.6" fill="#d246f5" stroke="#222" stroke-width="0.6"/><line x1="660" y1="453.2" x2="660" y2="455.2" stroke="#222" stroke-width="0.9"/><line x1="582.5" y1="423.4" x2="608.8" y2="423.4" stroke="#000" stroke-width="1.05"/><path d="M595.65 418.82L596.16 419.87L597.31 420.03L596.48 420.85L596.68 421.99L595.65 421.45L594.62 421.99L594.82 420.85L593.99 420.03L595.14 419.87Z" fill="#000"/><line x1="582.5" y1="400.7" x2="634.1" y2="400.7" stroke="#333" stroke-width="1.05"/><path d="M603 396.43L603.51 397.47L604.66 397.63L603.83 398.45L604.03 399.59L603 399.05L601.97 399.59L602.17 398.45L601.34 397.63L602.49 397.47ZM607 396.43L607.51 397.47L608.66 397.63L607.83 398.45L608.03 399.59L607 399.05L605.97 399.59L606.17 398.45L605.34 397.63L606.49 397.47ZM611 396.43L611.51 397.47L612.66 397.63L611.83 398.45L612.03 399.59L611 399.05L609.97 399.59L610.17 398.45L609.34 397.63L610.49 397.47Z" fill="#333"/><line x1="608.8" y1="391" x2="660.8" y2="391" stroke="#000" stroke-width="1.05"/><path d="M629.8 386.43L630.31 387.47L631.46 387.63L630.63 388.45L630.83 389.59L629.8 389.05L628.77 389.59L628.97 388.45L628.14 387.63L629.29 387.47ZM633.8 386.43L634.31 387.47L635.46 387.63L634.63 388.45L634.83 389.59L633.8 389.05L632.77 389.59L632.97 388.45L632.14 387.63L633.29 387.47Z" fill="#000"/><line x1="635.2" y1="398.5" x2="660.8" y2="398.5" stroke="#000" stroke-width="1.05"/><path d="M643.7 394.03L644.21 395.07L645.36 395.23L644.53 396.05L644.73 397.19L643.7 396.65L642.67 397.19L642.87 396.05L642.04 395.23L643.19 395.07ZM647.7 394.03L648.21 395.07L649.36 395.23L648.53 396.05L648.73 397.19L647.7 396.65L646.67 397.19L646.87 396.05L646.04 395.23L647.19 395.07ZM651.7 394.03L652.21 395.07L653.36 395.23L652.53 396.05L652.73 397.19L651.7 396.65L650.67 397.19L650.87 396.05L650.04 395.23L651.19 395.07Z" fill="#000"/><text x="551.5" y="421.68" font-size="6.6" font-weight="bold" text-anchor="middle" transform="rotate(-90 551.5 419.3)">Apoptosis (%)</text><text x="561.4" y="470.3" font-size="6.4" font-weight="bold" text-anchor="end">MAT1A</text><text x="561.6" y="482.2" font-size="6.4" font-weight="bold" text-anchor="end">shCCND1</text><text x="582.5" y="470.72" font-size="7" font-weight="bold" text-anchor="middle">-</text><text x="582.5" y="482.12" font-size="7" font-weight="bold" text-anchor="middle">-</text><text x="608" y="470.72" font-size="7" font-weight="bold" text-anchor="middle">+</text><text x="608" y="482.12" font-size="7" font-weight="bold" text-anchor="middle">-</text><text x="632.5" y="470.72" font-size="7" font-weight="bold" text-anchor="middle">-</text><text x="632.5" y="482.12" font-size="7" font-weight="bold" text-anchor="middle">+</text><text x="657.8" y="470.72" font-size="7" font-weight="bold" text-anchor="middle">+</text><text x="657.8" y="482.12" font-size="7" font-weight="bold" text-anchor="middle">+</text><text x="2.6" y="483.7" font-size="12.3" font-weight="bold">G</text><text x="29.8" y="484.61" font-size="7.8" font-weight="bold" text-anchor="middle">NC</text><text x="85.8" y="484.61" font-size="7.8" font-weight="bold" text-anchor="middle">shCCND1</text><text x="143.7" y="484.61" font-size="7.8" font-weight="bold" text-anchor="middle">MAT1A</text><text x="202.15" y="484.61" font-size="7.8" font-weight="bold" text-anchor="middle">MAT1A+shCCND1</text><text x="259.3" y="484.61" font-size="7.8" font-weight="bold" text-anchor="middle">NC</text><text x="315.4" y="484.61" font-size="7.8" font-weight="bold" text-anchor="middle">shCCND1</text><text x="373.9" y="484.61" font-size="7.8" font-weight="bold" text-anchor="middle">MAT1A</text><text x="431.9" y="484.61" font-size="7.8" font-weight="bold" text-anchor="middle">MAT1A+shCCND1</text><rect x="2.1" y="489.6" width="54.7" height="54.6" fill="#000"/><rect x="2.1" y="489.6" width="54.7" height="54.6" filter="url(#g00)"/><rect x="15.8" y="489.6" width="20.4" height="54.6" fill="#040a04"/><line x1="15.8" y1="489.6" x2="15.8" y2="544.2" stroke="#e8e8e8" stroke-width="0.7" stroke-dasharray="0.8 1.0"/><line x1="36.2" y1="489.6" x2="36.2" y2="544.2" stroke="#e8e8e8" stroke-width="0.7" stroke-dasharray="0.8 1.0"/><text x="26" y="514.7" font-size="5" font-weight="normal" text-anchor="middle" fill="#d8d8d8">38.8</text><rect x="59.4" y="489.6" width="54.7" height="54.6" fill="#000"/><rect x="59.4" y="489.6" width="54.7" height="54.6" filter="url(#g01)"/><rect x="73.4" y="489.6" width="23.1" height="54.6" fill="#040a04"/><line x1="73.4" y1="489.6" x2="73.4" y2="544.2" stroke="#e8e8e8" stroke-width="0.7" stroke-dasharray="0.8 1.0"/><line x1="96.5" y1="489.6" x2="96.5" y2="544.2" stroke="#e8e8e8" stroke-width="0.7" stroke-dasharray="0.8 1.0"/><text x="84.95" y="514.7" font-size="5" font-weight="normal" text-anchor="middle" fill="#d8d8d8">40.3</text><rect x="116" y="489.6" width="54.7" height="54.6" fill="#000"/><rect x="116" y="489.6" width="54.7" height="54.6" filter="url(#g02)"/><rect x="129.5" y="489.6" width="22.2" height="54.6" fill="#040a04"/><line x1="129.5" y1="489.6" x2="129.5" y2="544.2" stroke="#e8e8e8" stroke-width="0.7" stroke-dasharray="0.8 1.0"/><line x1="151.7" y1="489.6" x2="151.7" y2="544.2" stroke="#e8e8e8" stroke-width="0.7" stroke-dasharray="0.8 1.0"/><text x="140.6" y="514.7" font-size="5" font-weight="normal" text-anchor="middle" fill="#d8d8d8">39.8</text><rect x="173.1" y="489.6" width="54.7" height="54.6" fill="#000"/><rect x="173.1" y="489.6" width="54.7" height="54.6" filter="url(#g03)"/><rect x="186.6" y="489.6" width="23.9" height="54.6" fill="#040a04"/><line x1="186.6" y1="489.6" x2="186.6" y2="544.2" stroke="#e8e8e8" stroke-width="0.7" stroke-dasharray="0.8 1.0"/><line x1="210.5" y1="489.6" x2="210.5" y2="544.2" stroke="#e8e8e8" stroke-width="0.7" stroke-dasharray="0.8 1.0"/><text x="198.55" y="514.7" font-size="5" font-weight="normal" text-anchor="middle" fill="#d8d8d8">44.2</text><rect x="230.3" y="489.6" width="54.7" height="54.6" fill="#000"/><rect x="230.3" y="489.6" width="54.7" height="54.6" filter="url(#g04)"/><rect x="243.2" y="489.6" width="24.5" height="54.6" fill="#040a04"/><line x1="243.2" y1="489.6" x2="243.2" y2="544.2" stroke="#e8e8e8" stroke-width="0.7" stroke-dasharray="0.8 1.0"/><line x1="267.7" y1="489.6" x2="267.7" y2="544.2" stroke="#e8e8e8" stroke-width="0.7" stroke-dasharray="0.8 1.0"/><text x="255.45" y="514.7" font-size="5" font-weight="normal" text-anchor="middle" fill="#d8d8d8">47.2</text><rect x="287" y="489.6" width="54.7" height="54.6" fill="#000"/><rect x="287" y="489.6" width="54.7" height="54.6" filter="url(#g05)"/><rect x="299.3" y="489.6" width="23.8" height="54.6" fill="#040a04"/><line x1="299.3" y1="489.6" x2="299.3" y2="544.2" stroke="#e8e8e8" stroke-width="0.7" stroke-dasharray="0.8 1.0"/><line x1="323.1" y1="489.6" x2="323.1" y2="544.2" stroke="#e8e8e8" stroke-width="0.7" stroke-dasharray="0.8 1.0"/><text x="311.2" y="514.7" font-size="5" font-weight="normal" text-anchor="middle" fill="#d8d8d8">46.7</text><rect x="343.1" y="489.6" width="54.7" height="54.6" fill="#000"/><rect x="343.1" y="489.6" width="54.7" height="54.6" filter="url(#g06)"/><rect x="352.9" y="489.6" width="26.3" height="54.6" fill="#040a04"/><line x1="352.9" y1="489.6" x2="352.9" y2="544.2" stroke="#e8e8e8" stroke-width="0.7" stroke-dasharray="0.8 1.0"/><line x1="379.2" y1="489.6" x2="379.2" y2="544.2" stroke="#e8e8e8" stroke-width="0.7" stroke-dasharray="0.8 1.0"/><text x="366.05" y="514.7" font-size="5" font-weight="normal" text-anchor="middle" fill="#d8d8d8">51.0</text><rect x="399.1" y="489.6" width="54.7" height="54.6" fill="#000"/><rect x="399.1" y="489.6" width="54.7" height="54.6" filter="url(#g07)"/><rect x="410" y="489.6" width="28" height="54.6" fill="#040a04"/><line x1="410" y1="489.6" x2="410" y2="544.2" stroke="#e8e8e8" stroke-width="0.7" stroke-dasharray="0.8 1.0"/><line x1="438" y1="489.6" x2="438" y2="544.2" stroke="#e8e8e8" stroke-width="0.7" stroke-dasharray="0.8 1.0"/><text x="424" y="514.7" font-size="5" font-weight="normal" text-anchor="middle" fill="#d8d8d8">52.3</text><rect x="2.1" y="545.9" width="54.7" height="54.5" fill="#000"/><rect x="2.1" y="545.9" width="54.7" height="54.5" filter="url(#g10)"/><rect x="20.1" y="545.9" width="10.8" height="54.5" fill="#0a1e0a"/><line x1="20.1" y1="545.9" x2="20.1" y2="600.4" stroke="#e8e8e8" stroke-width="0.7" stroke-dasharray="0.8 1.0"/><line x1="30.9" y1="545.9" x2="30.9" y2="600.4" stroke="#e8e8e8" stroke-width="0.7" stroke-dasharray="0.8 1.0"/><text x="25.5" y="571" font-size="5" font-weight="normal" text-anchor="middle" fill="#d8d8d8">16.9</text><rect x="59.4" y="545.9" width="54.7" height="54.5" fill="#000"/><rect x="59.4" y="545.9" width="54.7" height="54.5" filter="url(#g11)"/><rect x="82.5" y="545.9" width="5.9" height="54.5" fill="#0a1e0a"/><line x1="82.5" y1="545.9" x2="82.5" y2="600.4" stroke="#e8e8e8" stroke-width="0.7" stroke-dasharray="0.8 1.0"/><line x1="88.4" y1="545.9" x2="88.4" y2="600.4" stroke="#e8e8e8" stroke-width="0.7" stroke-dasharray="0.8 1.0"/><text x="85.45" y="571" font-size="5" font-weight="normal" text-anchor="middle" fill="#d8d8d8">11.1</text><rect x="116" y="545.9" width="54.7" height="54.5" fill="#000"/><rect x="116" y="545.9" width="54.7" height="54.5" filter="url(#g12)"/><rect x="133.5" y="545.9" width="11.7" height="54.5" fill="#0a1e0a"/><line x1="133.5" y1="545.9" x2="133.5" y2="600.4" stroke="#e8e8e8" stroke-width="0.7" stroke-dasharray="0.8 1.0"/><line x1="145.2" y1="545.9" x2="145.2" y2="600.4" stroke="#e8e8e8" stroke-width="0.7" stroke-dasharray="0.8 1.0"/><text x="139.35" y="571" font-size="5" font-weight="normal" text-anchor="middle" fill="#d8d8d8">23.8</text><rect x="173.1" y="545.9" width="54.7" height="54.5" fill="#000"/><rect x="173.1" y="545.9" width="54.7" height="54.5" filter="url(#g13)"/><rect x="193.8" y="545.9" width="9.1" height="54.5" fill="#0a1e0a"/><line x1="193.8" y1="545.9" x2="193.8" y2="600.4" stroke="#e8e8e8" stroke-width="0.7" stroke-dasharray="0.8 1.0"/><line x1="202.9" y1="545.9" x2="202.9" y2="600.4" stroke="#e8e8e8" stroke-width="0.7" stroke-dasharray="0.8 1.0"/><text x="198.35" y="571" font-size="5" font-weight="normal" text-anchor="middle" fill="#d8d8d8">18.7</text><rect x="230.3" y="545.9" width="54.7" height="54.5" fill="#000"/><rect x="230.3" y="545.9" width="54.7" height="54.5" filter="url(#g14)"/><rect x="251.6" y="545.9" width="10.2" height="54.5" fill="#0a1e0a"/><line x1="251.6" y1="545.9" x2="251.6" y2="600.4" stroke="#e8e8e8" stroke-width="0.7" stroke-dasharray="0.8 1.0"/><line x1="261.8" y1="545.9" x2="261.8" y2="600.4" stroke="#e8e8e8" stroke-width="0.7" stroke-dasharray="0.8 1.0"/><text x="256.7" y="571" font-size="5" font-weight="normal" text-anchor="middle" fill="#d8d8d8">19.4</text><rect x="287" y="545.9" width="54.7" height="54.5" fill="#000"/><rect x="287" y="545.9" width="54.7" height="54.5" filter="url(#g15)"/><rect x="310.5" y="545.9" width="5.5" height="54.5" fill="#0a1e0a"/><line x1="310.5" y1="545.9" x2="310.5" y2="600.4" stroke="#e8e8e8" stroke-width="0.7" stroke-dasharray="0.8 1.0"/><line x1="316" y1="545.9" x2="316" y2="600.4" stroke="#e8e8e8" stroke-width="0.7" stroke-dasharray="0.8 1.0"/><text x="313.25" y="571" font-size="5" font-weight="normal" text-anchor="middle" fill="#d8d8d8">8.0</text><rect x="343.1" y="545.9" width="54.7" height="54.5" fill="#000"/><rect x="343.1" y="545.9" width="54.7" height="54.5" filter="url(#g16)"/><rect x="359.7" y="545.9" width="17.7" height="54.5" fill="#0a1e0a"/><line x1="359.7" y1="545.9" x2="359.7" y2="600.4" stroke="#e8e8e8" stroke-width="0.7" stroke-dasharray="0.8 1.0"/><line x1="377.4" y1="545.9" x2="377.4" y2="600.4" stroke="#e8e8e8" stroke-width="0.7" stroke-dasharray="0.8 1.0"/><text x="368.55" y="571" font-size="5" font-weight="normal" text-anchor="middle" fill="#d8d8d8">32.1</text><rect x="399.1" y="545.9" width="54.7" height="54.5" fill="#000"/><rect x="399.1" y="545.9" width="54.7" height="54.5" filter="url(#g17)"/><rect x="417.7" y="545.9" width="14.8" height="54.5" fill="#0a1e0a"/><line x1="417.7" y1="545.9" x2="417.7" y2="600.4" stroke="#e8e8e8" stroke-width="0.7" stroke-dasharray="0.8 1.0"/><line x1="432.5" y1="545.9" x2="432.5" y2="600.4" stroke="#e8e8e8" stroke-width="0.7" stroke-dasharray="0.8 1.0"/><text x="425.1" y="571" font-size="5" font-weight="normal" text-anchor="middle" fill="#d8d8d8">20.3</text><rect x="0" y="544.2" width="460" height="1.7" fill="#fff"/><rect x="56.8" y="488" width="2.6" height="113" fill="#fff"/><rect x="114.1" y="488" width="1.9" height="113" fill="#fff"/><rect x="170.7" y="488" width="2.4" height="113" fill="#fff"/><rect x="227.8" y="488" width="2.5" height="113" fill="#fff"/><rect x="285" y="488" width="2" height="113" fill="#fff"/><rect x="341.7" y="488" width="1.4" height="113" fill="#fff"/><rect x="397.8" y="488" width="1.3" height="113" fill="#fff"/><line x1="418.7" y1="595" x2="449.3" y2="595" stroke="#fff" stroke-width="1.2"/><text x="434" y="591.23" font-size="7.3" font-weight="normal" text-anchor="middle" fill="#fff">100 µm</text><line x1="1.8" y1="605.1" x2="227.7" y2="605.1" stroke="#555" stroke-width="1.2"/><line x1="230.2" y1="605.1" x2="453.3" y2="605.1" stroke="#555" stroke-width="1.2"/><text x="117.4" y="615.94" font-size="7.6" font-weight="bold" text-anchor="middle">A549</text><text x="340.6" y="615.94" font-size="7.6" font-weight="bold" text-anchor="middle">NCI-H1299</text><text x="431.4" y="614.12" font-size="8.1" font-weight="normal" text-anchor="middle">100 ×</text><text x="519.9" y="504.89" font-size="7.2" font-weight="bold" text-anchor="middle">A549</text><line x1="477.5" y1="520.1" x2="477.5" y2="589.7" stroke="#222" stroke-width="0.9"/><line x1="474.9" y1="589.3" x2="477.5" y2="589.3" stroke="#222" stroke-width="0.9"/><text x="473.9" y="591.32" font-size="5.6" font-weight="bold" text-anchor="end">0.0</text><line x1="474.9" y1="572.1" x2="477.5" y2="572.1" stroke="#222" stroke-width="0.9"/><text x="473.9" y="574.12" font-size="5.6" font-weight="bold" text-anchor="end">0.2</text><line x1="474.9" y1="554.9" x2="477.5" y2="554.9" stroke="#222" stroke-width="0.9"/><text x="473.9" y="556.92" font-size="5.6" font-weight="bold" text-anchor="end">0.4</text><line x1="474.9" y1="537.7" x2="477.5" y2="537.7" stroke="#222" stroke-width="0.9"/><text x="473.9" y="539.72" font-size="5.6" font-weight="bold" text-anchor="end">0.6</text><line x1="474.9" y1="520.5" x2="477.5" y2="520.5" stroke="#222" stroke-width="0.9"/><text x="473.9" y="522.52" font-size="5.6" font-weight="bold" text-anchor="end">0.8</text><line x1="477.5" y1="589.3" x2="560.2" y2="589.3" stroke="#222" stroke-width="0.9"/><line x1="490.6" y1="531.68" x2="490.6" y2="535.98" stroke="#555" stroke-width="0.9"/><line x1="487.1" y1="531.68" x2="494.1" y2="531.68" stroke="#555" stroke-width="0.9"/><rect x="484" y="535.98" width="13.2" height="53.32" fill="#000" stroke="#222" stroke-width="0.6"/><line x1="490.6" y1="589.3" x2="490.6" y2="591.3" stroke="#222" stroke-width="0.9"/><line x1="510.5" y1="523.51" x2="510.5" y2="527.38" stroke="#555" stroke-width="0.9"/><line x1="507" y1="523.51" x2="514" y2="523.51" stroke="#555" stroke-width="0.9"/><rect x="503.9" y="527.38" width="13.2" height="61.92" fill="#4a32ff" stroke="#222" stroke-width="0.6"/><line x1="510.5" y1="589.3" x2="510.5" y2="591.3" stroke="#222" stroke-width="0.9"/><line x1="530.1" y1="551.2" x2="530.1" y2="553.18" stroke="#555" stroke-width="0.9"/><line x1="526.6" y1="551.2" x2="533.6" y2="551.2" stroke="#555" stroke-width="0.9"/><rect x="523.5" y="553.18" width="13.2" height="36.12" fill="#2e6e48" stroke="#222" stroke-width="0.6"/><line x1="530.1" y1="589.3" x2="530.1" y2="591.3" stroke="#222" stroke-width="0.9"/><line x1="550" y1="536.84" x2="550" y2="538.56" stroke="#555" stroke-width="0.9"/><line x1="546.5" y1="536.84" x2="553.5" y2="536.84" stroke="#555" stroke-width="0.9"/><rect x="543.4" y="538.56" width="13.2" height="50.74" fill="#d246f5" stroke="#222" stroke-width="0.6"/><line x1="550" y1="589.3" x2="550" y2="591.3" stroke="#222" stroke-width="0.9"/><line x1="490.7" y1="521.5" x2="509.9" y2="521.5" stroke="#000" stroke-width="1.05"/><path d="M500.3 517.32L500.81 518.37L501.96 518.53L501.13 519.35L501.33 520.49L500.3 519.95L499.27 520.49L499.47 519.35L498.64 518.53L499.79 518.37Z" fill="#000"/><line x1="490.7" y1="516.2" x2="529.8" y2="516.2" stroke="#000" stroke-width="1.05"/><path d="M506.7 512.02L507.21 513.07L508.36 513.23L507.53 514.05L507.73 515.19L506.7 514.65L505.67 515.19L505.87 514.05L505.04 513.23L506.19 513.07ZM510.7 512.02L511.21 513.07L512.36 513.23L511.53 514.05L511.73 515.19L510.7 514.65L509.67 515.19L509.87 514.05L509.04 513.23L510.19 513.07Z" fill="#000"/><line x1="509.9" y1="511.2" x2="548.9" y2="511.2" stroke="#000" stroke-width="1.05"/><path d="M529.4 507.03L529.91 508.07L531.06 508.23L530.23 509.05L530.43 510.19L529.4 509.65L528.37 510.19L528.57 509.05L527.74 508.23L528.89 508.07ZM533.4 507.03L533.91 508.07L535.06 508.23L534.23 509.05L534.43 510.19L533.4 509.65L532.37 510.19L532.57 509.05L531.74 508.23L532.89 508.07Z" fill="#000"/><line x1="527.1" y1="534.2" x2="548.7" y2="534.2" stroke="#000" stroke-width="1.05"/><path d="M533.9 530.02L534.41 531.07L535.56 531.23L534.73 532.05L534.93 533.19L533.9 532.65L532.87 533.19L533.07 532.05L532.24 531.23L533.39 531.07ZM537.9 530.02L538.41 531.07L539.56 531.23L538.73 532.05L538.93 533.19L537.9 532.65L536.87 533.19L537.07 532.05L536.24 531.23L537.39 531.07ZM541.9 530.02L542.41 531.07L543.56 531.23L542.73 532.05L542.93 533.19L541.9 532.65L540.87 533.19L541.07 532.05L540.24 531.23L541.39 531.07Z" fill="#000"/><text x="460.8" y="560.9" font-size="6.4" font-weight="bold" text-anchor="middle" transform="rotate(-90 460.8 558.6)">Migration rate</text><text x="480.9" y="602.26" font-size="7.1" font-weight="bold" text-anchor="end">MAT1A</text><text x="481.3" y="615.06" font-size="7.1" font-weight="bold" text-anchor="end">shCCND1</text><text x="490.7" y="602.52" font-size="7" font-weight="bold" text-anchor="middle">-</text><text x="490.7" y="615.02" font-size="7" font-weight="bold" text-anchor="middle">-</text><text x="511.1" y="602.52" font-size="7" font-weight="bold" text-anchor="middle">+</text><text x="511.1" y="615.02" font-size="7" font-weight="bold" text-anchor="middle">-</text><text x="530.7" y="602.52" font-size="7" font-weight="bold" text-anchor="middle">-</text><text x="530.7" y="615.02" font-size="7" font-weight="bold" text-anchor="middle">+</text><text x="548.9" y="602.52" font-size="7" font-weight="bold" text-anchor="middle">+</text><text x="548.9" y="615.02" font-size="7" font-weight="bold" text-anchor="middle">+</text><text x="643.6" y="508.49" font-size="7.2" font-weight="bold" text-anchor="middle">NCI-H1299</text><line x1="594.2" y1="517" x2="594.2" y2="590.9" stroke="#222" stroke-width="0.9"/><line x1="591.6" y1="590.5" x2="594.2" y2="590.5" stroke="#222" stroke-width="0.9"/><text x="590.6" y="592.52" font-size="5.6" font-weight="bold" text-anchor="end">0.0</text><line x1="591.6" y1="575.88" x2="594.2" y2="575.88" stroke="#222" stroke-width="0.9"/><text x="590.6" y="577.9" font-size="5.6" font-weight="bold" text-anchor="end">0.2</text><line x1="591.6" y1="561.26" x2="594.2" y2="561.26" stroke="#222" stroke-width="0.9"/><text x="590.6" y="563.28" font-size="5.6" font-weight="bold" text-anchor="end">0.4</text><line x1="591.6" y1="546.64" x2="594.2" y2="546.64" stroke="#222" stroke-width="0.9"/><text x="590.6" y="548.66" font-size="5.6" font-weight="bold" text-anchor="end">0.6</text><line x1="591.6" y1="532.02" x2="594.2" y2="532.02" stroke="#222" stroke-width="0.9"/><text x="590.6" y="534.04" font-size="5.6" font-weight="bold" text-anchor="end">0.8</text><line x1="591.6" y1="517.4" x2="594.2" y2="517.4" stroke="#222" stroke-width="0.9"/><text x="590.6" y="519.42" font-size="5.6" font-weight="bold" text-anchor="end">1.0</text><line x1="594.2" y1="590.5" x2="677.6" y2="590.5" stroke="#222" stroke-width="0.9"/><line x1="607.5" y1="546.42" x2="607.5" y2="548.83" stroke="#555" stroke-width="0.9"/><line x1="604" y1="546.42" x2="611" y2="546.42" stroke="#555" stroke-width="0.9"/><rect x="600.9" y="548.83" width="13.2" height="41.67" fill="#000" stroke="#222" stroke-width="0.6"/><line x1="607.5" y1="590.5" x2="607.5" y2="592.5" stroke="#222" stroke-width="0.9"/><line x1="626.7" y1="530.19" x2="626.7" y2="534.94" stroke="#555" stroke-width="0.9"/><line x1="623.2" y1="530.19" x2="630.2" y2="530.19" stroke="#555" stroke-width="0.9"/><rect x="620.1" y="534.94" width="13.2" height="55.56" fill="#4a32ff" stroke="#222" stroke-width="0.6"/><line x1="626.7" y1="590.5" x2="626.7" y2="592.5" stroke="#222" stroke-width="0.9"/><line x1="646.45" y1="559.58" x2="646.45" y2="561.99" stroke="#555" stroke-width="0.9"/><line x1="642.95" y1="559.58" x2="649.95" y2="559.58" stroke="#555" stroke-width="0.9"/><rect x="640" y="561.99" width="12.9" height="28.51" fill="#2e6e48" stroke="#222" stroke-width="0.6"/><line x1="646.45" y1="590.5" x2="646.45" y2="592.5" stroke="#222" stroke-width="0.9"/><line x1="665.6" y1="555.92" x2="665.6" y2="557.61" stroke="#555" stroke-width="0.9"/><line x1="662.1" y1="555.92" x2="669.1" y2="555.92" stroke="#555" stroke-width="0.9"/><rect x="659.1" y="557.61" width="13" height="32.89" fill="#d246f5" stroke="#222" stroke-width="0.6"/><line x1="665.6" y1="590.5" x2="665.6" y2="592.5" stroke="#222" stroke-width="0.9"/><line x1="608.1" y1="519.6" x2="644" y2="519.6" stroke="#000" stroke-width="1.05"/><path d="M627.7 515.42L628.21 516.47L629.36 516.63L628.53 517.45L628.73 518.59L627.7 518.05L626.67 518.59L626.87 517.45L626.04 516.63L627.19 516.47ZM631.7 515.42L632.21 516.47L633.36 516.63L632.53 517.45L632.73 518.59L631.7 518.05L630.67 518.59L630.87 517.45L630.04 516.63L631.19 516.47Z" fill="#000"/><line x1="608.1" y1="528.2" x2="629.2" y2="528.2" stroke="#000" stroke-width="1.05"/><path d="M618.65 524.02L619.16 525.07L620.31 525.23L619.48 526.05L619.68 527.19L618.65 526.65L617.62 527.19L617.82 526.05L616.99 525.23L618.14 525.07Z" fill="#000"/><line x1="629.2" y1="525.1" x2="668.5" y2="525.1" stroke="#000" stroke-width="1.05"/><path d="M646.8 520.82L647.31 521.87L648.46 522.03L647.63 522.85L647.83 523.99L646.8 523.45L645.77 523.99L645.97 522.85L645.14 522.03L646.29 521.87ZM650.8 520.82L651.31 521.87L652.46 522.03L651.63 522.85L651.83 523.99L650.8 523.45L649.77 523.99L649.97 522.85L649.14 522.03L650.29 521.87Z" fill="#000"/><line x1="647.2" y1="554.6" x2="668" y2="554.6" stroke="#000" stroke-width="1.05"/><path d="M657.6 550.42L658.11 551.47L659.26 551.63L658.43 552.45L658.63 553.59L657.6 553.05L656.57 553.59L656.77 552.45L655.94 551.63L657.09 551.47Z" fill="#000"/><text x="577" y="556.1" font-size="6.4" font-weight="bold" text-anchor="middle" transform="rotate(-90 577 553.8)">Migration rate</text><text x="594.3" y="603.99" font-size="7.2" font-weight="bold" text-anchor="end">MAT1A</text><text x="594.9" y="617.09" font-size="7.2" font-weight="bold" text-anchor="end">shCCND1</text><text x="607.6" y="604.22" font-size="7" font-weight="bold" text-anchor="middle">-</text><text x="607.6" y="616.92" font-size="7" font-weight="bold" text-anchor="middle">-</text><text x="624.9" y="604.22" font-size="7" font-weight="bold" text-anchor="middle">+</text><text x="624.9" y="616.92" font-size="7" font-weight="bold" text-anchor="middle">-</text><text x="644" y="604.22" font-size="7" font-weight="bold" text-anchor="middle">-</text><text x="644" y="616.92" font-size="7" font-weight="bold" text-anchor="middle">+</text><text x="662" y="604.22" font-size="7" font-weight="bold" text-anchor="middle">+</text><text x="662" y="616.92" font-size="7" font-weight="bold" text-anchor="middle">+</text></svg></body></html>
